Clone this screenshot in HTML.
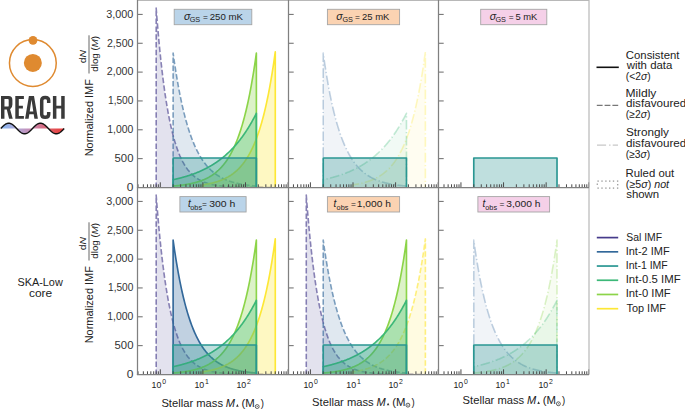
<!DOCTYPE html><html><head><meta charset="utf-8"><style>html,body{margin:0;padding:0;background:#fff;}svg{display:block}text{font-family:"Liberation Sans", sans-serif}</style></head><body>
<svg width="685" height="409" viewBox="0 0 685 409">
<defs>
<clipPath id="cp00"><rect x="137.5" y="0" width="151" height="187.5"/></clipPath>
<clipPath id="cp10"><rect x="288.5" y="0" width="150" height="187.5"/></clipPath>
<clipPath id="cp20"><rect x="438.5" y="0" width="150.5" height="187.5"/></clipPath>
<clipPath id="cp01"><rect x="137.5" y="187.5" width="151" height="187"/></clipPath>
<clipPath id="cp11"><rect x="288.5" y="187.5" width="150" height="187"/></clipPath>
<clipPath id="cp21"><rect x="438.5" y="187.5" width="150.5" height="187"/></clipPath>
<linearGradient id="wg" gradientUnits="userSpaceOnUse" x1="0.8" y1="0" x2="64.2" y2="0"><stop offset="0" stop-color="#84b8f4"/><stop offset="0.25" stop-color="#b0a8d8"/><stop offset="0.5" stop-color="#cc88b0"/><stop offset="0.62" stop-color="#d27592"/><stop offset="0.78" stop-color="#de5a60"/><stop offset="1" stop-color="#ea3a38"/></linearGradient>
</defs>
<g clip-path="url(#cp00)">
<path d="M156.17,187.5 L156.17,8.11 L156.92,17.59 L157.66,26.58 L158.4,35.09 L159.15,43.14 L159.89,50.78 L160.64,58 L161.38,64.85 L162.13,71.33 L162.87,77.48 L163.62,83.29 L164.36,88.8 L165.1,94.02 L165.85,98.96 L166.59,103.64 L167.34,108.08 L168.08,112.28 L168.83,116.25 L169.57,120.02 L170.32,123.59 L171.06,126.97 L171.8,130.17 L172.55,133.2 L173.29,136.07 L174.04,138.79 L174.78,141.36 L175.53,143.8 L176.27,146.11 L177.01,148.3 L177.76,150.37 L178.5,152.34 L179.25,154.2 L179.99,155.96 L180.74,157.62 L181.48,159.2 L182.23,160.7 L182.97,162.12 L183.71,163.46 L184.46,164.73 L185.2,165.93 L185.95,167.07 L186.69,168.15 L187.44,169.18 L188.18,170.15 L188.93,171.06 L189.67,171.93 L190.41,172.75 L191.16,173.53 L191.9,174.27 L192.65,174.97 L193.39,175.63 L194.14,176.26 L194.88,176.86 L195.62,177.42 L196.37,177.95 L197.11,178.46 L197.86,178.93 L198.6,179.39 L199.35,179.82 L200.09,180.22 L200.84,180.61 L201.58,180.97 L202.32,181.32 L203.07,181.64 L203.81,181.95 L204.56,182.25 L205.3,182.52 L206.05,182.79 L206.79,183.04 L207.54,183.27 L208.28,183.5 L209.02,183.71 L209.77,183.91 L210.51,184.1 L211.26,184.28 L212,184.45 L212.75,184.61 L213.49,184.76 L214.24,184.91 L214.98,185.04 L215.72,185.17 L216.47,185.3 L217.21,185.41 L217.96,185.52 L218.7,185.63 L219.45,185.73 L220.19,185.82 L220.93,185.91 L221.68,185.99 L222.42,186.07 L223.17,186.15 L223.91,186.22 L224.66,186.29 L225.4,186.35 L226.15,186.41 L226.89,186.47 L227.63,186.52 L228.38,186.58 L229.12,186.63 L229.87,186.67 L230.61,186.72 L231.36,186.76 L232.1,186.8 L232.85,186.83 L233.59,186.87 L234.33,186.9 L235.08,186.93 L235.82,186.96 L236.57,186.99 L237.31,187.02 L238.06,187.04 L238.8,187.07 L239.54,187.09 L240.29,187.11 L241.03,187.13 L241.78,187.15 L242.52,187.17 L243.27,187.19 L244.01,187.2 L244.76,187.22 L245.5,187.24 L246.24,187.25 L246.99,187.26 L247.73,187.27 L248.48,187.29 L249.22,187.3 L249.97,187.31 L250.71,187.32 L251.46,187.33 L252.2,187.34 L252.94,187.35 L253.69,187.35 L254.43,187.36 L255.18,187.37 L255.92,187.38 L256.67,187.38 L257.41,187.39 L258.15,187.39 L258.9,187.4 L259.64,187.41 L260.39,187.41 L261.13,187.42 L261.88,187.42 L262.62,187.42 L263.37,187.43 L264.11,187.43 L264.85,187.44 L265.6,187.44 L266.34,187.44 L267.09,187.45 L267.83,187.45 L268.58,187.45 L269.32,187.45 L270.07,187.46 L270.81,187.46 L271.55,187.46 L272.3,187.46 L273.04,187.46 L273.79,187.47 L274.53,187.47 L275.28,187.47 L275.28,187.5 Z" fill="rgba(70,59,139,0.150)"/>
<path d="M156.17,187.5 L156.17,8.11 L156.92,17.59 L157.66,26.58 L158.4,35.09 L159.15,43.14 L159.89,50.78 L160.64,58 L161.38,64.85 L162.13,71.33 L162.87,77.48 L163.62,83.29 L164.36,88.8 L165.1,94.02 L165.85,98.96 L166.59,103.64 L167.34,108.08 L168.08,112.28 L168.83,116.25 L169.57,120.02 L170.32,123.59 L171.06,126.97 L171.8,130.17 L172.55,133.2 L173.29,136.07 L174.04,138.79 L174.78,141.36 L175.53,143.8 L176.27,146.11 L177.01,148.3 L177.76,150.37 L178.5,152.34 L179.25,154.2 L179.99,155.96 L180.74,157.62 L181.48,159.2 L182.23,160.7 L182.97,162.12 L183.71,163.46 L184.46,164.73 L185.2,165.93 L185.95,167.07 L186.69,168.15 L187.44,169.18 L188.18,170.15 L188.93,171.06 L189.67,171.93 L190.41,172.75 L191.16,173.53 L191.9,174.27 L192.65,174.97 L193.39,175.63 L194.14,176.26 L194.88,176.86 L195.62,177.42 L196.37,177.95 L197.11,178.46 L197.86,178.93 L198.6,179.39 L199.35,179.82 L200.09,180.22 L200.84,180.61 L201.58,180.97 L202.32,181.32 L203.07,181.64 L203.81,181.95 L204.56,182.25 L205.3,182.52 L206.05,182.79 L206.79,183.04 L207.54,183.27 L208.28,183.5 L209.02,183.71 L209.77,183.91 L210.51,184.1 L211.26,184.28 L212,184.45 L212.75,184.61 L213.49,184.76 L214.24,184.91 L214.98,185.04 L215.72,185.17 L216.47,185.3 L217.21,185.41 L217.96,185.52 L218.7,185.63 L219.45,185.73 L220.19,185.82 L220.93,185.91 L221.68,185.99 L222.42,186.07 L223.17,186.15 L223.91,186.22 L224.66,186.29 L225.4,186.35 L226.15,186.41 L226.89,186.47 L227.63,186.52 L228.38,186.58 L229.12,186.63 L229.87,186.67 L230.61,186.72 L231.36,186.76 L232.1,186.8 L232.85,186.83 L233.59,186.87 L234.33,186.9 L235.08,186.93 L235.82,186.96 L236.57,186.99 L237.31,187.02 L238.06,187.04 L238.8,187.07 L239.54,187.09 L240.29,187.11 L241.03,187.13 L241.78,187.15 L242.52,187.17 L243.27,187.19 L244.01,187.2 L244.76,187.22 L245.5,187.24 L246.24,187.25 L246.99,187.26 L247.73,187.27 L248.48,187.29 L249.22,187.3 L249.97,187.31 L250.71,187.32 L251.46,187.33 L252.2,187.34 L252.94,187.35 L253.69,187.35 L254.43,187.36 L255.18,187.37 L255.92,187.38 L256.67,187.38 L257.41,187.39 L258.15,187.39 L258.9,187.4 L259.64,187.41 L260.39,187.41 L261.13,187.42 L261.88,187.42 L262.62,187.42 L263.37,187.43 L264.11,187.43 L264.85,187.44 L265.6,187.44 L266.34,187.44 L267.09,187.45 L267.83,187.45 L268.58,187.45 L269.32,187.45 L270.07,187.46 L270.81,187.46 L271.55,187.46 L272.3,187.46 L273.04,187.46 L273.79,187.47 L274.53,187.47 L275.28,187.47 L275.28,187.5" fill="none" stroke="rgba(70,59,139,0.620)" stroke-width="1.6" stroke-linejoin="round" stroke-dasharray="5.5 2.3" stroke-dashoffset="0.4"/>
<path d="M173.12,187.5 L173.12,53.15 L173.64,56.87 L174.16,60.5 L174.68,64.02 L175.21,67.44 L175.73,70.77 L176.25,74.01 L176.77,77.16 L177.29,80.22 L177.81,83.19 L178.33,86.08 L178.85,88.9 L179.37,91.63 L179.89,94.29 L180.41,96.88 L180.93,99.39 L181.45,101.83 L181.97,104.21 L182.49,106.52 L183.01,108.76 L183.53,110.95 L184.05,113.07 L184.57,115.13 L185.09,117.14 L185.61,119.09 L186.13,120.99 L186.65,122.83 L187.17,124.63 L187.69,126.37 L188.21,128.07 L188.73,129.71 L189.25,131.32 L189.77,132.87 L190.29,134.39 L190.81,135.86 L191.33,137.29 L191.86,138.69 L192.38,140.04 L192.9,141.36 L193.42,142.64 L193.94,143.88 L194.46,145.09 L194.98,146.27 L195.5,147.41 L196.02,148.52 L196.54,149.6 L197.06,150.65 L197.58,151.68 L198.1,152.67 L198.62,153.63 L199.14,154.57 L199.66,155.49 L200.18,156.37 L200.7,157.24 L201.22,158.08 L201.74,158.89 L202.26,159.69 L202.78,160.46 L203.3,161.21 L203.82,161.94 L204.34,162.65 L204.86,163.33 L205.38,164.01 L205.9,164.66 L206.42,165.29 L206.94,165.91 L207.46,166.5 L207.99,167.09 L208.51,167.65 L209.03,168.2 L209.55,168.74 L210.07,169.26 L210.59,169.76 L211.11,170.26 L211.63,170.73 L212.15,171.2 L212.67,171.65 L213.19,172.09 L213.71,172.52 L214.23,172.93 L214.75,173.34 L215.27,173.73 L215.79,174.11 L216.31,174.48 L216.83,174.84 L217.35,175.2 L217.87,175.54 L218.39,175.87 L218.91,176.19 L219.43,176.5 L219.95,176.81 L220.47,177.11 L220.99,177.39 L221.51,177.67 L222.03,177.95 L222.55,178.21 L223.07,178.47 L223.59,178.72 L224.11,178.96 L224.64,179.2 L225.16,179.43 L225.68,179.65 L226.2,179.87 L226.72,180.08 L227.24,180.29 L227.76,180.49 L228.28,180.68 L228.8,180.87 L229.32,181.06 L229.84,181.24 L230.36,181.41 L230.88,181.58 L231.4,181.74 L231.92,181.9 L232.44,182.06 L232.96,182.21 L233.48,182.35 L234,182.5 L234.52,182.64 L235.04,182.77 L235.56,182.9 L236.08,183.03 L236.6,183.15 L237.12,183.27 L237.64,183.39 L238.16,183.51 L238.68,183.62 L239.2,183.72 L239.72,183.83 L240.24,183.93 L240.77,184.03 L241.29,184.13 L241.81,184.22 L242.33,184.31 L242.85,184.4 L243.37,184.48 L243.89,184.57 L244.41,184.65 L244.93,184.73 L245.45,184.81 L245.97,184.88 L246.49,184.95 L247.01,185.02 L247.53,185.09 L248.05,185.16 L248.57,185.22 L249.09,185.29 L249.61,185.35 L250.13,185.41 L250.65,185.47 L251.17,185.52 L251.69,185.58 L252.21,185.63 L252.73,185.68 L253.25,185.73 L253.77,185.78 L254.29,185.83 L254.81,185.88 L255.33,185.92 L255.85,185.96 L256.37,186.01 L256.37,187.5 Z" fill="rgba(50,104,154,0.150)"/>
<path d="M173.12,187.5 L173.12,53.15 L173.64,56.87 L174.16,60.5 L174.68,64.02 L175.21,67.44 L175.73,70.77 L176.25,74.01 L176.77,77.16 L177.29,80.22 L177.81,83.19 L178.33,86.08 L178.85,88.9 L179.37,91.63 L179.89,94.29 L180.41,96.88 L180.93,99.39 L181.45,101.83 L181.97,104.21 L182.49,106.52 L183.01,108.76 L183.53,110.95 L184.05,113.07 L184.57,115.13 L185.09,117.14 L185.61,119.09 L186.13,120.99 L186.65,122.83 L187.17,124.63 L187.69,126.37 L188.21,128.07 L188.73,129.71 L189.25,131.32 L189.77,132.87 L190.29,134.39 L190.81,135.86 L191.33,137.29 L191.86,138.69 L192.38,140.04 L192.9,141.36 L193.42,142.64 L193.94,143.88 L194.46,145.09 L194.98,146.27 L195.5,147.41 L196.02,148.52 L196.54,149.6 L197.06,150.65 L197.58,151.68 L198.1,152.67 L198.62,153.63 L199.14,154.57 L199.66,155.49 L200.18,156.37 L200.7,157.24 L201.22,158.08 L201.74,158.89 L202.26,159.69 L202.78,160.46 L203.3,161.21 L203.82,161.94 L204.34,162.65 L204.86,163.33 L205.38,164.01 L205.9,164.66 L206.42,165.29 L206.94,165.91 L207.46,166.5 L207.99,167.09 L208.51,167.65 L209.03,168.2 L209.55,168.74 L210.07,169.26 L210.59,169.76 L211.11,170.26 L211.63,170.73 L212.15,171.2 L212.67,171.65 L213.19,172.09 L213.71,172.52 L214.23,172.93 L214.75,173.34 L215.27,173.73 L215.79,174.11 L216.31,174.48 L216.83,174.84 L217.35,175.2 L217.87,175.54 L218.39,175.87 L218.91,176.19 L219.43,176.5 L219.95,176.81 L220.47,177.11 L220.99,177.39 L221.51,177.67 L222.03,177.95 L222.55,178.21 L223.07,178.47 L223.59,178.72 L224.11,178.96 L224.64,179.2 L225.16,179.43 L225.68,179.65 L226.2,179.87 L226.72,180.08 L227.24,180.29 L227.76,180.49 L228.28,180.68 L228.8,180.87 L229.32,181.06 L229.84,181.24 L230.36,181.41 L230.88,181.58 L231.4,181.74 L231.92,181.9 L232.44,182.06 L232.96,182.21 L233.48,182.35 L234,182.5 L234.52,182.64 L235.04,182.77 L235.56,182.9 L236.08,183.03 L236.6,183.15 L237.12,183.27 L237.64,183.39 L238.16,183.51 L238.68,183.62 L239.2,183.72 L239.72,183.83 L240.24,183.93 L240.77,184.03 L241.29,184.13 L241.81,184.22 L242.33,184.31 L242.85,184.4 L243.37,184.48 L243.89,184.57 L244.41,184.65 L244.93,184.73 L245.45,184.81 L245.97,184.88 L246.49,184.95 L247.01,185.02 L247.53,185.09 L248.05,185.16 L248.57,185.22 L249.09,185.29 L249.61,185.35 L250.13,185.41 L250.65,185.47 L251.17,185.52 L251.69,185.58 L252.21,185.63 L252.73,185.68 L253.25,185.73 L253.77,185.78 L254.29,185.83 L254.81,185.88 L255.33,185.92 L255.85,185.96 L256.37,186.01 L256.37,187.5" fill="none" stroke="rgba(50,104,154,0.620)" stroke-width="1.6" stroke-linejoin="round" stroke-dasharray="5.5 2.3" stroke-dashoffset="0.4"/>
<path d="M202.9,187.5 L202.9,184.79 L203.35,184.72 L203.8,184.65 L204.26,184.58 L204.71,184.51 L205.16,184.44 L205.61,184.36 L206.07,184.28 L206.52,184.2 L206.97,184.12 L207.42,184.04 L207.88,183.95 L208.33,183.86 L208.78,183.77 L209.23,183.68 L209.69,183.59 L210.14,183.49 L210.59,183.39 L211.04,183.29 L211.49,183.19 L211.95,183.08 L212.4,182.97 L212.85,182.86 L213.3,182.74 L213.76,182.62 L214.21,182.5 L214.66,182.38 L215.11,182.25 L215.57,182.12 L216.02,181.99 L216.47,181.85 L216.92,181.71 L217.38,181.57 L217.83,181.42 L218.28,181.27 L218.73,181.12 L219.18,180.96 L219.64,180.8 L220.09,180.63 L220.54,180.46 L220.99,180.29 L221.45,180.11 L221.9,179.93 L222.35,179.74 L222.8,179.55 L223.26,179.35 L223.71,179.15 L224.16,178.94 L224.61,178.73 L225.07,178.52 L225.52,178.29 L225.97,178.06 L226.42,177.83 L226.87,177.59 L227.33,177.35 L227.78,177.1 L228.23,176.84 L228.68,176.57 L229.14,176.3 L229.59,176.03 L230.04,175.74 L230.49,175.45 L230.95,175.15 L231.4,174.85 L231.85,174.53 L232.3,174.21 L232.76,173.88 L233.21,173.55 L233.66,173.2 L234.11,172.85 L234.56,172.49 L235.02,172.11 L235.47,171.73 L235.92,171.34 L236.37,170.94 L236.83,170.53 L237.28,170.11 L237.73,169.68 L238.18,169.24 L238.64,168.79 L239.09,168.33 L239.54,167.85 L239.99,167.37 L240.45,166.87 L240.9,166.36 L241.35,165.83 L241.8,165.3 L242.25,164.75 L242.71,164.19 L243.16,163.61 L243.61,163.02 L244.06,162.41 L244.52,161.79 L244.97,161.15 L245.42,160.5 L245.87,159.83 L246.33,159.15 L246.78,158.45 L247.23,157.73 L247.68,156.99 L248.14,156.24 L248.59,155.46 L249.04,154.67 L249.49,153.86 L249.94,153.02 L250.4,152.17 L250.85,151.3 L251.3,150.4 L251.75,149.48 L252.21,148.54 L252.66,147.58 L253.11,146.59 L253.56,145.57 L254.02,144.54 L254.47,143.47 L254.92,142.38 L255.37,141.27 L255.83,140.12 L256.28,138.95 L256.73,137.75 L257.18,136.52 L257.63,135.26 L258.09,133.96 L258.54,132.64 L258.99,131.28 L259.44,129.89 L259.9,128.46 L260.35,127 L260.8,125.5 L261.25,123.97 L261.71,122.4 L262.16,120.78 L262.61,119.13 L263.06,117.44 L263.52,115.71 L263.97,113.93 L264.42,112.11 L264.87,110.24 L265.32,108.33 L265.78,106.37 L266.23,104.36 L266.68,102.31 L267.13,100.2 L267.59,98.04 L268.04,95.82 L268.49,93.55 L268.94,91.23 L269.4,88.84 L269.85,86.4 L270.3,83.9 L270.75,81.34 L271.2,78.71 L271.66,76.01 L272.11,73.26 L272.56,70.43 L273.01,67.53 L273.47,64.56 L273.92,61.52 L274.37,58.4 L274.82,55.2 L275.28,51.93 L275.28,187.5 Z" fill="rgba(253,231,53,0.300)"/>
<path d="M202.9,187.5 L202.9,184.79 L203.35,184.72 L203.8,184.65 L204.26,184.58 L204.71,184.51 L205.16,184.44 L205.61,184.36 L206.07,184.28 L206.52,184.2 L206.97,184.12 L207.42,184.04 L207.88,183.95 L208.33,183.86 L208.78,183.77 L209.23,183.68 L209.69,183.59 L210.14,183.49 L210.59,183.39 L211.04,183.29 L211.49,183.19 L211.95,183.08 L212.4,182.97 L212.85,182.86 L213.3,182.74 L213.76,182.62 L214.21,182.5 L214.66,182.38 L215.11,182.25 L215.57,182.12 L216.02,181.99 L216.47,181.85 L216.92,181.71 L217.38,181.57 L217.83,181.42 L218.28,181.27 L218.73,181.12 L219.18,180.96 L219.64,180.8 L220.09,180.63 L220.54,180.46 L220.99,180.29 L221.45,180.11 L221.9,179.93 L222.35,179.74 L222.8,179.55 L223.26,179.35 L223.71,179.15 L224.16,178.94 L224.61,178.73 L225.07,178.52 L225.52,178.29 L225.97,178.06 L226.42,177.83 L226.87,177.59 L227.33,177.35 L227.78,177.1 L228.23,176.84 L228.68,176.57 L229.14,176.3 L229.59,176.03 L230.04,175.74 L230.49,175.45 L230.95,175.15 L231.4,174.85 L231.85,174.53 L232.3,174.21 L232.76,173.88 L233.21,173.55 L233.66,173.2 L234.11,172.85 L234.56,172.49 L235.02,172.11 L235.47,171.73 L235.92,171.34 L236.37,170.94 L236.83,170.53 L237.28,170.11 L237.73,169.68 L238.18,169.24 L238.64,168.79 L239.09,168.33 L239.54,167.85 L239.99,167.37 L240.45,166.87 L240.9,166.36 L241.35,165.83 L241.8,165.3 L242.25,164.75 L242.71,164.19 L243.16,163.61 L243.61,163.02 L244.06,162.41 L244.52,161.79 L244.97,161.15 L245.42,160.5 L245.87,159.83 L246.33,159.15 L246.78,158.45 L247.23,157.73 L247.68,156.99 L248.14,156.24 L248.59,155.46 L249.04,154.67 L249.49,153.86 L249.94,153.02 L250.4,152.17 L250.85,151.3 L251.3,150.4 L251.75,149.48 L252.21,148.54 L252.66,147.58 L253.11,146.59 L253.56,145.57 L254.02,144.54 L254.47,143.47 L254.92,142.38 L255.37,141.27 L255.83,140.12 L256.28,138.95 L256.73,137.75 L257.18,136.52 L257.63,135.26 L258.09,133.96 L258.54,132.64 L258.99,131.28 L259.44,129.89 L259.9,128.46 L260.35,127 L260.8,125.5 L261.25,123.97 L261.71,122.4 L262.16,120.78 L262.61,119.13 L263.06,117.44 L263.52,115.71 L263.97,113.93 L264.42,112.11 L264.87,110.24 L265.32,108.33 L265.78,106.37 L266.23,104.36 L266.68,102.31 L267.13,100.2 L267.59,98.04 L268.04,95.82 L268.49,93.55 L268.94,91.23 L269.4,88.84 L269.85,86.4 L270.3,83.9 L270.75,81.34 L271.2,78.71 L271.66,76.01 L272.11,73.26 L272.56,70.43 L273.01,67.53 L273.47,64.56 L273.92,61.52 L274.37,58.4 L274.82,55.2 L275.28,51.93 L275.28,187.5" fill="none" stroke="rgba(253,231,53,1.000)" stroke-width="1.65" stroke-linejoin="round"/>
<path d="M173.12,187.5 L173.12,186.01 L173.64,185.96 L174.16,185.92 L174.68,185.88 L175.21,185.83 L175.73,185.78 L176.25,185.73 L176.77,185.68 L177.29,185.63 L177.81,185.58 L178.33,185.52 L178.85,185.47 L179.37,185.41 L179.89,185.35 L180.41,185.29 L180.93,185.22 L181.45,185.16 L181.97,185.09 L182.49,185.02 L183.01,184.95 L183.53,184.88 L184.05,184.81 L184.57,184.73 L185.09,184.65 L185.61,184.57 L186.13,184.48 L186.65,184.4 L187.17,184.31 L187.69,184.22 L188.21,184.13 L188.73,184.03 L189.25,183.93 L189.77,183.83 L190.29,183.72 L190.81,183.62 L191.33,183.51 L191.86,183.39 L192.38,183.27 L192.9,183.15 L193.42,183.03 L193.94,182.9 L194.46,182.77 L194.98,182.64 L195.5,182.5 L196.02,182.35 L196.54,182.21 L197.06,182.06 L197.58,181.9 L198.1,181.74 L198.62,181.58 L199.14,181.41 L199.66,181.24 L200.18,181.06 L200.7,180.87 L201.22,180.68 L201.74,180.49 L202.26,180.29 L202.78,180.08 L203.3,179.87 L203.82,179.65 L204.34,179.43 L204.86,179.2 L205.38,178.96 L205.9,178.72 L206.42,178.47 L206.94,178.21 L207.46,177.95 L207.99,177.67 L208.51,177.39 L209.03,177.11 L209.55,176.81 L210.07,176.5 L210.59,176.19 L211.11,175.87 L211.63,175.54 L212.15,175.2 L212.67,174.84 L213.19,174.48 L213.71,174.11 L214.23,173.73 L214.75,173.34 L215.27,172.93 L215.79,172.52 L216.31,172.09 L216.83,171.65 L217.35,171.2 L217.87,170.73 L218.39,170.26 L218.91,169.76 L219.43,169.26 L219.95,168.74 L220.47,168.2 L220.99,167.65 L221.51,167.09 L222.03,166.5 L222.55,165.91 L223.07,165.29 L223.59,164.66 L224.11,164.01 L224.64,163.33 L225.16,162.65 L225.68,161.94 L226.2,161.21 L226.72,160.46 L227.24,159.69 L227.76,158.89 L228.28,158.08 L228.8,157.24 L229.32,156.37 L229.84,155.49 L230.36,154.57 L230.88,153.63 L231.4,152.67 L231.92,151.68 L232.44,150.65 L232.96,149.6 L233.48,148.52 L234,147.41 L234.52,146.27 L235.04,145.09 L235.56,143.88 L236.08,142.64 L236.6,141.36 L237.12,140.04 L237.64,138.69 L238.16,137.29 L238.68,135.86 L239.2,134.39 L239.72,132.87 L240.24,131.32 L240.77,129.71 L241.29,128.07 L241.81,126.37 L242.33,124.63 L242.85,122.83 L243.37,120.99 L243.89,119.09 L244.41,117.14 L244.93,115.13 L245.45,113.07 L245.97,110.95 L246.49,108.76 L247.01,106.52 L247.53,104.21 L248.05,101.83 L248.57,99.39 L249.09,96.88 L249.61,94.29 L250.13,91.63 L250.65,88.9 L251.17,86.08 L251.69,83.19 L252.21,80.22 L252.73,77.16 L253.25,74.01 L253.77,70.77 L254.29,67.44 L254.81,64.02 L255.33,60.5 L255.85,56.87 L256.37,53.15 L256.37,187.5 Z" fill="rgba(140,212,73,0.300)"/>
<path d="M173.12,187.5 L173.12,186.01 L173.64,185.96 L174.16,185.92 L174.68,185.88 L175.21,185.83 L175.73,185.78 L176.25,185.73 L176.77,185.68 L177.29,185.63 L177.81,185.58 L178.33,185.52 L178.85,185.47 L179.37,185.41 L179.89,185.35 L180.41,185.29 L180.93,185.22 L181.45,185.16 L181.97,185.09 L182.49,185.02 L183.01,184.95 L183.53,184.88 L184.05,184.81 L184.57,184.73 L185.09,184.65 L185.61,184.57 L186.13,184.48 L186.65,184.4 L187.17,184.31 L187.69,184.22 L188.21,184.13 L188.73,184.03 L189.25,183.93 L189.77,183.83 L190.29,183.72 L190.81,183.62 L191.33,183.51 L191.86,183.39 L192.38,183.27 L192.9,183.15 L193.42,183.03 L193.94,182.9 L194.46,182.77 L194.98,182.64 L195.5,182.5 L196.02,182.35 L196.54,182.21 L197.06,182.06 L197.58,181.9 L198.1,181.74 L198.62,181.58 L199.14,181.41 L199.66,181.24 L200.18,181.06 L200.7,180.87 L201.22,180.68 L201.74,180.49 L202.26,180.29 L202.78,180.08 L203.3,179.87 L203.82,179.65 L204.34,179.43 L204.86,179.2 L205.38,178.96 L205.9,178.72 L206.42,178.47 L206.94,178.21 L207.46,177.95 L207.99,177.67 L208.51,177.39 L209.03,177.11 L209.55,176.81 L210.07,176.5 L210.59,176.19 L211.11,175.87 L211.63,175.54 L212.15,175.2 L212.67,174.84 L213.19,174.48 L213.71,174.11 L214.23,173.73 L214.75,173.34 L215.27,172.93 L215.79,172.52 L216.31,172.09 L216.83,171.65 L217.35,171.2 L217.87,170.73 L218.39,170.26 L218.91,169.76 L219.43,169.26 L219.95,168.74 L220.47,168.2 L220.99,167.65 L221.51,167.09 L222.03,166.5 L222.55,165.91 L223.07,165.29 L223.59,164.66 L224.11,164.01 L224.64,163.33 L225.16,162.65 L225.68,161.94 L226.2,161.21 L226.72,160.46 L227.24,159.69 L227.76,158.89 L228.28,158.08 L228.8,157.24 L229.32,156.37 L229.84,155.49 L230.36,154.57 L230.88,153.63 L231.4,152.67 L231.92,151.68 L232.44,150.65 L232.96,149.6 L233.48,148.52 L234,147.41 L234.52,146.27 L235.04,145.09 L235.56,143.88 L236.08,142.64 L236.6,141.36 L237.12,140.04 L237.64,138.69 L238.16,137.29 L238.68,135.86 L239.2,134.39 L239.72,132.87 L240.24,131.32 L240.77,129.71 L241.29,128.07 L241.81,126.37 L242.33,124.63 L242.85,122.83 L243.37,120.99 L243.89,119.09 L244.41,117.14 L244.93,115.13 L245.45,113.07 L245.97,110.95 L246.49,108.76 L247.01,106.52 L247.53,104.21 L248.05,101.83 L248.57,99.39 L249.09,96.88 L249.61,94.29 L250.13,91.63 L250.65,88.9 L251.17,86.08 L251.69,83.19 L252.21,80.22 L252.73,77.16 L253.25,74.01 L253.77,70.77 L254.29,67.44 L254.81,64.02 L255.33,60.5 L255.85,56.87 L256.37,53.15 L256.37,187.5" fill="none" stroke="rgba(140,212,73,1.000)" stroke-width="1.65" stroke-linejoin="round"/>
<path d="M173.12,187.5 L173.12,179.67 L173.64,179.56 L174.16,179.45 L174.68,179.34 L175.21,179.22 L175.73,179.1 L176.25,178.98 L176.77,178.86 L177.29,178.74 L177.81,178.62 L178.33,178.49 L178.85,178.36 L179.37,178.23 L179.89,178.1 L180.41,177.97 L180.93,177.83 L181.45,177.7 L181.97,177.56 L182.49,177.42 L183.01,177.28 L183.53,177.13 L184.05,176.98 L184.57,176.83 L185.09,176.68 L185.61,176.53 L186.13,176.38 L186.65,176.22 L187.17,176.06 L187.69,175.9 L188.21,175.73 L188.73,175.56 L189.25,175.4 L189.77,175.22 L190.29,175.05 L190.81,174.87 L191.33,174.7 L191.86,174.51 L192.38,174.33 L192.9,174.14 L193.42,173.95 L193.94,173.76 L194.46,173.57 L194.98,173.37 L195.5,173.17 L196.02,172.97 L196.54,172.76 L197.06,172.55 L197.58,172.34 L198.1,172.13 L198.62,171.91 L199.14,171.69 L199.66,171.46 L200.18,171.24 L200.7,171.01 L201.22,170.77 L201.74,170.54 L202.26,170.3 L202.78,170.05 L203.3,169.81 L203.82,169.56 L204.34,169.3 L204.86,169.04 L205.38,168.78 L205.9,168.52 L206.42,168.25 L206.94,167.98 L207.46,167.7 L207.99,167.42 L208.51,167.13 L209.03,166.85 L209.55,166.55 L210.07,166.26 L210.59,165.96 L211.11,165.65 L211.63,165.34 L212.15,165.03 L212.67,164.71 L213.19,164.39 L213.71,164.06 L214.23,163.73 L214.75,163.39 L215.27,163.05 L215.79,162.7 L216.31,162.35 L216.83,162 L217.35,161.64 L217.87,161.27 L218.39,160.9 L218.91,160.52 L219.43,160.14 L219.95,159.75 L220.47,159.36 L220.99,158.96 L221.51,158.56 L222.03,158.15 L222.55,157.73 L223.07,157.31 L223.59,156.88 L224.11,156.45 L224.64,156.01 L225.16,155.56 L225.68,155.11 L226.2,154.65 L226.72,154.19 L227.24,153.71 L227.76,153.23 L228.28,152.75 L228.8,152.26 L229.32,151.76 L229.84,151.25 L230.36,150.74 L230.88,150.22 L231.4,149.69 L231.92,149.16 L232.44,148.61 L232.96,148.06 L233.48,147.5 L234,146.94 L234.52,146.36 L235.04,145.78 L235.56,145.19 L236.08,144.59 L236.6,143.98 L237.12,143.37 L237.64,142.74 L238.16,142.11 L238.68,141.46 L239.2,140.81 L239.72,140.15 L240.24,139.48 L240.77,138.8 L241.29,138.11 L241.81,137.41 L242.33,136.7 L242.85,135.98 L243.37,135.25 L243.89,134.51 L244.41,133.76 L244.93,133 L245.45,132.23 L245.97,131.45 L246.49,130.65 L247.01,129.85 L247.53,129.03 L248.05,128.2 L248.57,127.36 L249.09,126.51 L249.61,125.65 L250.13,124.77 L250.65,123.88 L251.17,122.98 L251.69,122.07 L252.21,121.14 L252.73,120.2 L253.25,119.25 L253.77,118.28 L254.29,117.3 L254.81,116.31 L255.33,115.3 L255.85,114.28 L256.37,113.24 L256.37,187.5 Z" fill="rgba(60,184,120,0.300)"/>
<path d="M173.12,187.5 L173.12,179.67 L173.64,179.56 L174.16,179.45 L174.68,179.34 L175.21,179.22 L175.73,179.1 L176.25,178.98 L176.77,178.86 L177.29,178.74 L177.81,178.62 L178.33,178.49 L178.85,178.36 L179.37,178.23 L179.89,178.1 L180.41,177.97 L180.93,177.83 L181.45,177.7 L181.97,177.56 L182.49,177.42 L183.01,177.28 L183.53,177.13 L184.05,176.98 L184.57,176.83 L185.09,176.68 L185.61,176.53 L186.13,176.38 L186.65,176.22 L187.17,176.06 L187.69,175.9 L188.21,175.73 L188.73,175.56 L189.25,175.4 L189.77,175.22 L190.29,175.05 L190.81,174.87 L191.33,174.7 L191.86,174.51 L192.38,174.33 L192.9,174.14 L193.42,173.95 L193.94,173.76 L194.46,173.57 L194.98,173.37 L195.5,173.17 L196.02,172.97 L196.54,172.76 L197.06,172.55 L197.58,172.34 L198.1,172.13 L198.62,171.91 L199.14,171.69 L199.66,171.46 L200.18,171.24 L200.7,171.01 L201.22,170.77 L201.74,170.54 L202.26,170.3 L202.78,170.05 L203.3,169.81 L203.82,169.56 L204.34,169.3 L204.86,169.04 L205.38,168.78 L205.9,168.52 L206.42,168.25 L206.94,167.98 L207.46,167.7 L207.99,167.42 L208.51,167.13 L209.03,166.85 L209.55,166.55 L210.07,166.26 L210.59,165.96 L211.11,165.65 L211.63,165.34 L212.15,165.03 L212.67,164.71 L213.19,164.39 L213.71,164.06 L214.23,163.73 L214.75,163.39 L215.27,163.05 L215.79,162.7 L216.31,162.35 L216.83,162 L217.35,161.64 L217.87,161.27 L218.39,160.9 L218.91,160.52 L219.43,160.14 L219.95,159.75 L220.47,159.36 L220.99,158.96 L221.51,158.56 L222.03,158.15 L222.55,157.73 L223.07,157.31 L223.59,156.88 L224.11,156.45 L224.64,156.01 L225.16,155.56 L225.68,155.11 L226.2,154.65 L226.72,154.19 L227.24,153.71 L227.76,153.23 L228.28,152.75 L228.8,152.26 L229.32,151.76 L229.84,151.25 L230.36,150.74 L230.88,150.22 L231.4,149.69 L231.92,149.16 L232.44,148.61 L232.96,148.06 L233.48,147.5 L234,146.94 L234.52,146.36 L235.04,145.78 L235.56,145.19 L236.08,144.59 L236.6,143.98 L237.12,143.37 L237.64,142.74 L238.16,142.11 L238.68,141.46 L239.2,140.81 L239.72,140.15 L240.24,139.48 L240.77,138.8 L241.29,138.11 L241.81,137.41 L242.33,136.7 L242.85,135.98 L243.37,135.25 L243.89,134.51 L244.41,133.76 L244.93,133 L245.45,132.23 L245.97,131.45 L246.49,130.65 L247.01,129.85 L247.53,129.03 L248.05,128.2 L248.57,127.36 L249.09,126.51 L249.61,125.65 L250.13,124.77 L250.65,123.88 L251.17,122.98 L251.69,122.07 L252.21,121.14 L252.73,120.2 L253.25,119.25 L253.77,118.28 L254.29,117.3 L254.81,116.31 L255.33,115.3 L255.85,114.28 L256.37,113.24 L256.37,187.5" fill="none" stroke="rgba(60,184,120,1.000)" stroke-width="1.65" stroke-linejoin="round"/>
<path d="M173.12,187.5 L173.12,157.97 L173.64,157.97 L174.16,157.97 L174.68,157.97 L175.21,157.97 L175.73,157.97 L176.25,157.97 L176.77,157.97 L177.29,157.97 L177.81,157.97 L178.33,157.97 L178.85,157.97 L179.37,157.97 L179.89,157.97 L180.41,157.97 L180.93,157.97 L181.45,157.97 L181.97,157.97 L182.49,157.97 L183.01,157.97 L183.53,157.97 L184.05,157.97 L184.57,157.97 L185.09,157.97 L185.61,157.97 L186.13,157.97 L186.65,157.97 L187.17,157.97 L187.69,157.97 L188.21,157.97 L188.73,157.97 L189.25,157.97 L189.77,157.97 L190.29,157.97 L190.81,157.97 L191.33,157.97 L191.86,157.97 L192.38,157.97 L192.9,157.97 L193.42,157.97 L193.94,157.97 L194.46,157.97 L194.98,157.97 L195.5,157.97 L196.02,157.97 L196.54,157.97 L197.06,157.97 L197.58,157.97 L198.1,157.97 L198.62,157.97 L199.14,157.97 L199.66,157.97 L200.18,157.97 L200.7,157.97 L201.22,157.97 L201.74,157.97 L202.26,157.97 L202.78,157.97 L203.3,157.97 L203.82,157.97 L204.34,157.97 L204.86,157.97 L205.38,157.97 L205.9,157.97 L206.42,157.97 L206.94,157.97 L207.46,157.97 L207.99,157.97 L208.51,157.97 L209.03,157.97 L209.55,157.97 L210.07,157.97 L210.59,157.97 L211.11,157.97 L211.63,157.97 L212.15,157.97 L212.67,157.97 L213.19,157.97 L213.71,157.97 L214.23,157.97 L214.75,157.97 L215.27,157.97 L215.79,157.97 L216.31,157.97 L216.83,157.97 L217.35,157.97 L217.87,157.97 L218.39,157.97 L218.91,157.97 L219.43,157.97 L219.95,157.97 L220.47,157.97 L220.99,157.97 L221.51,157.97 L222.03,157.97 L222.55,157.97 L223.07,157.97 L223.59,157.97 L224.11,157.97 L224.64,157.97 L225.16,157.97 L225.68,157.97 L226.2,157.97 L226.72,157.97 L227.24,157.97 L227.76,157.97 L228.28,157.97 L228.8,157.97 L229.32,157.97 L229.84,157.97 L230.36,157.97 L230.88,157.97 L231.4,157.97 L231.92,157.97 L232.44,157.97 L232.96,157.97 L233.48,157.97 L234,157.97 L234.52,157.97 L235.04,157.97 L235.56,157.97 L236.08,157.97 L236.6,157.97 L237.12,157.97 L237.64,157.97 L238.16,157.97 L238.68,157.97 L239.2,157.97 L239.72,157.97 L240.24,157.97 L240.77,157.97 L241.29,157.97 L241.81,157.97 L242.33,157.97 L242.85,157.97 L243.37,157.97 L243.89,157.97 L244.41,157.97 L244.93,157.97 L245.45,157.97 L245.97,157.97 L246.49,157.97 L247.01,157.97 L247.53,157.97 L248.05,157.97 L248.57,157.97 L249.09,157.97 L249.61,157.97 L250.13,157.97 L250.65,157.97 L251.17,157.97 L251.69,157.97 L252.21,157.97 L252.73,157.97 L253.25,157.97 L253.77,157.97 L254.29,157.97 L254.81,157.97 L255.33,157.97 L255.85,157.97 L256.37,157.97 L256.37,187.5 Z" fill="rgba(42,150,146,0.300)"/>
<path d="M173.12,187.5 L173.12,157.97 L173.64,157.97 L174.16,157.97 L174.68,157.97 L175.21,157.97 L175.73,157.97 L176.25,157.97 L176.77,157.97 L177.29,157.97 L177.81,157.97 L178.33,157.97 L178.85,157.97 L179.37,157.97 L179.89,157.97 L180.41,157.97 L180.93,157.97 L181.45,157.97 L181.97,157.97 L182.49,157.97 L183.01,157.97 L183.53,157.97 L184.05,157.97 L184.57,157.97 L185.09,157.97 L185.61,157.97 L186.13,157.97 L186.65,157.97 L187.17,157.97 L187.69,157.97 L188.21,157.97 L188.73,157.97 L189.25,157.97 L189.77,157.97 L190.29,157.97 L190.81,157.97 L191.33,157.97 L191.86,157.97 L192.38,157.97 L192.9,157.97 L193.42,157.97 L193.94,157.97 L194.46,157.97 L194.98,157.97 L195.5,157.97 L196.02,157.97 L196.54,157.97 L197.06,157.97 L197.58,157.97 L198.1,157.97 L198.62,157.97 L199.14,157.97 L199.66,157.97 L200.18,157.97 L200.7,157.97 L201.22,157.97 L201.74,157.97 L202.26,157.97 L202.78,157.97 L203.3,157.97 L203.82,157.97 L204.34,157.97 L204.86,157.97 L205.38,157.97 L205.9,157.97 L206.42,157.97 L206.94,157.97 L207.46,157.97 L207.99,157.97 L208.51,157.97 L209.03,157.97 L209.55,157.97 L210.07,157.97 L210.59,157.97 L211.11,157.97 L211.63,157.97 L212.15,157.97 L212.67,157.97 L213.19,157.97 L213.71,157.97 L214.23,157.97 L214.75,157.97 L215.27,157.97 L215.79,157.97 L216.31,157.97 L216.83,157.97 L217.35,157.97 L217.87,157.97 L218.39,157.97 L218.91,157.97 L219.43,157.97 L219.95,157.97 L220.47,157.97 L220.99,157.97 L221.51,157.97 L222.03,157.97 L222.55,157.97 L223.07,157.97 L223.59,157.97 L224.11,157.97 L224.64,157.97 L225.16,157.97 L225.68,157.97 L226.2,157.97 L226.72,157.97 L227.24,157.97 L227.76,157.97 L228.28,157.97 L228.8,157.97 L229.32,157.97 L229.84,157.97 L230.36,157.97 L230.88,157.97 L231.4,157.97 L231.92,157.97 L232.44,157.97 L232.96,157.97 L233.48,157.97 L234,157.97 L234.52,157.97 L235.04,157.97 L235.56,157.97 L236.08,157.97 L236.6,157.97 L237.12,157.97 L237.64,157.97 L238.16,157.97 L238.68,157.97 L239.2,157.97 L239.72,157.97 L240.24,157.97 L240.77,157.97 L241.29,157.97 L241.81,157.97 L242.33,157.97 L242.85,157.97 L243.37,157.97 L243.89,157.97 L244.41,157.97 L244.93,157.97 L245.45,157.97 L245.97,157.97 L246.49,157.97 L247.01,157.97 L247.53,157.97 L248.05,157.97 L248.57,157.97 L249.09,157.97 L249.61,157.97 L250.13,157.97 L250.65,157.97 L251.17,157.97 L251.69,157.97 L252.21,157.97 L252.73,157.97 L253.25,157.97 L253.77,157.97 L254.29,157.97 L254.81,157.97 L255.33,157.97 L255.85,157.97 L256.37,157.97 L256.37,187.5" fill="none" stroke="rgba(42,150,146,1.000)" stroke-width="1.65" stroke-linejoin="round"/>
</g>
<g clip-path="url(#cp10)">
<path d="M323.22,187.5 L323.22,53.15 L323.74,56.87 L324.26,60.5 L324.78,64.02 L325.31,67.44 L325.83,70.77 L326.35,74.01 L326.87,77.16 L327.39,80.22 L327.91,83.19 L328.43,86.08 L328.95,88.9 L329.47,91.63 L329.99,94.29 L330.51,96.88 L331.03,99.39 L331.55,101.83 L332.07,104.21 L332.59,106.52 L333.11,108.76 L333.63,110.95 L334.15,113.07 L334.67,115.13 L335.19,117.14 L335.71,119.09 L336.23,120.99 L336.75,122.83 L337.27,124.63 L337.79,126.37 L338.31,128.07 L338.83,129.71 L339.35,131.32 L339.87,132.87 L340.39,134.39 L340.91,135.86 L341.43,137.29 L341.96,138.69 L342.48,140.04 L343,141.36 L343.52,142.64 L344.04,143.88 L344.56,145.09 L345.08,146.27 L345.6,147.41 L346.12,148.52 L346.64,149.6 L347.16,150.65 L347.68,151.68 L348.2,152.67 L348.72,153.63 L349.24,154.57 L349.76,155.49 L350.28,156.37 L350.8,157.24 L351.32,158.08 L351.84,158.89 L352.36,159.69 L352.88,160.46 L353.4,161.21 L353.92,161.94 L354.44,162.65 L354.96,163.33 L355.48,164.01 L356,164.66 L356.52,165.29 L357.04,165.91 L357.56,166.5 L358.09,167.09 L358.61,167.65 L359.13,168.2 L359.65,168.74 L360.17,169.26 L360.69,169.76 L361.21,170.26 L361.73,170.73 L362.25,171.2 L362.77,171.65 L363.29,172.09 L363.81,172.52 L364.33,172.93 L364.85,173.34 L365.37,173.73 L365.89,174.11 L366.41,174.48 L366.93,174.84 L367.45,175.2 L367.97,175.54 L368.49,175.87 L369.01,176.19 L369.53,176.5 L370.05,176.81 L370.57,177.11 L371.09,177.39 L371.61,177.67 L372.13,177.95 L372.65,178.21 L373.17,178.47 L373.69,178.72 L374.21,178.96 L374.74,179.2 L375.26,179.43 L375.78,179.65 L376.3,179.87 L376.82,180.08 L377.34,180.29 L377.86,180.49 L378.38,180.68 L378.9,180.87 L379.42,181.06 L379.94,181.24 L380.46,181.41 L380.98,181.58 L381.5,181.74 L382.02,181.9 L382.54,182.06 L383.06,182.21 L383.58,182.35 L384.1,182.5 L384.62,182.64 L385.14,182.77 L385.66,182.9 L386.18,183.03 L386.7,183.15 L387.22,183.27 L387.74,183.39 L388.26,183.51 L388.78,183.62 L389.3,183.72 L389.82,183.83 L390.34,183.93 L390.87,184.03 L391.39,184.13 L391.91,184.22 L392.43,184.31 L392.95,184.4 L393.47,184.48 L393.99,184.57 L394.51,184.65 L395.03,184.73 L395.55,184.81 L396.07,184.88 L396.59,184.95 L397.11,185.02 L397.63,185.09 L398.15,185.16 L398.67,185.22 L399.19,185.29 L399.71,185.35 L400.23,185.41 L400.75,185.47 L401.27,185.52 L401.79,185.58 L402.31,185.63 L402.83,185.68 L403.35,185.73 L403.87,185.78 L404.39,185.83 L404.91,185.88 L405.43,185.92 L405.95,185.96 L406.47,186.01 L406.47,187.5 Z" fill="rgba(50,104,154,0.070)"/>
<path d="M323.22,187.5 L323.22,53.15 L323.74,56.87 L324.26,60.5 L324.78,64.02 L325.31,67.44 L325.83,70.77 L326.35,74.01 L326.87,77.16 L327.39,80.22 L327.91,83.19 L328.43,86.08 L328.95,88.9 L329.47,91.63 L329.99,94.29 L330.51,96.88 L331.03,99.39 L331.55,101.83 L332.07,104.21 L332.59,106.52 L333.11,108.76 L333.63,110.95 L334.15,113.07 L334.67,115.13 L335.19,117.14 L335.71,119.09 L336.23,120.99 L336.75,122.83 L337.27,124.63 L337.79,126.37 L338.31,128.07 L338.83,129.71 L339.35,131.32 L339.87,132.87 L340.39,134.39 L340.91,135.86 L341.43,137.29 L341.96,138.69 L342.48,140.04 L343,141.36 L343.52,142.64 L344.04,143.88 L344.56,145.09 L345.08,146.27 L345.6,147.41 L346.12,148.52 L346.64,149.6 L347.16,150.65 L347.68,151.68 L348.2,152.67 L348.72,153.63 L349.24,154.57 L349.76,155.49 L350.28,156.37 L350.8,157.24 L351.32,158.08 L351.84,158.89 L352.36,159.69 L352.88,160.46 L353.4,161.21 L353.92,161.94 L354.44,162.65 L354.96,163.33 L355.48,164.01 L356,164.66 L356.52,165.29 L357.04,165.91 L357.56,166.5 L358.09,167.09 L358.61,167.65 L359.13,168.2 L359.65,168.74 L360.17,169.26 L360.69,169.76 L361.21,170.26 L361.73,170.73 L362.25,171.2 L362.77,171.65 L363.29,172.09 L363.81,172.52 L364.33,172.93 L364.85,173.34 L365.37,173.73 L365.89,174.11 L366.41,174.48 L366.93,174.84 L367.45,175.2 L367.97,175.54 L368.49,175.87 L369.01,176.19 L369.53,176.5 L370.05,176.81 L370.57,177.11 L371.09,177.39 L371.61,177.67 L372.13,177.95 L372.65,178.21 L373.17,178.47 L373.69,178.72 L374.21,178.96 L374.74,179.2 L375.26,179.43 L375.78,179.65 L376.3,179.87 L376.82,180.08 L377.34,180.29 L377.86,180.49 L378.38,180.68 L378.9,180.87 L379.42,181.06 L379.94,181.24 L380.46,181.41 L380.98,181.58 L381.5,181.74 L382.02,181.9 L382.54,182.06 L383.06,182.21 L383.58,182.35 L384.1,182.5 L384.62,182.64 L385.14,182.77 L385.66,182.9 L386.18,183.03 L386.7,183.15 L387.22,183.27 L387.74,183.39 L388.26,183.51 L388.78,183.62 L389.3,183.72 L389.82,183.83 L390.34,183.93 L390.87,184.03 L391.39,184.13 L391.91,184.22 L392.43,184.31 L392.95,184.4 L393.47,184.48 L393.99,184.57 L394.51,184.65 L395.03,184.73 L395.55,184.81 L396.07,184.88 L396.59,184.95 L397.11,185.02 L397.63,185.09 L398.15,185.16 L398.67,185.22 L399.19,185.29 L399.71,185.35 L400.23,185.41 L400.75,185.47 L401.27,185.52 L401.79,185.58 L402.31,185.63 L402.83,185.68 L403.35,185.73 L403.87,185.78 L404.39,185.83 L404.91,185.88 L405.43,185.92 L405.95,185.96 L406.47,186.01 L406.47,187.5" fill="none" stroke="rgba(50,104,154,0.300)" stroke-width="1.6" stroke-linejoin="round" stroke-dasharray="9.7 2.5 1.2 2.4" stroke-dashoffset="1.0"/>
<path d="M353,187.5 L353,184.79 L353.45,184.72 L353.9,184.65 L354.36,184.58 L354.81,184.51 L355.26,184.44 L355.71,184.36 L356.17,184.28 L356.62,184.2 L357.07,184.12 L357.52,184.04 L357.98,183.95 L358.43,183.86 L358.88,183.77 L359.33,183.68 L359.79,183.59 L360.24,183.49 L360.69,183.39 L361.14,183.29 L361.59,183.19 L362.05,183.08 L362.5,182.97 L362.95,182.86 L363.4,182.74 L363.86,182.62 L364.31,182.5 L364.76,182.38 L365.21,182.25 L365.67,182.12 L366.12,181.99 L366.57,181.85 L367.02,181.71 L367.48,181.57 L367.93,181.42 L368.38,181.27 L368.83,181.12 L369.28,180.96 L369.74,180.8 L370.19,180.63 L370.64,180.46 L371.09,180.29 L371.55,180.11 L372,179.93 L372.45,179.74 L372.9,179.55 L373.36,179.35 L373.81,179.15 L374.26,178.94 L374.71,178.73 L375.17,178.52 L375.62,178.29 L376.07,178.06 L376.52,177.83 L376.97,177.59 L377.43,177.35 L377.88,177.1 L378.33,176.84 L378.78,176.57 L379.24,176.3 L379.69,176.03 L380.14,175.74 L380.59,175.45 L381.05,175.15 L381.5,174.85 L381.95,174.53 L382.4,174.21 L382.86,173.88 L383.31,173.55 L383.76,173.2 L384.21,172.85 L384.66,172.49 L385.12,172.11 L385.57,171.73 L386.02,171.34 L386.47,170.94 L386.93,170.53 L387.38,170.11 L387.83,169.68 L388.28,169.24 L388.74,168.79 L389.19,168.33 L389.64,167.85 L390.09,167.37 L390.55,166.87 L391,166.36 L391.45,165.83 L391.9,165.3 L392.35,164.75 L392.81,164.19 L393.26,163.61 L393.71,163.02 L394.16,162.41 L394.62,161.79 L395.07,161.15 L395.52,160.5 L395.97,159.83 L396.43,159.15 L396.88,158.45 L397.33,157.73 L397.78,156.99 L398.24,156.24 L398.69,155.46 L399.14,154.67 L399.59,153.86 L400.04,153.02 L400.5,152.17 L400.95,151.3 L401.4,150.4 L401.85,149.48 L402.31,148.54 L402.76,147.58 L403.21,146.59 L403.66,145.57 L404.12,144.54 L404.57,143.47 L405.02,142.38 L405.47,141.27 L405.93,140.12 L406.38,138.95 L406.83,137.75 L407.28,136.52 L407.73,135.26 L408.19,133.96 L408.64,132.64 L409.09,131.28 L409.54,129.89 L410,128.46 L410.45,127 L410.9,125.5 L411.35,123.97 L411.81,122.4 L412.26,120.78 L412.71,119.13 L413.16,117.44 L413.62,115.71 L414.07,113.93 L414.52,112.11 L414.97,110.24 L415.42,108.33 L415.88,106.37 L416.33,104.36 L416.78,102.31 L417.23,100.2 L417.69,98.04 L418.14,95.82 L418.59,93.55 L419.04,91.23 L419.5,88.84 L419.95,86.4 L420.4,83.9 L420.85,81.34 L421.3,78.71 L421.76,76.01 L422.21,73.26 L422.66,70.43 L423.11,67.53 L423.57,64.56 L424.02,61.52 L424.47,58.4 L424.92,55.2 L425.38,51.93 L425.38,187.5 Z" fill="rgba(253,231,53,0.070)"/>
<path d="M353,187.5 L353,184.79 L353.45,184.72 L353.9,184.65 L354.36,184.58 L354.81,184.51 L355.26,184.44 L355.71,184.36 L356.17,184.28 L356.62,184.2 L357.07,184.12 L357.52,184.04 L357.98,183.95 L358.43,183.86 L358.88,183.77 L359.33,183.68 L359.79,183.59 L360.24,183.49 L360.69,183.39 L361.14,183.29 L361.59,183.19 L362.05,183.08 L362.5,182.97 L362.95,182.86 L363.4,182.74 L363.86,182.62 L364.31,182.5 L364.76,182.38 L365.21,182.25 L365.67,182.12 L366.12,181.99 L366.57,181.85 L367.02,181.71 L367.48,181.57 L367.93,181.42 L368.38,181.27 L368.83,181.12 L369.28,180.96 L369.74,180.8 L370.19,180.63 L370.64,180.46 L371.09,180.29 L371.55,180.11 L372,179.93 L372.45,179.74 L372.9,179.55 L373.36,179.35 L373.81,179.15 L374.26,178.94 L374.71,178.73 L375.17,178.52 L375.62,178.29 L376.07,178.06 L376.52,177.83 L376.97,177.59 L377.43,177.35 L377.88,177.1 L378.33,176.84 L378.78,176.57 L379.24,176.3 L379.69,176.03 L380.14,175.74 L380.59,175.45 L381.05,175.15 L381.5,174.85 L381.95,174.53 L382.4,174.21 L382.86,173.88 L383.31,173.55 L383.76,173.2 L384.21,172.85 L384.66,172.49 L385.12,172.11 L385.57,171.73 L386.02,171.34 L386.47,170.94 L386.93,170.53 L387.38,170.11 L387.83,169.68 L388.28,169.24 L388.74,168.79 L389.19,168.33 L389.64,167.85 L390.09,167.37 L390.55,166.87 L391,166.36 L391.45,165.83 L391.9,165.3 L392.35,164.75 L392.81,164.19 L393.26,163.61 L393.71,163.02 L394.16,162.41 L394.62,161.79 L395.07,161.15 L395.52,160.5 L395.97,159.83 L396.43,159.15 L396.88,158.45 L397.33,157.73 L397.78,156.99 L398.24,156.24 L398.69,155.46 L399.14,154.67 L399.59,153.86 L400.04,153.02 L400.5,152.17 L400.95,151.3 L401.4,150.4 L401.85,149.48 L402.31,148.54 L402.76,147.58 L403.21,146.59 L403.66,145.57 L404.12,144.54 L404.57,143.47 L405.02,142.38 L405.47,141.27 L405.93,140.12 L406.38,138.95 L406.83,137.75 L407.28,136.52 L407.73,135.26 L408.19,133.96 L408.64,132.64 L409.09,131.28 L409.54,129.89 L410,128.46 L410.45,127 L410.9,125.5 L411.35,123.97 L411.81,122.4 L412.26,120.78 L412.71,119.13 L413.16,117.44 L413.62,115.71 L414.07,113.93 L414.52,112.11 L414.97,110.24 L415.42,108.33 L415.88,106.37 L416.33,104.36 L416.78,102.31 L417.23,100.2 L417.69,98.04 L418.14,95.82 L418.59,93.55 L419.04,91.23 L419.5,88.84 L419.95,86.4 L420.4,83.9 L420.85,81.34 L421.3,78.71 L421.76,76.01 L422.21,73.26 L422.66,70.43 L423.11,67.53 L423.57,64.56 L424.02,61.52 L424.47,58.4 L424.92,55.2 L425.38,51.93 L425.38,187.5" fill="none" stroke="rgba(253,231,53,0.300)" stroke-width="1.6" stroke-linejoin="round" stroke-dasharray="9.7 2.5 1.2 2.4" stroke-dashoffset="1.0"/>
<path d="M323.22,187.5 L323.22,179.67 L323.74,179.56 L324.26,179.45 L324.78,179.34 L325.31,179.22 L325.83,179.1 L326.35,178.98 L326.87,178.86 L327.39,178.74 L327.91,178.62 L328.43,178.49 L328.95,178.36 L329.47,178.23 L329.99,178.1 L330.51,177.97 L331.03,177.83 L331.55,177.7 L332.07,177.56 L332.59,177.42 L333.11,177.28 L333.63,177.13 L334.15,176.98 L334.67,176.83 L335.19,176.68 L335.71,176.53 L336.23,176.38 L336.75,176.22 L337.27,176.06 L337.79,175.9 L338.31,175.73 L338.83,175.56 L339.35,175.4 L339.87,175.22 L340.39,175.05 L340.91,174.87 L341.43,174.7 L341.96,174.51 L342.48,174.33 L343,174.14 L343.52,173.95 L344.04,173.76 L344.56,173.57 L345.08,173.37 L345.6,173.17 L346.12,172.97 L346.64,172.76 L347.16,172.55 L347.68,172.34 L348.2,172.13 L348.72,171.91 L349.24,171.69 L349.76,171.46 L350.28,171.24 L350.8,171.01 L351.32,170.77 L351.84,170.54 L352.36,170.3 L352.88,170.05 L353.4,169.81 L353.92,169.56 L354.44,169.3 L354.96,169.04 L355.48,168.78 L356,168.52 L356.52,168.25 L357.04,167.98 L357.56,167.7 L358.09,167.42 L358.61,167.13 L359.13,166.85 L359.65,166.55 L360.17,166.26 L360.69,165.96 L361.21,165.65 L361.73,165.34 L362.25,165.03 L362.77,164.71 L363.29,164.39 L363.81,164.06 L364.33,163.73 L364.85,163.39 L365.37,163.05 L365.89,162.7 L366.41,162.35 L366.93,162 L367.45,161.64 L367.97,161.27 L368.49,160.9 L369.01,160.52 L369.53,160.14 L370.05,159.75 L370.57,159.36 L371.09,158.96 L371.61,158.56 L372.13,158.15 L372.65,157.73 L373.17,157.31 L373.69,156.88 L374.21,156.45 L374.74,156.01 L375.26,155.56 L375.78,155.11 L376.3,154.65 L376.82,154.19 L377.34,153.71 L377.86,153.23 L378.38,152.75 L378.9,152.26 L379.42,151.76 L379.94,151.25 L380.46,150.74 L380.98,150.22 L381.5,149.69 L382.02,149.16 L382.54,148.61 L383.06,148.06 L383.58,147.5 L384.1,146.94 L384.62,146.36 L385.14,145.78 L385.66,145.19 L386.18,144.59 L386.7,143.98 L387.22,143.37 L387.74,142.74 L388.26,142.11 L388.78,141.46 L389.3,140.81 L389.82,140.15 L390.34,139.48 L390.87,138.8 L391.39,138.11 L391.91,137.41 L392.43,136.7 L392.95,135.98 L393.47,135.25 L393.99,134.51 L394.51,133.76 L395.03,133 L395.55,132.23 L396.07,131.45 L396.59,130.65 L397.11,129.85 L397.63,129.03 L398.15,128.2 L398.67,127.36 L399.19,126.51 L399.71,125.65 L400.23,124.77 L400.75,123.88 L401.27,122.98 L401.79,122.07 L402.31,121.14 L402.83,120.2 L403.35,119.25 L403.87,118.28 L404.39,117.3 L404.91,116.31 L405.43,115.3 L405.95,114.28 L406.47,113.24 L406.47,187.5 Z" fill="rgba(60,184,120,0.070)"/>
<path d="M323.22,187.5 L323.22,179.67 L323.74,179.56 L324.26,179.45 L324.78,179.34 L325.31,179.22 L325.83,179.1 L326.35,178.98 L326.87,178.86 L327.39,178.74 L327.91,178.62 L328.43,178.49 L328.95,178.36 L329.47,178.23 L329.99,178.1 L330.51,177.97 L331.03,177.83 L331.55,177.7 L332.07,177.56 L332.59,177.42 L333.11,177.28 L333.63,177.13 L334.15,176.98 L334.67,176.83 L335.19,176.68 L335.71,176.53 L336.23,176.38 L336.75,176.22 L337.27,176.06 L337.79,175.9 L338.31,175.73 L338.83,175.56 L339.35,175.4 L339.87,175.22 L340.39,175.05 L340.91,174.87 L341.43,174.7 L341.96,174.51 L342.48,174.33 L343,174.14 L343.52,173.95 L344.04,173.76 L344.56,173.57 L345.08,173.37 L345.6,173.17 L346.12,172.97 L346.64,172.76 L347.16,172.55 L347.68,172.34 L348.2,172.13 L348.72,171.91 L349.24,171.69 L349.76,171.46 L350.28,171.24 L350.8,171.01 L351.32,170.77 L351.84,170.54 L352.36,170.3 L352.88,170.05 L353.4,169.81 L353.92,169.56 L354.44,169.3 L354.96,169.04 L355.48,168.78 L356,168.52 L356.52,168.25 L357.04,167.98 L357.56,167.7 L358.09,167.42 L358.61,167.13 L359.13,166.85 L359.65,166.55 L360.17,166.26 L360.69,165.96 L361.21,165.65 L361.73,165.34 L362.25,165.03 L362.77,164.71 L363.29,164.39 L363.81,164.06 L364.33,163.73 L364.85,163.39 L365.37,163.05 L365.89,162.7 L366.41,162.35 L366.93,162 L367.45,161.64 L367.97,161.27 L368.49,160.9 L369.01,160.52 L369.53,160.14 L370.05,159.75 L370.57,159.36 L371.09,158.96 L371.61,158.56 L372.13,158.15 L372.65,157.73 L373.17,157.31 L373.69,156.88 L374.21,156.45 L374.74,156.01 L375.26,155.56 L375.78,155.11 L376.3,154.65 L376.82,154.19 L377.34,153.71 L377.86,153.23 L378.38,152.75 L378.9,152.26 L379.42,151.76 L379.94,151.25 L380.46,150.74 L380.98,150.22 L381.5,149.69 L382.02,149.16 L382.54,148.61 L383.06,148.06 L383.58,147.5 L384.1,146.94 L384.62,146.36 L385.14,145.78 L385.66,145.19 L386.18,144.59 L386.7,143.98 L387.22,143.37 L387.74,142.74 L388.26,142.11 L388.78,141.46 L389.3,140.81 L389.82,140.15 L390.34,139.48 L390.87,138.8 L391.39,138.11 L391.91,137.41 L392.43,136.7 L392.95,135.98 L393.47,135.25 L393.99,134.51 L394.51,133.76 L395.03,133 L395.55,132.23 L396.07,131.45 L396.59,130.65 L397.11,129.85 L397.63,129.03 L398.15,128.2 L398.67,127.36 L399.19,126.51 L399.71,125.65 L400.23,124.77 L400.75,123.88 L401.27,122.98 L401.79,122.07 L402.31,121.14 L402.83,120.2 L403.35,119.25 L403.87,118.28 L404.39,117.3 L404.91,116.31 L405.43,115.3 L405.95,114.28 L406.47,113.24 L406.47,187.5" fill="none" stroke="rgba(60,184,120,0.300)" stroke-width="1.6" stroke-linejoin="round" stroke-dasharray="9.7 2.5 1.2 2.4" stroke-dashoffset="1.0"/>
<path d="M323.22,187.5 L323.22,157.97 L323.74,157.97 L324.26,157.97 L324.78,157.97 L325.31,157.97 L325.83,157.97 L326.35,157.97 L326.87,157.97 L327.39,157.97 L327.91,157.97 L328.43,157.97 L328.95,157.97 L329.47,157.97 L329.99,157.97 L330.51,157.97 L331.03,157.97 L331.55,157.97 L332.07,157.97 L332.59,157.97 L333.11,157.97 L333.63,157.97 L334.15,157.97 L334.67,157.97 L335.19,157.97 L335.71,157.97 L336.23,157.97 L336.75,157.97 L337.27,157.97 L337.79,157.97 L338.31,157.97 L338.83,157.97 L339.35,157.97 L339.87,157.97 L340.39,157.97 L340.91,157.97 L341.43,157.97 L341.96,157.97 L342.48,157.97 L343,157.97 L343.52,157.97 L344.04,157.97 L344.56,157.97 L345.08,157.97 L345.6,157.97 L346.12,157.97 L346.64,157.97 L347.16,157.97 L347.68,157.97 L348.2,157.97 L348.72,157.97 L349.24,157.97 L349.76,157.97 L350.28,157.97 L350.8,157.97 L351.32,157.97 L351.84,157.97 L352.36,157.97 L352.88,157.97 L353.4,157.97 L353.92,157.97 L354.44,157.97 L354.96,157.97 L355.48,157.97 L356,157.97 L356.52,157.97 L357.04,157.97 L357.56,157.97 L358.09,157.97 L358.61,157.97 L359.13,157.97 L359.65,157.97 L360.17,157.97 L360.69,157.97 L361.21,157.97 L361.73,157.97 L362.25,157.97 L362.77,157.97 L363.29,157.97 L363.81,157.97 L364.33,157.97 L364.85,157.97 L365.37,157.97 L365.89,157.97 L366.41,157.97 L366.93,157.97 L367.45,157.97 L367.97,157.97 L368.49,157.97 L369.01,157.97 L369.53,157.97 L370.05,157.97 L370.57,157.97 L371.09,157.97 L371.61,157.97 L372.13,157.97 L372.65,157.97 L373.17,157.97 L373.69,157.97 L374.21,157.97 L374.74,157.97 L375.26,157.97 L375.78,157.97 L376.3,157.97 L376.82,157.97 L377.34,157.97 L377.86,157.97 L378.38,157.97 L378.9,157.97 L379.42,157.97 L379.94,157.97 L380.46,157.97 L380.98,157.97 L381.5,157.97 L382.02,157.97 L382.54,157.97 L383.06,157.97 L383.58,157.97 L384.1,157.97 L384.62,157.97 L385.14,157.97 L385.66,157.97 L386.18,157.97 L386.7,157.97 L387.22,157.97 L387.74,157.97 L388.26,157.97 L388.78,157.97 L389.3,157.97 L389.82,157.97 L390.34,157.97 L390.87,157.97 L391.39,157.97 L391.91,157.97 L392.43,157.97 L392.95,157.97 L393.47,157.97 L393.99,157.97 L394.51,157.97 L395.03,157.97 L395.55,157.97 L396.07,157.97 L396.59,157.97 L397.11,157.97 L397.63,157.97 L398.15,157.97 L398.67,157.97 L399.19,157.97 L399.71,157.97 L400.23,157.97 L400.75,157.97 L401.27,157.97 L401.79,157.97 L402.31,157.97 L402.83,157.97 L403.35,157.97 L403.87,157.97 L404.39,157.97 L404.91,157.97 L405.43,157.97 L405.95,157.97 L406.47,157.97 L406.47,187.5 Z" fill="rgba(42,150,146,0.300)"/>
<path d="M323.22,187.5 L323.22,157.97 L323.74,157.97 L324.26,157.97 L324.78,157.97 L325.31,157.97 L325.83,157.97 L326.35,157.97 L326.87,157.97 L327.39,157.97 L327.91,157.97 L328.43,157.97 L328.95,157.97 L329.47,157.97 L329.99,157.97 L330.51,157.97 L331.03,157.97 L331.55,157.97 L332.07,157.97 L332.59,157.97 L333.11,157.97 L333.63,157.97 L334.15,157.97 L334.67,157.97 L335.19,157.97 L335.71,157.97 L336.23,157.97 L336.75,157.97 L337.27,157.97 L337.79,157.97 L338.31,157.97 L338.83,157.97 L339.35,157.97 L339.87,157.97 L340.39,157.97 L340.91,157.97 L341.43,157.97 L341.96,157.97 L342.48,157.97 L343,157.97 L343.52,157.97 L344.04,157.97 L344.56,157.97 L345.08,157.97 L345.6,157.97 L346.12,157.97 L346.64,157.97 L347.16,157.97 L347.68,157.97 L348.2,157.97 L348.72,157.97 L349.24,157.97 L349.76,157.97 L350.28,157.97 L350.8,157.97 L351.32,157.97 L351.84,157.97 L352.36,157.97 L352.88,157.97 L353.4,157.97 L353.92,157.97 L354.44,157.97 L354.96,157.97 L355.48,157.97 L356,157.97 L356.52,157.97 L357.04,157.97 L357.56,157.97 L358.09,157.97 L358.61,157.97 L359.13,157.97 L359.65,157.97 L360.17,157.97 L360.69,157.97 L361.21,157.97 L361.73,157.97 L362.25,157.97 L362.77,157.97 L363.29,157.97 L363.81,157.97 L364.33,157.97 L364.85,157.97 L365.37,157.97 L365.89,157.97 L366.41,157.97 L366.93,157.97 L367.45,157.97 L367.97,157.97 L368.49,157.97 L369.01,157.97 L369.53,157.97 L370.05,157.97 L370.57,157.97 L371.09,157.97 L371.61,157.97 L372.13,157.97 L372.65,157.97 L373.17,157.97 L373.69,157.97 L374.21,157.97 L374.74,157.97 L375.26,157.97 L375.78,157.97 L376.3,157.97 L376.82,157.97 L377.34,157.97 L377.86,157.97 L378.38,157.97 L378.9,157.97 L379.42,157.97 L379.94,157.97 L380.46,157.97 L380.98,157.97 L381.5,157.97 L382.02,157.97 L382.54,157.97 L383.06,157.97 L383.58,157.97 L384.1,157.97 L384.62,157.97 L385.14,157.97 L385.66,157.97 L386.18,157.97 L386.7,157.97 L387.22,157.97 L387.74,157.97 L388.26,157.97 L388.78,157.97 L389.3,157.97 L389.82,157.97 L390.34,157.97 L390.87,157.97 L391.39,157.97 L391.91,157.97 L392.43,157.97 L392.95,157.97 L393.47,157.97 L393.99,157.97 L394.51,157.97 L395.03,157.97 L395.55,157.97 L396.07,157.97 L396.59,157.97 L397.11,157.97 L397.63,157.97 L398.15,157.97 L398.67,157.97 L399.19,157.97 L399.71,157.97 L400.23,157.97 L400.75,157.97 L401.27,157.97 L401.79,157.97 L402.31,157.97 L402.83,157.97 L403.35,157.97 L403.87,157.97 L404.39,157.97 L404.91,157.97 L405.43,157.97 L405.95,157.97 L406.47,157.97 L406.47,187.5" fill="none" stroke="rgba(42,150,146,1.000)" stroke-width="1.65" stroke-linejoin="round"/>
</g>
<g clip-path="url(#cp20)">
<path d="M473.77,187.5 L473.77,157.97 L474.29,157.97 L474.81,157.97 L475.33,157.97 L475.86,157.97 L476.38,157.97 L476.9,157.97 L477.42,157.97 L477.94,157.97 L478.46,157.97 L478.98,157.97 L479.5,157.97 L480.02,157.97 L480.54,157.97 L481.06,157.97 L481.58,157.97 L482.1,157.97 L482.62,157.97 L483.14,157.97 L483.66,157.97 L484.18,157.97 L484.7,157.97 L485.22,157.97 L485.74,157.97 L486.26,157.97 L486.78,157.97 L487.3,157.97 L487.82,157.97 L488.34,157.97 L488.86,157.97 L489.38,157.97 L489.9,157.97 L490.42,157.97 L490.94,157.97 L491.46,157.97 L491.98,157.97 L492.51,157.97 L493.03,157.97 L493.55,157.97 L494.07,157.97 L494.59,157.97 L495.11,157.97 L495.63,157.97 L496.15,157.97 L496.67,157.97 L497.19,157.97 L497.71,157.97 L498.23,157.97 L498.75,157.97 L499.27,157.97 L499.79,157.97 L500.31,157.97 L500.83,157.97 L501.35,157.97 L501.87,157.97 L502.39,157.97 L502.91,157.97 L503.43,157.97 L503.95,157.97 L504.47,157.97 L504.99,157.97 L505.51,157.97 L506.03,157.97 L506.55,157.97 L507.07,157.97 L507.59,157.97 L508.11,157.97 L508.64,157.97 L509.16,157.97 L509.68,157.97 L510.2,157.97 L510.72,157.97 L511.24,157.97 L511.76,157.97 L512.28,157.97 L512.8,157.97 L513.32,157.97 L513.84,157.97 L514.36,157.97 L514.88,157.97 L515.4,157.97 L515.92,157.97 L516.44,157.97 L516.96,157.97 L517.48,157.97 L518,157.97 L518.52,157.97 L519.04,157.97 L519.56,157.97 L520.08,157.97 L520.6,157.97 L521.12,157.97 L521.64,157.97 L522.16,157.97 L522.68,157.97 L523.2,157.97 L523.72,157.97 L524.24,157.97 L524.76,157.97 L525.29,157.97 L525.81,157.97 L526.33,157.97 L526.85,157.97 L527.37,157.97 L527.89,157.97 L528.41,157.97 L528.93,157.97 L529.45,157.97 L529.97,157.97 L530.49,157.97 L531.01,157.97 L531.53,157.97 L532.05,157.97 L532.57,157.97 L533.09,157.97 L533.61,157.97 L534.13,157.97 L534.65,157.97 L535.17,157.97 L535.69,157.97 L536.21,157.97 L536.73,157.97 L537.25,157.97 L537.77,157.97 L538.29,157.97 L538.81,157.97 L539.33,157.97 L539.85,157.97 L540.37,157.97 L540.89,157.97 L541.42,157.97 L541.94,157.97 L542.46,157.97 L542.98,157.97 L543.5,157.97 L544.02,157.97 L544.54,157.97 L545.06,157.97 L545.58,157.97 L546.1,157.97 L546.62,157.97 L547.14,157.97 L547.66,157.97 L548.18,157.97 L548.7,157.97 L549.22,157.97 L549.74,157.97 L550.26,157.97 L550.78,157.97 L551.3,157.97 L551.82,157.97 L552.34,157.97 L552.86,157.97 L553.38,157.97 L553.9,157.97 L554.42,157.97 L554.94,157.97 L555.46,157.97 L555.98,157.97 L556.5,157.97 L557.02,157.97 L557.02,187.5 Z" fill="rgba(42,150,146,0.300)"/>
<path d="M473.77,187.5 L473.77,157.97 L474.29,157.97 L474.81,157.97 L475.33,157.97 L475.86,157.97 L476.38,157.97 L476.9,157.97 L477.42,157.97 L477.94,157.97 L478.46,157.97 L478.98,157.97 L479.5,157.97 L480.02,157.97 L480.54,157.97 L481.06,157.97 L481.58,157.97 L482.1,157.97 L482.62,157.97 L483.14,157.97 L483.66,157.97 L484.18,157.97 L484.7,157.97 L485.22,157.97 L485.74,157.97 L486.26,157.97 L486.78,157.97 L487.3,157.97 L487.82,157.97 L488.34,157.97 L488.86,157.97 L489.38,157.97 L489.9,157.97 L490.42,157.97 L490.94,157.97 L491.46,157.97 L491.98,157.97 L492.51,157.97 L493.03,157.97 L493.55,157.97 L494.07,157.97 L494.59,157.97 L495.11,157.97 L495.63,157.97 L496.15,157.97 L496.67,157.97 L497.19,157.97 L497.71,157.97 L498.23,157.97 L498.75,157.97 L499.27,157.97 L499.79,157.97 L500.31,157.97 L500.83,157.97 L501.35,157.97 L501.87,157.97 L502.39,157.97 L502.91,157.97 L503.43,157.97 L503.95,157.97 L504.47,157.97 L504.99,157.97 L505.51,157.97 L506.03,157.97 L506.55,157.97 L507.07,157.97 L507.59,157.97 L508.11,157.97 L508.64,157.97 L509.16,157.97 L509.68,157.97 L510.2,157.97 L510.72,157.97 L511.24,157.97 L511.76,157.97 L512.28,157.97 L512.8,157.97 L513.32,157.97 L513.84,157.97 L514.36,157.97 L514.88,157.97 L515.4,157.97 L515.92,157.97 L516.44,157.97 L516.96,157.97 L517.48,157.97 L518,157.97 L518.52,157.97 L519.04,157.97 L519.56,157.97 L520.08,157.97 L520.6,157.97 L521.12,157.97 L521.64,157.97 L522.16,157.97 L522.68,157.97 L523.2,157.97 L523.72,157.97 L524.24,157.97 L524.76,157.97 L525.29,157.97 L525.81,157.97 L526.33,157.97 L526.85,157.97 L527.37,157.97 L527.89,157.97 L528.41,157.97 L528.93,157.97 L529.45,157.97 L529.97,157.97 L530.49,157.97 L531.01,157.97 L531.53,157.97 L532.05,157.97 L532.57,157.97 L533.09,157.97 L533.61,157.97 L534.13,157.97 L534.65,157.97 L535.17,157.97 L535.69,157.97 L536.21,157.97 L536.73,157.97 L537.25,157.97 L537.77,157.97 L538.29,157.97 L538.81,157.97 L539.33,157.97 L539.85,157.97 L540.37,157.97 L540.89,157.97 L541.42,157.97 L541.94,157.97 L542.46,157.97 L542.98,157.97 L543.5,157.97 L544.02,157.97 L544.54,157.97 L545.06,157.97 L545.58,157.97 L546.1,157.97 L546.62,157.97 L547.14,157.97 L547.66,157.97 L548.18,157.97 L548.7,157.97 L549.22,157.97 L549.74,157.97 L550.26,157.97 L550.78,157.97 L551.3,157.97 L551.82,157.97 L552.34,157.97 L552.86,157.97 L553.38,157.97 L553.9,157.97 L554.42,157.97 L554.94,157.97 L555.46,157.97 L555.98,157.97 L556.5,157.97 L557.02,157.97 L557.02,187.5" fill="none" stroke="rgba(42,150,146,1.000)" stroke-width="1.65" stroke-linejoin="round"/>
</g>
<g clip-path="url(#cp01)">
<path d="M156.17,374.5 L156.17,195.11 L156.92,204.59 L157.66,213.58 L158.4,222.09 L159.15,230.14 L159.89,237.78 L160.64,245 L161.38,251.85 L162.13,258.33 L162.87,264.48 L163.62,270.29 L164.36,275.8 L165.1,281.02 L165.85,285.96 L166.59,290.64 L167.34,295.08 L168.08,299.28 L168.83,303.25 L169.57,307.02 L170.32,310.59 L171.06,313.97 L171.8,317.17 L172.55,320.2 L173.29,323.07 L174.04,325.79 L174.78,328.36 L175.53,330.8 L176.27,333.11 L177.01,335.3 L177.76,337.37 L178.5,339.34 L179.25,341.2 L179.99,342.96 L180.74,344.62 L181.48,346.2 L182.23,347.7 L182.97,349.12 L183.71,350.46 L184.46,351.73 L185.2,352.93 L185.95,354.07 L186.69,355.15 L187.44,356.18 L188.18,357.15 L188.93,358.06 L189.67,358.93 L190.41,359.75 L191.16,360.53 L191.9,361.27 L192.65,361.97 L193.39,362.63 L194.14,363.26 L194.88,363.86 L195.62,364.42 L196.37,364.95 L197.11,365.46 L197.86,365.93 L198.6,366.39 L199.35,366.82 L200.09,367.22 L200.84,367.61 L201.58,367.97 L202.32,368.32 L203.07,368.64 L203.81,368.95 L204.56,369.25 L205.3,369.52 L206.05,369.79 L206.79,370.04 L207.54,370.27 L208.28,370.5 L209.02,370.71 L209.77,370.91 L210.51,371.1 L211.26,371.28 L212,371.45 L212.75,371.61 L213.49,371.76 L214.24,371.91 L214.98,372.04 L215.72,372.17 L216.47,372.3 L217.21,372.41 L217.96,372.52 L218.7,372.63 L219.45,372.73 L220.19,372.82 L220.93,372.91 L221.68,372.99 L222.42,373.07 L223.17,373.15 L223.91,373.22 L224.66,373.29 L225.4,373.35 L226.15,373.41 L226.89,373.47 L227.63,373.52 L228.38,373.58 L229.12,373.63 L229.87,373.67 L230.61,373.72 L231.36,373.76 L232.1,373.8 L232.85,373.83 L233.59,373.87 L234.33,373.9 L235.08,373.93 L235.82,373.96 L236.57,373.99 L237.31,374.02 L238.06,374.04 L238.8,374.07 L239.54,374.09 L240.29,374.11 L241.03,374.13 L241.78,374.15 L242.52,374.17 L243.27,374.19 L244.01,374.2 L244.76,374.22 L245.5,374.24 L246.24,374.25 L246.99,374.26 L247.73,374.27 L248.48,374.29 L249.22,374.3 L249.97,374.31 L250.71,374.32 L251.46,374.33 L252.2,374.34 L252.94,374.35 L253.69,374.35 L254.43,374.36 L255.18,374.37 L255.92,374.38 L256.67,374.38 L257.41,374.39 L258.15,374.39 L258.9,374.4 L259.64,374.41 L260.39,374.41 L261.13,374.42 L261.88,374.42 L262.62,374.42 L263.37,374.43 L264.11,374.43 L264.85,374.44 L265.6,374.44 L266.34,374.44 L267.09,374.45 L267.83,374.45 L268.58,374.45 L269.32,374.45 L270.07,374.46 L270.81,374.46 L271.55,374.46 L272.3,374.46 L273.04,374.46 L273.79,374.47 L274.53,374.47 L275.28,374.47 L275.28,374.5 Z" fill="rgba(70,59,139,0.150)"/>
<path d="M156.17,374.5 L156.17,195.11 L156.92,204.59 L157.66,213.58 L158.4,222.09 L159.15,230.14 L159.89,237.78 L160.64,245 L161.38,251.85 L162.13,258.33 L162.87,264.48 L163.62,270.29 L164.36,275.8 L165.1,281.02 L165.85,285.96 L166.59,290.64 L167.34,295.08 L168.08,299.28 L168.83,303.25 L169.57,307.02 L170.32,310.59 L171.06,313.97 L171.8,317.17 L172.55,320.2 L173.29,323.07 L174.04,325.79 L174.78,328.36 L175.53,330.8 L176.27,333.11 L177.01,335.3 L177.76,337.37 L178.5,339.34 L179.25,341.2 L179.99,342.96 L180.74,344.62 L181.48,346.2 L182.23,347.7 L182.97,349.12 L183.71,350.46 L184.46,351.73 L185.2,352.93 L185.95,354.07 L186.69,355.15 L187.44,356.18 L188.18,357.15 L188.93,358.06 L189.67,358.93 L190.41,359.75 L191.16,360.53 L191.9,361.27 L192.65,361.97 L193.39,362.63 L194.14,363.26 L194.88,363.86 L195.62,364.42 L196.37,364.95 L197.11,365.46 L197.86,365.93 L198.6,366.39 L199.35,366.82 L200.09,367.22 L200.84,367.61 L201.58,367.97 L202.32,368.32 L203.07,368.64 L203.81,368.95 L204.56,369.25 L205.3,369.52 L206.05,369.79 L206.79,370.04 L207.54,370.27 L208.28,370.5 L209.02,370.71 L209.77,370.91 L210.51,371.1 L211.26,371.28 L212,371.45 L212.75,371.61 L213.49,371.76 L214.24,371.91 L214.98,372.04 L215.72,372.17 L216.47,372.3 L217.21,372.41 L217.96,372.52 L218.7,372.63 L219.45,372.73 L220.19,372.82 L220.93,372.91 L221.68,372.99 L222.42,373.07 L223.17,373.15 L223.91,373.22 L224.66,373.29 L225.4,373.35 L226.15,373.41 L226.89,373.47 L227.63,373.52 L228.38,373.58 L229.12,373.63 L229.87,373.67 L230.61,373.72 L231.36,373.76 L232.1,373.8 L232.85,373.83 L233.59,373.87 L234.33,373.9 L235.08,373.93 L235.82,373.96 L236.57,373.99 L237.31,374.02 L238.06,374.04 L238.8,374.07 L239.54,374.09 L240.29,374.11 L241.03,374.13 L241.78,374.15 L242.52,374.17 L243.27,374.19 L244.01,374.2 L244.76,374.22 L245.5,374.24 L246.24,374.25 L246.99,374.26 L247.73,374.27 L248.48,374.29 L249.22,374.3 L249.97,374.31 L250.71,374.32 L251.46,374.33 L252.2,374.34 L252.94,374.35 L253.69,374.35 L254.43,374.36 L255.18,374.37 L255.92,374.38 L256.67,374.38 L257.41,374.39 L258.15,374.39 L258.9,374.4 L259.64,374.41 L260.39,374.41 L261.13,374.42 L261.88,374.42 L262.62,374.42 L263.37,374.43 L264.11,374.43 L264.85,374.44 L265.6,374.44 L266.34,374.44 L267.09,374.45 L267.83,374.45 L268.58,374.45 L269.32,374.45 L270.07,374.46 L270.81,374.46 L271.55,374.46 L272.3,374.46 L273.04,374.46 L273.79,374.47 L274.53,374.47 L275.28,374.47 L275.28,374.5" fill="none" stroke="rgba(70,59,139,0.620)" stroke-width="1.6" stroke-linejoin="round" stroke-dasharray="5.5 2.3" stroke-dashoffset="0.4"/>
<path d="M173.12,374.5 L173.12,240.15 L173.64,243.87 L174.16,247.5 L174.68,251.02 L175.21,254.44 L175.73,257.77 L176.25,261.01 L176.77,264.16 L177.29,267.22 L177.81,270.19 L178.33,273.08 L178.85,275.9 L179.37,278.63 L179.89,281.29 L180.41,283.88 L180.93,286.39 L181.45,288.83 L181.97,291.21 L182.49,293.52 L183.01,295.76 L183.53,297.95 L184.05,300.07 L184.57,302.13 L185.09,304.14 L185.61,306.09 L186.13,307.99 L186.65,309.83 L187.17,311.63 L187.69,313.37 L188.21,315.07 L188.73,316.71 L189.25,318.32 L189.77,319.87 L190.29,321.39 L190.81,322.86 L191.33,324.29 L191.86,325.69 L192.38,327.04 L192.9,328.36 L193.42,329.64 L193.94,330.88 L194.46,332.09 L194.98,333.27 L195.5,334.41 L196.02,335.52 L196.54,336.6 L197.06,337.65 L197.58,338.68 L198.1,339.67 L198.62,340.63 L199.14,341.57 L199.66,342.49 L200.18,343.37 L200.7,344.24 L201.22,345.08 L201.74,345.89 L202.26,346.69 L202.78,347.46 L203.3,348.21 L203.82,348.94 L204.34,349.65 L204.86,350.33 L205.38,351.01 L205.9,351.66 L206.42,352.29 L206.94,352.91 L207.46,353.5 L207.99,354.09 L208.51,354.65 L209.03,355.2 L209.55,355.74 L210.07,356.26 L210.59,356.76 L211.11,357.26 L211.63,357.73 L212.15,358.2 L212.67,358.65 L213.19,359.09 L213.71,359.52 L214.23,359.93 L214.75,360.34 L215.27,360.73 L215.79,361.11 L216.31,361.48 L216.83,361.84 L217.35,362.2 L217.87,362.54 L218.39,362.87 L218.91,363.19 L219.43,363.5 L219.95,363.81 L220.47,364.11 L220.99,364.39 L221.51,364.67 L222.03,364.95 L222.55,365.21 L223.07,365.47 L223.59,365.72 L224.11,365.96 L224.64,366.2 L225.16,366.43 L225.68,366.65 L226.2,366.87 L226.72,367.08 L227.24,367.29 L227.76,367.49 L228.28,367.68 L228.8,367.87 L229.32,368.06 L229.84,368.24 L230.36,368.41 L230.88,368.58 L231.4,368.74 L231.92,368.9 L232.44,369.06 L232.96,369.21 L233.48,369.35 L234,369.5 L234.52,369.64 L235.04,369.77 L235.56,369.9 L236.08,370.03 L236.6,370.15 L237.12,370.27 L237.64,370.39 L238.16,370.51 L238.68,370.62 L239.2,370.72 L239.72,370.83 L240.24,370.93 L240.77,371.03 L241.29,371.13 L241.81,371.22 L242.33,371.31 L242.85,371.4 L243.37,371.48 L243.89,371.57 L244.41,371.65 L244.93,371.73 L245.45,371.81 L245.97,371.88 L246.49,371.95 L247.01,372.02 L247.53,372.09 L248.05,372.16 L248.57,372.22 L249.09,372.29 L249.61,372.35 L250.13,372.41 L250.65,372.47 L251.17,372.52 L251.69,372.58 L252.21,372.63 L252.73,372.68 L253.25,372.73 L253.77,372.78 L254.29,372.83 L254.81,372.88 L255.33,372.92 L255.85,372.96 L256.37,373.01 L256.37,374.5 Z" fill="rgba(50,104,154,0.300)"/>
<path d="M173.12,374.5 L173.12,240.15 L173.64,243.87 L174.16,247.5 L174.68,251.02 L175.21,254.44 L175.73,257.77 L176.25,261.01 L176.77,264.16 L177.29,267.22 L177.81,270.19 L178.33,273.08 L178.85,275.9 L179.37,278.63 L179.89,281.29 L180.41,283.88 L180.93,286.39 L181.45,288.83 L181.97,291.21 L182.49,293.52 L183.01,295.76 L183.53,297.95 L184.05,300.07 L184.57,302.13 L185.09,304.14 L185.61,306.09 L186.13,307.99 L186.65,309.83 L187.17,311.63 L187.69,313.37 L188.21,315.07 L188.73,316.71 L189.25,318.32 L189.77,319.87 L190.29,321.39 L190.81,322.86 L191.33,324.29 L191.86,325.69 L192.38,327.04 L192.9,328.36 L193.42,329.64 L193.94,330.88 L194.46,332.09 L194.98,333.27 L195.5,334.41 L196.02,335.52 L196.54,336.6 L197.06,337.65 L197.58,338.68 L198.1,339.67 L198.62,340.63 L199.14,341.57 L199.66,342.49 L200.18,343.37 L200.7,344.24 L201.22,345.08 L201.74,345.89 L202.26,346.69 L202.78,347.46 L203.3,348.21 L203.82,348.94 L204.34,349.65 L204.86,350.33 L205.38,351.01 L205.9,351.66 L206.42,352.29 L206.94,352.91 L207.46,353.5 L207.99,354.09 L208.51,354.65 L209.03,355.2 L209.55,355.74 L210.07,356.26 L210.59,356.76 L211.11,357.26 L211.63,357.73 L212.15,358.2 L212.67,358.65 L213.19,359.09 L213.71,359.52 L214.23,359.93 L214.75,360.34 L215.27,360.73 L215.79,361.11 L216.31,361.48 L216.83,361.84 L217.35,362.2 L217.87,362.54 L218.39,362.87 L218.91,363.19 L219.43,363.5 L219.95,363.81 L220.47,364.11 L220.99,364.39 L221.51,364.67 L222.03,364.95 L222.55,365.21 L223.07,365.47 L223.59,365.72 L224.11,365.96 L224.64,366.2 L225.16,366.43 L225.68,366.65 L226.2,366.87 L226.72,367.08 L227.24,367.29 L227.76,367.49 L228.28,367.68 L228.8,367.87 L229.32,368.06 L229.84,368.24 L230.36,368.41 L230.88,368.58 L231.4,368.74 L231.92,368.9 L232.44,369.06 L232.96,369.21 L233.48,369.35 L234,369.5 L234.52,369.64 L235.04,369.77 L235.56,369.9 L236.08,370.03 L236.6,370.15 L237.12,370.27 L237.64,370.39 L238.16,370.51 L238.68,370.62 L239.2,370.72 L239.72,370.83 L240.24,370.93 L240.77,371.03 L241.29,371.13 L241.81,371.22 L242.33,371.31 L242.85,371.4 L243.37,371.48 L243.89,371.57 L244.41,371.65 L244.93,371.73 L245.45,371.81 L245.97,371.88 L246.49,371.95 L247.01,372.02 L247.53,372.09 L248.05,372.16 L248.57,372.22 L249.09,372.29 L249.61,372.35 L250.13,372.41 L250.65,372.47 L251.17,372.52 L251.69,372.58 L252.21,372.63 L252.73,372.68 L253.25,372.73 L253.77,372.78 L254.29,372.83 L254.81,372.88 L255.33,372.92 L255.85,372.96 L256.37,373.01 L256.37,374.5" fill="none" stroke="rgba(50,104,154,1.000)" stroke-width="1.65" stroke-linejoin="round"/>
<path d="M202.9,374.5 L202.9,371.79 L203.35,371.72 L203.8,371.65 L204.26,371.58 L204.71,371.51 L205.16,371.44 L205.61,371.36 L206.07,371.28 L206.52,371.2 L206.97,371.12 L207.42,371.04 L207.88,370.95 L208.33,370.86 L208.78,370.77 L209.23,370.68 L209.69,370.59 L210.14,370.49 L210.59,370.39 L211.04,370.29 L211.49,370.19 L211.95,370.08 L212.4,369.97 L212.85,369.86 L213.3,369.74 L213.76,369.62 L214.21,369.5 L214.66,369.38 L215.11,369.25 L215.57,369.12 L216.02,368.99 L216.47,368.85 L216.92,368.71 L217.38,368.57 L217.83,368.42 L218.28,368.27 L218.73,368.12 L219.18,367.96 L219.64,367.8 L220.09,367.63 L220.54,367.46 L220.99,367.29 L221.45,367.11 L221.9,366.93 L222.35,366.74 L222.8,366.55 L223.26,366.35 L223.71,366.15 L224.16,365.94 L224.61,365.73 L225.07,365.52 L225.52,365.29 L225.97,365.06 L226.42,364.83 L226.87,364.59 L227.33,364.35 L227.78,364.1 L228.23,363.84 L228.68,363.57 L229.14,363.3 L229.59,363.03 L230.04,362.74 L230.49,362.45 L230.95,362.15 L231.4,361.85 L231.85,361.53 L232.3,361.21 L232.76,360.88 L233.21,360.55 L233.66,360.2 L234.11,359.85 L234.56,359.49 L235.02,359.11 L235.47,358.73 L235.92,358.34 L236.37,357.94 L236.83,357.53 L237.28,357.11 L237.73,356.68 L238.18,356.24 L238.64,355.79 L239.09,355.33 L239.54,354.85 L239.99,354.37 L240.45,353.87 L240.9,353.36 L241.35,352.83 L241.8,352.3 L242.25,351.75 L242.71,351.19 L243.16,350.61 L243.61,350.02 L244.06,349.41 L244.52,348.79 L244.97,348.15 L245.42,347.5 L245.87,346.83 L246.33,346.15 L246.78,345.45 L247.23,344.73 L247.68,343.99 L248.14,343.24 L248.59,342.46 L249.04,341.67 L249.49,340.86 L249.94,340.02 L250.4,339.17 L250.85,338.3 L251.3,337.4 L251.75,336.48 L252.21,335.54 L252.66,334.58 L253.11,333.59 L253.56,332.57 L254.02,331.54 L254.47,330.47 L254.92,329.38 L255.37,328.27 L255.83,327.12 L256.28,325.95 L256.73,324.75 L257.18,323.52 L257.63,322.26 L258.09,320.96 L258.54,319.64 L258.99,318.28 L259.44,316.89 L259.9,315.46 L260.35,314 L260.8,312.5 L261.25,310.97 L261.71,309.4 L262.16,307.78 L262.61,306.13 L263.06,304.44 L263.52,302.71 L263.97,300.93 L264.42,299.11 L264.87,297.24 L265.32,295.33 L265.78,293.37 L266.23,291.36 L266.68,289.31 L267.13,287.2 L267.59,285.04 L268.04,282.82 L268.49,280.55 L268.94,278.23 L269.4,275.84 L269.85,273.4 L270.3,270.9 L270.75,268.34 L271.2,265.71 L271.66,263.01 L272.11,260.26 L272.56,257.43 L273.01,254.53 L273.47,251.56 L273.92,248.52 L274.37,245.4 L274.82,242.2 L275.28,238.93 L275.28,374.5 Z" fill="rgba(253,231,53,0.300)"/>
<path d="M202.9,374.5 L202.9,371.79 L203.35,371.72 L203.8,371.65 L204.26,371.58 L204.71,371.51 L205.16,371.44 L205.61,371.36 L206.07,371.28 L206.52,371.2 L206.97,371.12 L207.42,371.04 L207.88,370.95 L208.33,370.86 L208.78,370.77 L209.23,370.68 L209.69,370.59 L210.14,370.49 L210.59,370.39 L211.04,370.29 L211.49,370.19 L211.95,370.08 L212.4,369.97 L212.85,369.86 L213.3,369.74 L213.76,369.62 L214.21,369.5 L214.66,369.38 L215.11,369.25 L215.57,369.12 L216.02,368.99 L216.47,368.85 L216.92,368.71 L217.38,368.57 L217.83,368.42 L218.28,368.27 L218.73,368.12 L219.18,367.96 L219.64,367.8 L220.09,367.63 L220.54,367.46 L220.99,367.29 L221.45,367.11 L221.9,366.93 L222.35,366.74 L222.8,366.55 L223.26,366.35 L223.71,366.15 L224.16,365.94 L224.61,365.73 L225.07,365.52 L225.52,365.29 L225.97,365.06 L226.42,364.83 L226.87,364.59 L227.33,364.35 L227.78,364.1 L228.23,363.84 L228.68,363.57 L229.14,363.3 L229.59,363.03 L230.04,362.74 L230.49,362.45 L230.95,362.15 L231.4,361.85 L231.85,361.53 L232.3,361.21 L232.76,360.88 L233.21,360.55 L233.66,360.2 L234.11,359.85 L234.56,359.49 L235.02,359.11 L235.47,358.73 L235.92,358.34 L236.37,357.94 L236.83,357.53 L237.28,357.11 L237.73,356.68 L238.18,356.24 L238.64,355.79 L239.09,355.33 L239.54,354.85 L239.99,354.37 L240.45,353.87 L240.9,353.36 L241.35,352.83 L241.8,352.3 L242.25,351.75 L242.71,351.19 L243.16,350.61 L243.61,350.02 L244.06,349.41 L244.52,348.79 L244.97,348.15 L245.42,347.5 L245.87,346.83 L246.33,346.15 L246.78,345.45 L247.23,344.73 L247.68,343.99 L248.14,343.24 L248.59,342.46 L249.04,341.67 L249.49,340.86 L249.94,340.02 L250.4,339.17 L250.85,338.3 L251.3,337.4 L251.75,336.48 L252.21,335.54 L252.66,334.58 L253.11,333.59 L253.56,332.57 L254.02,331.54 L254.47,330.47 L254.92,329.38 L255.37,328.27 L255.83,327.12 L256.28,325.95 L256.73,324.75 L257.18,323.52 L257.63,322.26 L258.09,320.96 L258.54,319.64 L258.99,318.28 L259.44,316.89 L259.9,315.46 L260.35,314 L260.8,312.5 L261.25,310.97 L261.71,309.4 L262.16,307.78 L262.61,306.13 L263.06,304.44 L263.52,302.71 L263.97,300.93 L264.42,299.11 L264.87,297.24 L265.32,295.33 L265.78,293.37 L266.23,291.36 L266.68,289.31 L267.13,287.2 L267.59,285.04 L268.04,282.82 L268.49,280.55 L268.94,278.23 L269.4,275.84 L269.85,273.4 L270.3,270.9 L270.75,268.34 L271.2,265.71 L271.66,263.01 L272.11,260.26 L272.56,257.43 L273.01,254.53 L273.47,251.56 L273.92,248.52 L274.37,245.4 L274.82,242.2 L275.28,238.93 L275.28,374.5" fill="none" stroke="rgba(253,231,53,1.000)" stroke-width="1.65" stroke-linejoin="round"/>
<path d="M173.12,374.5 L173.12,373.01 L173.64,372.96 L174.16,372.92 L174.68,372.88 L175.21,372.83 L175.73,372.78 L176.25,372.73 L176.77,372.68 L177.29,372.63 L177.81,372.58 L178.33,372.52 L178.85,372.47 L179.37,372.41 L179.89,372.35 L180.41,372.29 L180.93,372.22 L181.45,372.16 L181.97,372.09 L182.49,372.02 L183.01,371.95 L183.53,371.88 L184.05,371.81 L184.57,371.73 L185.09,371.65 L185.61,371.57 L186.13,371.48 L186.65,371.4 L187.17,371.31 L187.69,371.22 L188.21,371.13 L188.73,371.03 L189.25,370.93 L189.77,370.83 L190.29,370.72 L190.81,370.62 L191.33,370.51 L191.86,370.39 L192.38,370.27 L192.9,370.15 L193.42,370.03 L193.94,369.9 L194.46,369.77 L194.98,369.64 L195.5,369.5 L196.02,369.35 L196.54,369.21 L197.06,369.06 L197.58,368.9 L198.1,368.74 L198.62,368.58 L199.14,368.41 L199.66,368.24 L200.18,368.06 L200.7,367.87 L201.22,367.68 L201.74,367.49 L202.26,367.29 L202.78,367.08 L203.3,366.87 L203.82,366.65 L204.34,366.43 L204.86,366.2 L205.38,365.96 L205.9,365.72 L206.42,365.47 L206.94,365.21 L207.46,364.95 L207.99,364.67 L208.51,364.39 L209.03,364.11 L209.55,363.81 L210.07,363.5 L210.59,363.19 L211.11,362.87 L211.63,362.54 L212.15,362.2 L212.67,361.84 L213.19,361.48 L213.71,361.11 L214.23,360.73 L214.75,360.34 L215.27,359.93 L215.79,359.52 L216.31,359.09 L216.83,358.65 L217.35,358.2 L217.87,357.73 L218.39,357.26 L218.91,356.76 L219.43,356.26 L219.95,355.74 L220.47,355.2 L220.99,354.65 L221.51,354.09 L222.03,353.5 L222.55,352.91 L223.07,352.29 L223.59,351.66 L224.11,351.01 L224.64,350.33 L225.16,349.65 L225.68,348.94 L226.2,348.21 L226.72,347.46 L227.24,346.69 L227.76,345.89 L228.28,345.08 L228.8,344.24 L229.32,343.37 L229.84,342.49 L230.36,341.57 L230.88,340.63 L231.4,339.67 L231.92,338.68 L232.44,337.65 L232.96,336.6 L233.48,335.52 L234,334.41 L234.52,333.27 L235.04,332.09 L235.56,330.88 L236.08,329.64 L236.6,328.36 L237.12,327.04 L237.64,325.69 L238.16,324.29 L238.68,322.86 L239.2,321.39 L239.72,319.87 L240.24,318.32 L240.77,316.71 L241.29,315.07 L241.81,313.37 L242.33,311.63 L242.85,309.83 L243.37,307.99 L243.89,306.09 L244.41,304.14 L244.93,302.13 L245.45,300.07 L245.97,297.95 L246.49,295.76 L247.01,293.52 L247.53,291.21 L248.05,288.83 L248.57,286.39 L249.09,283.88 L249.61,281.29 L250.13,278.63 L250.65,275.9 L251.17,273.08 L251.69,270.19 L252.21,267.22 L252.73,264.16 L253.25,261.01 L253.77,257.77 L254.29,254.44 L254.81,251.02 L255.33,247.5 L255.85,243.87 L256.37,240.15 L256.37,374.5 Z" fill="rgba(140,212,73,0.300)"/>
<path d="M173.12,374.5 L173.12,373.01 L173.64,372.96 L174.16,372.92 L174.68,372.88 L175.21,372.83 L175.73,372.78 L176.25,372.73 L176.77,372.68 L177.29,372.63 L177.81,372.58 L178.33,372.52 L178.85,372.47 L179.37,372.41 L179.89,372.35 L180.41,372.29 L180.93,372.22 L181.45,372.16 L181.97,372.09 L182.49,372.02 L183.01,371.95 L183.53,371.88 L184.05,371.81 L184.57,371.73 L185.09,371.65 L185.61,371.57 L186.13,371.48 L186.65,371.4 L187.17,371.31 L187.69,371.22 L188.21,371.13 L188.73,371.03 L189.25,370.93 L189.77,370.83 L190.29,370.72 L190.81,370.62 L191.33,370.51 L191.86,370.39 L192.38,370.27 L192.9,370.15 L193.42,370.03 L193.94,369.9 L194.46,369.77 L194.98,369.64 L195.5,369.5 L196.02,369.35 L196.54,369.21 L197.06,369.06 L197.58,368.9 L198.1,368.74 L198.62,368.58 L199.14,368.41 L199.66,368.24 L200.18,368.06 L200.7,367.87 L201.22,367.68 L201.74,367.49 L202.26,367.29 L202.78,367.08 L203.3,366.87 L203.82,366.65 L204.34,366.43 L204.86,366.2 L205.38,365.96 L205.9,365.72 L206.42,365.47 L206.94,365.21 L207.46,364.95 L207.99,364.67 L208.51,364.39 L209.03,364.11 L209.55,363.81 L210.07,363.5 L210.59,363.19 L211.11,362.87 L211.63,362.54 L212.15,362.2 L212.67,361.84 L213.19,361.48 L213.71,361.11 L214.23,360.73 L214.75,360.34 L215.27,359.93 L215.79,359.52 L216.31,359.09 L216.83,358.65 L217.35,358.2 L217.87,357.73 L218.39,357.26 L218.91,356.76 L219.43,356.26 L219.95,355.74 L220.47,355.2 L220.99,354.65 L221.51,354.09 L222.03,353.5 L222.55,352.91 L223.07,352.29 L223.59,351.66 L224.11,351.01 L224.64,350.33 L225.16,349.65 L225.68,348.94 L226.2,348.21 L226.72,347.46 L227.24,346.69 L227.76,345.89 L228.28,345.08 L228.8,344.24 L229.32,343.37 L229.84,342.49 L230.36,341.57 L230.88,340.63 L231.4,339.67 L231.92,338.68 L232.44,337.65 L232.96,336.6 L233.48,335.52 L234,334.41 L234.52,333.27 L235.04,332.09 L235.56,330.88 L236.08,329.64 L236.6,328.36 L237.12,327.04 L237.64,325.69 L238.16,324.29 L238.68,322.86 L239.2,321.39 L239.72,319.87 L240.24,318.32 L240.77,316.71 L241.29,315.07 L241.81,313.37 L242.33,311.63 L242.85,309.83 L243.37,307.99 L243.89,306.09 L244.41,304.14 L244.93,302.13 L245.45,300.07 L245.97,297.95 L246.49,295.76 L247.01,293.52 L247.53,291.21 L248.05,288.83 L248.57,286.39 L249.09,283.88 L249.61,281.29 L250.13,278.63 L250.65,275.9 L251.17,273.08 L251.69,270.19 L252.21,267.22 L252.73,264.16 L253.25,261.01 L253.77,257.77 L254.29,254.44 L254.81,251.02 L255.33,247.5 L255.85,243.87 L256.37,240.15 L256.37,374.5" fill="none" stroke="rgba(140,212,73,1.000)" stroke-width="1.65" stroke-linejoin="round"/>
<path d="M173.12,374.5 L173.12,366.67 L173.64,366.56 L174.16,366.45 L174.68,366.34 L175.21,366.22 L175.73,366.1 L176.25,365.98 L176.77,365.86 L177.29,365.74 L177.81,365.62 L178.33,365.49 L178.85,365.36 L179.37,365.23 L179.89,365.1 L180.41,364.97 L180.93,364.83 L181.45,364.7 L181.97,364.56 L182.49,364.42 L183.01,364.28 L183.53,364.13 L184.05,363.98 L184.57,363.83 L185.09,363.68 L185.61,363.53 L186.13,363.38 L186.65,363.22 L187.17,363.06 L187.69,362.9 L188.21,362.73 L188.73,362.56 L189.25,362.4 L189.77,362.22 L190.29,362.05 L190.81,361.87 L191.33,361.7 L191.86,361.51 L192.38,361.33 L192.9,361.14 L193.42,360.95 L193.94,360.76 L194.46,360.57 L194.98,360.37 L195.5,360.17 L196.02,359.97 L196.54,359.76 L197.06,359.55 L197.58,359.34 L198.1,359.13 L198.62,358.91 L199.14,358.69 L199.66,358.46 L200.18,358.24 L200.7,358.01 L201.22,357.77 L201.74,357.54 L202.26,357.3 L202.78,357.05 L203.3,356.81 L203.82,356.56 L204.34,356.3 L204.86,356.04 L205.38,355.78 L205.9,355.52 L206.42,355.25 L206.94,354.98 L207.46,354.7 L207.99,354.42 L208.51,354.13 L209.03,353.85 L209.55,353.55 L210.07,353.26 L210.59,352.96 L211.11,352.65 L211.63,352.34 L212.15,352.03 L212.67,351.71 L213.19,351.39 L213.71,351.06 L214.23,350.73 L214.75,350.39 L215.27,350.05 L215.79,349.7 L216.31,349.35 L216.83,349 L217.35,348.64 L217.87,348.27 L218.39,347.9 L218.91,347.52 L219.43,347.14 L219.95,346.75 L220.47,346.36 L220.99,345.96 L221.51,345.56 L222.03,345.15 L222.55,344.73 L223.07,344.31 L223.59,343.88 L224.11,343.45 L224.64,343.01 L225.16,342.56 L225.68,342.11 L226.2,341.65 L226.72,341.19 L227.24,340.71 L227.76,340.23 L228.28,339.75 L228.8,339.26 L229.32,338.76 L229.84,338.25 L230.36,337.74 L230.88,337.22 L231.4,336.69 L231.92,336.16 L232.44,335.61 L232.96,335.06 L233.48,334.5 L234,333.94 L234.52,333.36 L235.04,332.78 L235.56,332.19 L236.08,331.59 L236.6,330.98 L237.12,330.37 L237.64,329.74 L238.16,329.11 L238.68,328.46 L239.2,327.81 L239.72,327.15 L240.24,326.48 L240.77,325.8 L241.29,325.11 L241.81,324.41 L242.33,323.7 L242.85,322.98 L243.37,322.25 L243.89,321.51 L244.41,320.76 L244.93,320 L245.45,319.23 L245.97,318.45 L246.49,317.65 L247.01,316.85 L247.53,316.03 L248.05,315.2 L248.57,314.36 L249.09,313.51 L249.61,312.65 L250.13,311.77 L250.65,310.88 L251.17,309.98 L251.69,309.07 L252.21,308.14 L252.73,307.2 L253.25,306.25 L253.77,305.28 L254.29,304.3 L254.81,303.31 L255.33,302.3 L255.85,301.28 L256.37,300.24 L256.37,374.5 Z" fill="rgba(60,184,120,0.300)"/>
<path d="M173.12,374.5 L173.12,366.67 L173.64,366.56 L174.16,366.45 L174.68,366.34 L175.21,366.22 L175.73,366.1 L176.25,365.98 L176.77,365.86 L177.29,365.74 L177.81,365.62 L178.33,365.49 L178.85,365.36 L179.37,365.23 L179.89,365.1 L180.41,364.97 L180.93,364.83 L181.45,364.7 L181.97,364.56 L182.49,364.42 L183.01,364.28 L183.53,364.13 L184.05,363.98 L184.57,363.83 L185.09,363.68 L185.61,363.53 L186.13,363.38 L186.65,363.22 L187.17,363.06 L187.69,362.9 L188.21,362.73 L188.73,362.56 L189.25,362.4 L189.77,362.22 L190.29,362.05 L190.81,361.87 L191.33,361.7 L191.86,361.51 L192.38,361.33 L192.9,361.14 L193.42,360.95 L193.94,360.76 L194.46,360.57 L194.98,360.37 L195.5,360.17 L196.02,359.97 L196.54,359.76 L197.06,359.55 L197.58,359.34 L198.1,359.13 L198.62,358.91 L199.14,358.69 L199.66,358.46 L200.18,358.24 L200.7,358.01 L201.22,357.77 L201.74,357.54 L202.26,357.3 L202.78,357.05 L203.3,356.81 L203.82,356.56 L204.34,356.3 L204.86,356.04 L205.38,355.78 L205.9,355.52 L206.42,355.25 L206.94,354.98 L207.46,354.7 L207.99,354.42 L208.51,354.13 L209.03,353.85 L209.55,353.55 L210.07,353.26 L210.59,352.96 L211.11,352.65 L211.63,352.34 L212.15,352.03 L212.67,351.71 L213.19,351.39 L213.71,351.06 L214.23,350.73 L214.75,350.39 L215.27,350.05 L215.79,349.7 L216.31,349.35 L216.83,349 L217.35,348.64 L217.87,348.27 L218.39,347.9 L218.91,347.52 L219.43,347.14 L219.95,346.75 L220.47,346.36 L220.99,345.96 L221.51,345.56 L222.03,345.15 L222.55,344.73 L223.07,344.31 L223.59,343.88 L224.11,343.45 L224.64,343.01 L225.16,342.56 L225.68,342.11 L226.2,341.65 L226.72,341.19 L227.24,340.71 L227.76,340.23 L228.28,339.75 L228.8,339.26 L229.32,338.76 L229.84,338.25 L230.36,337.74 L230.88,337.22 L231.4,336.69 L231.92,336.16 L232.44,335.61 L232.96,335.06 L233.48,334.5 L234,333.94 L234.52,333.36 L235.04,332.78 L235.56,332.19 L236.08,331.59 L236.6,330.98 L237.12,330.37 L237.64,329.74 L238.16,329.11 L238.68,328.46 L239.2,327.81 L239.72,327.15 L240.24,326.48 L240.77,325.8 L241.29,325.11 L241.81,324.41 L242.33,323.7 L242.85,322.98 L243.37,322.25 L243.89,321.51 L244.41,320.76 L244.93,320 L245.45,319.23 L245.97,318.45 L246.49,317.65 L247.01,316.85 L247.53,316.03 L248.05,315.2 L248.57,314.36 L249.09,313.51 L249.61,312.65 L250.13,311.77 L250.65,310.88 L251.17,309.98 L251.69,309.07 L252.21,308.14 L252.73,307.2 L253.25,306.25 L253.77,305.28 L254.29,304.3 L254.81,303.31 L255.33,302.3 L255.85,301.28 L256.37,300.24 L256.37,374.5" fill="none" stroke="rgba(60,184,120,1.000)" stroke-width="1.65" stroke-linejoin="round"/>
<path d="M173.12,374.5 L173.12,344.97 L173.64,344.97 L174.16,344.97 L174.68,344.97 L175.21,344.97 L175.73,344.97 L176.25,344.97 L176.77,344.97 L177.29,344.97 L177.81,344.97 L178.33,344.97 L178.85,344.97 L179.37,344.97 L179.89,344.97 L180.41,344.97 L180.93,344.97 L181.45,344.97 L181.97,344.97 L182.49,344.97 L183.01,344.97 L183.53,344.97 L184.05,344.97 L184.57,344.97 L185.09,344.97 L185.61,344.97 L186.13,344.97 L186.65,344.97 L187.17,344.97 L187.69,344.97 L188.21,344.97 L188.73,344.97 L189.25,344.97 L189.77,344.97 L190.29,344.97 L190.81,344.97 L191.33,344.97 L191.86,344.97 L192.38,344.97 L192.9,344.97 L193.42,344.97 L193.94,344.97 L194.46,344.97 L194.98,344.97 L195.5,344.97 L196.02,344.97 L196.54,344.97 L197.06,344.97 L197.58,344.97 L198.1,344.97 L198.62,344.97 L199.14,344.97 L199.66,344.97 L200.18,344.97 L200.7,344.97 L201.22,344.97 L201.74,344.97 L202.26,344.97 L202.78,344.97 L203.3,344.97 L203.82,344.97 L204.34,344.97 L204.86,344.97 L205.38,344.97 L205.9,344.97 L206.42,344.97 L206.94,344.97 L207.46,344.97 L207.99,344.97 L208.51,344.97 L209.03,344.97 L209.55,344.97 L210.07,344.97 L210.59,344.97 L211.11,344.97 L211.63,344.97 L212.15,344.97 L212.67,344.97 L213.19,344.97 L213.71,344.97 L214.23,344.97 L214.75,344.97 L215.27,344.97 L215.79,344.97 L216.31,344.97 L216.83,344.97 L217.35,344.97 L217.87,344.97 L218.39,344.97 L218.91,344.97 L219.43,344.97 L219.95,344.97 L220.47,344.97 L220.99,344.97 L221.51,344.97 L222.03,344.97 L222.55,344.97 L223.07,344.97 L223.59,344.97 L224.11,344.97 L224.64,344.97 L225.16,344.97 L225.68,344.97 L226.2,344.97 L226.72,344.97 L227.24,344.97 L227.76,344.97 L228.28,344.97 L228.8,344.97 L229.32,344.97 L229.84,344.97 L230.36,344.97 L230.88,344.97 L231.4,344.97 L231.92,344.97 L232.44,344.97 L232.96,344.97 L233.48,344.97 L234,344.97 L234.52,344.97 L235.04,344.97 L235.56,344.97 L236.08,344.97 L236.6,344.97 L237.12,344.97 L237.64,344.97 L238.16,344.97 L238.68,344.97 L239.2,344.97 L239.72,344.97 L240.24,344.97 L240.77,344.97 L241.29,344.97 L241.81,344.97 L242.33,344.97 L242.85,344.97 L243.37,344.97 L243.89,344.97 L244.41,344.97 L244.93,344.97 L245.45,344.97 L245.97,344.97 L246.49,344.97 L247.01,344.97 L247.53,344.97 L248.05,344.97 L248.57,344.97 L249.09,344.97 L249.61,344.97 L250.13,344.97 L250.65,344.97 L251.17,344.97 L251.69,344.97 L252.21,344.97 L252.73,344.97 L253.25,344.97 L253.77,344.97 L254.29,344.97 L254.81,344.97 L255.33,344.97 L255.85,344.97 L256.37,344.97 L256.37,374.5 Z" fill="rgba(42,150,146,0.300)"/>
<path d="M173.12,374.5 L173.12,344.97 L173.64,344.97 L174.16,344.97 L174.68,344.97 L175.21,344.97 L175.73,344.97 L176.25,344.97 L176.77,344.97 L177.29,344.97 L177.81,344.97 L178.33,344.97 L178.85,344.97 L179.37,344.97 L179.89,344.97 L180.41,344.97 L180.93,344.97 L181.45,344.97 L181.97,344.97 L182.49,344.97 L183.01,344.97 L183.53,344.97 L184.05,344.97 L184.57,344.97 L185.09,344.97 L185.61,344.97 L186.13,344.97 L186.65,344.97 L187.17,344.97 L187.69,344.97 L188.21,344.97 L188.73,344.97 L189.25,344.97 L189.77,344.97 L190.29,344.97 L190.81,344.97 L191.33,344.97 L191.86,344.97 L192.38,344.97 L192.9,344.97 L193.42,344.97 L193.94,344.97 L194.46,344.97 L194.98,344.97 L195.5,344.97 L196.02,344.97 L196.54,344.97 L197.06,344.97 L197.58,344.97 L198.1,344.97 L198.62,344.97 L199.14,344.97 L199.66,344.97 L200.18,344.97 L200.7,344.97 L201.22,344.97 L201.74,344.97 L202.26,344.97 L202.78,344.97 L203.3,344.97 L203.82,344.97 L204.34,344.97 L204.86,344.97 L205.38,344.97 L205.9,344.97 L206.42,344.97 L206.94,344.97 L207.46,344.97 L207.99,344.97 L208.51,344.97 L209.03,344.97 L209.55,344.97 L210.07,344.97 L210.59,344.97 L211.11,344.97 L211.63,344.97 L212.15,344.97 L212.67,344.97 L213.19,344.97 L213.71,344.97 L214.23,344.97 L214.75,344.97 L215.27,344.97 L215.79,344.97 L216.31,344.97 L216.83,344.97 L217.35,344.97 L217.87,344.97 L218.39,344.97 L218.91,344.97 L219.43,344.97 L219.95,344.97 L220.47,344.97 L220.99,344.97 L221.51,344.97 L222.03,344.97 L222.55,344.97 L223.07,344.97 L223.59,344.97 L224.11,344.97 L224.64,344.97 L225.16,344.97 L225.68,344.97 L226.2,344.97 L226.72,344.97 L227.24,344.97 L227.76,344.97 L228.28,344.97 L228.8,344.97 L229.32,344.97 L229.84,344.97 L230.36,344.97 L230.88,344.97 L231.4,344.97 L231.92,344.97 L232.44,344.97 L232.96,344.97 L233.48,344.97 L234,344.97 L234.52,344.97 L235.04,344.97 L235.56,344.97 L236.08,344.97 L236.6,344.97 L237.12,344.97 L237.64,344.97 L238.16,344.97 L238.68,344.97 L239.2,344.97 L239.72,344.97 L240.24,344.97 L240.77,344.97 L241.29,344.97 L241.81,344.97 L242.33,344.97 L242.85,344.97 L243.37,344.97 L243.89,344.97 L244.41,344.97 L244.93,344.97 L245.45,344.97 L245.97,344.97 L246.49,344.97 L247.01,344.97 L247.53,344.97 L248.05,344.97 L248.57,344.97 L249.09,344.97 L249.61,344.97 L250.13,344.97 L250.65,344.97 L251.17,344.97 L251.69,344.97 L252.21,344.97 L252.73,344.97 L253.25,344.97 L253.77,344.97 L254.29,344.97 L254.81,344.97 L255.33,344.97 L255.85,344.97 L256.37,344.97 L256.37,374.5" fill="none" stroke="rgba(42,150,146,1.000)" stroke-width="1.65" stroke-linejoin="round"/>
</g>
<g clip-path="url(#cp11)">
<path d="M306.27,374.5 L306.27,195.11 L307.02,204.59 L307.76,213.58 L308.5,222.09 L309.25,230.14 L309.99,237.78 L310.74,245 L311.48,251.85 L312.23,258.33 L312.97,264.48 L313.72,270.29 L314.46,275.8 L315.2,281.02 L315.95,285.96 L316.69,290.64 L317.44,295.08 L318.18,299.28 L318.93,303.25 L319.67,307.02 L320.42,310.59 L321.16,313.97 L321.9,317.17 L322.65,320.2 L323.39,323.07 L324.14,325.79 L324.88,328.36 L325.63,330.8 L326.37,333.11 L327.11,335.3 L327.86,337.37 L328.6,339.34 L329.35,341.2 L330.09,342.96 L330.84,344.62 L331.58,346.2 L332.33,347.7 L333.07,349.12 L333.81,350.46 L334.56,351.73 L335.3,352.93 L336.05,354.07 L336.79,355.15 L337.54,356.18 L338.28,357.15 L339.03,358.06 L339.77,358.93 L340.51,359.75 L341.26,360.53 L342,361.27 L342.75,361.97 L343.49,362.63 L344.24,363.26 L344.98,363.86 L345.72,364.42 L346.47,364.95 L347.21,365.46 L347.96,365.93 L348.7,366.39 L349.45,366.82 L350.19,367.22 L350.94,367.61 L351.68,367.97 L352.42,368.32 L353.17,368.64 L353.91,368.95 L354.66,369.25 L355.4,369.52 L356.15,369.79 L356.89,370.04 L357.64,370.27 L358.38,370.5 L359.12,370.71 L359.87,370.91 L360.61,371.1 L361.36,371.28 L362.1,371.45 L362.85,371.61 L363.59,371.76 L364.34,371.91 L365.08,372.04 L365.82,372.17 L366.57,372.3 L367.31,372.41 L368.06,372.52 L368.8,372.63 L369.55,372.73 L370.29,372.82 L371.03,372.91 L371.78,372.99 L372.52,373.07 L373.27,373.15 L374.01,373.22 L374.76,373.29 L375.5,373.35 L376.25,373.41 L376.99,373.47 L377.73,373.52 L378.48,373.58 L379.22,373.63 L379.97,373.67 L380.71,373.72 L381.46,373.76 L382.2,373.8 L382.95,373.83 L383.69,373.87 L384.43,373.9 L385.18,373.93 L385.92,373.96 L386.67,373.99 L387.41,374.02 L388.16,374.04 L388.9,374.07 L389.64,374.09 L390.39,374.11 L391.13,374.13 L391.88,374.15 L392.62,374.17 L393.37,374.19 L394.11,374.2 L394.86,374.22 L395.6,374.24 L396.34,374.25 L397.09,374.26 L397.83,374.27 L398.58,374.29 L399.32,374.3 L400.07,374.31 L400.81,374.32 L401.56,374.33 L402.3,374.34 L403.04,374.35 L403.79,374.35 L404.53,374.36 L405.28,374.37 L406.02,374.38 L406.77,374.38 L407.51,374.39 L408.25,374.39 L409,374.4 L409.74,374.41 L410.49,374.41 L411.23,374.42 L411.98,374.42 L412.72,374.42 L413.47,374.43 L414.21,374.43 L414.95,374.44 L415.7,374.44 L416.44,374.44 L417.19,374.45 L417.93,374.45 L418.68,374.45 L419.42,374.45 L420.17,374.46 L420.91,374.46 L421.65,374.46 L422.4,374.46 L423.14,374.46 L423.89,374.47 L424.63,374.47 L425.38,374.47 L425.38,374.5 Z" fill="rgba(70,59,139,0.150)"/>
<path d="M306.27,374.5 L306.27,195.11 L307.02,204.59 L307.76,213.58 L308.5,222.09 L309.25,230.14 L309.99,237.78 L310.74,245 L311.48,251.85 L312.23,258.33 L312.97,264.48 L313.72,270.29 L314.46,275.8 L315.2,281.02 L315.95,285.96 L316.69,290.64 L317.44,295.08 L318.18,299.28 L318.93,303.25 L319.67,307.02 L320.42,310.59 L321.16,313.97 L321.9,317.17 L322.65,320.2 L323.39,323.07 L324.14,325.79 L324.88,328.36 L325.63,330.8 L326.37,333.11 L327.11,335.3 L327.86,337.37 L328.6,339.34 L329.35,341.2 L330.09,342.96 L330.84,344.62 L331.58,346.2 L332.33,347.7 L333.07,349.12 L333.81,350.46 L334.56,351.73 L335.3,352.93 L336.05,354.07 L336.79,355.15 L337.54,356.18 L338.28,357.15 L339.03,358.06 L339.77,358.93 L340.51,359.75 L341.26,360.53 L342,361.27 L342.75,361.97 L343.49,362.63 L344.24,363.26 L344.98,363.86 L345.72,364.42 L346.47,364.95 L347.21,365.46 L347.96,365.93 L348.7,366.39 L349.45,366.82 L350.19,367.22 L350.94,367.61 L351.68,367.97 L352.42,368.32 L353.17,368.64 L353.91,368.95 L354.66,369.25 L355.4,369.52 L356.15,369.79 L356.89,370.04 L357.64,370.27 L358.38,370.5 L359.12,370.71 L359.87,370.91 L360.61,371.1 L361.36,371.28 L362.1,371.45 L362.85,371.61 L363.59,371.76 L364.34,371.91 L365.08,372.04 L365.82,372.17 L366.57,372.3 L367.31,372.41 L368.06,372.52 L368.8,372.63 L369.55,372.73 L370.29,372.82 L371.03,372.91 L371.78,372.99 L372.52,373.07 L373.27,373.15 L374.01,373.22 L374.76,373.29 L375.5,373.35 L376.25,373.41 L376.99,373.47 L377.73,373.52 L378.48,373.58 L379.22,373.63 L379.97,373.67 L380.71,373.72 L381.46,373.76 L382.2,373.8 L382.95,373.83 L383.69,373.87 L384.43,373.9 L385.18,373.93 L385.92,373.96 L386.67,373.99 L387.41,374.02 L388.16,374.04 L388.9,374.07 L389.64,374.09 L390.39,374.11 L391.13,374.13 L391.88,374.15 L392.62,374.17 L393.37,374.19 L394.11,374.2 L394.86,374.22 L395.6,374.24 L396.34,374.25 L397.09,374.26 L397.83,374.27 L398.58,374.29 L399.32,374.3 L400.07,374.31 L400.81,374.32 L401.56,374.33 L402.3,374.34 L403.04,374.35 L403.79,374.35 L404.53,374.36 L405.28,374.37 L406.02,374.38 L406.77,374.38 L407.51,374.39 L408.25,374.39 L409,374.4 L409.74,374.41 L410.49,374.41 L411.23,374.42 L411.98,374.42 L412.72,374.42 L413.47,374.43 L414.21,374.43 L414.95,374.44 L415.7,374.44 L416.44,374.44 L417.19,374.45 L417.93,374.45 L418.68,374.45 L419.42,374.45 L420.17,374.46 L420.91,374.46 L421.65,374.46 L422.4,374.46 L423.14,374.46 L423.89,374.47 L424.63,374.47 L425.38,374.47 L425.38,374.5" fill="none" stroke="rgba(70,59,139,0.620)" stroke-width="1.6" stroke-linejoin="round" stroke-dasharray="5.5 2.3" stroke-dashoffset="0.4"/>
<path d="M323.22,374.5 L323.22,240.15 L323.74,243.87 L324.26,247.5 L324.78,251.02 L325.31,254.44 L325.83,257.77 L326.35,261.01 L326.87,264.16 L327.39,267.22 L327.91,270.19 L328.43,273.08 L328.95,275.9 L329.47,278.63 L329.99,281.29 L330.51,283.88 L331.03,286.39 L331.55,288.83 L332.07,291.21 L332.59,293.52 L333.11,295.76 L333.63,297.95 L334.15,300.07 L334.67,302.13 L335.19,304.14 L335.71,306.09 L336.23,307.99 L336.75,309.83 L337.27,311.63 L337.79,313.37 L338.31,315.07 L338.83,316.71 L339.35,318.32 L339.87,319.87 L340.39,321.39 L340.91,322.86 L341.43,324.29 L341.96,325.69 L342.48,327.04 L343,328.36 L343.52,329.64 L344.04,330.88 L344.56,332.09 L345.08,333.27 L345.6,334.41 L346.12,335.52 L346.64,336.6 L347.16,337.65 L347.68,338.68 L348.2,339.67 L348.72,340.63 L349.24,341.57 L349.76,342.49 L350.28,343.37 L350.8,344.24 L351.32,345.08 L351.84,345.89 L352.36,346.69 L352.88,347.46 L353.4,348.21 L353.92,348.94 L354.44,349.65 L354.96,350.33 L355.48,351.01 L356,351.66 L356.52,352.29 L357.04,352.91 L357.56,353.5 L358.09,354.09 L358.61,354.65 L359.13,355.2 L359.65,355.74 L360.17,356.26 L360.69,356.76 L361.21,357.26 L361.73,357.73 L362.25,358.2 L362.77,358.65 L363.29,359.09 L363.81,359.52 L364.33,359.93 L364.85,360.34 L365.37,360.73 L365.89,361.11 L366.41,361.48 L366.93,361.84 L367.45,362.2 L367.97,362.54 L368.49,362.87 L369.01,363.19 L369.53,363.5 L370.05,363.81 L370.57,364.11 L371.09,364.39 L371.61,364.67 L372.13,364.95 L372.65,365.21 L373.17,365.47 L373.69,365.72 L374.21,365.96 L374.74,366.2 L375.26,366.43 L375.78,366.65 L376.3,366.87 L376.82,367.08 L377.34,367.29 L377.86,367.49 L378.38,367.68 L378.9,367.87 L379.42,368.06 L379.94,368.24 L380.46,368.41 L380.98,368.58 L381.5,368.74 L382.02,368.9 L382.54,369.06 L383.06,369.21 L383.58,369.35 L384.1,369.5 L384.62,369.64 L385.14,369.77 L385.66,369.9 L386.18,370.03 L386.7,370.15 L387.22,370.27 L387.74,370.39 L388.26,370.51 L388.78,370.62 L389.3,370.72 L389.82,370.83 L390.34,370.93 L390.87,371.03 L391.39,371.13 L391.91,371.22 L392.43,371.31 L392.95,371.4 L393.47,371.48 L393.99,371.57 L394.51,371.65 L395.03,371.73 L395.55,371.81 L396.07,371.88 L396.59,371.95 L397.11,372.02 L397.63,372.09 L398.15,372.16 L398.67,372.22 L399.19,372.29 L399.71,372.35 L400.23,372.41 L400.75,372.47 L401.27,372.52 L401.79,372.58 L402.31,372.63 L402.83,372.68 L403.35,372.73 L403.87,372.78 L404.39,372.83 L404.91,372.88 L405.43,372.92 L405.95,372.96 L406.47,373.01 L406.47,374.5 Z" fill="rgba(50,104,154,0.150)"/>
<path d="M323.22,374.5 L323.22,240.15 L323.74,243.87 L324.26,247.5 L324.78,251.02 L325.31,254.44 L325.83,257.77 L326.35,261.01 L326.87,264.16 L327.39,267.22 L327.91,270.19 L328.43,273.08 L328.95,275.9 L329.47,278.63 L329.99,281.29 L330.51,283.88 L331.03,286.39 L331.55,288.83 L332.07,291.21 L332.59,293.52 L333.11,295.76 L333.63,297.95 L334.15,300.07 L334.67,302.13 L335.19,304.14 L335.71,306.09 L336.23,307.99 L336.75,309.83 L337.27,311.63 L337.79,313.37 L338.31,315.07 L338.83,316.71 L339.35,318.32 L339.87,319.87 L340.39,321.39 L340.91,322.86 L341.43,324.29 L341.96,325.69 L342.48,327.04 L343,328.36 L343.52,329.64 L344.04,330.88 L344.56,332.09 L345.08,333.27 L345.6,334.41 L346.12,335.52 L346.64,336.6 L347.16,337.65 L347.68,338.68 L348.2,339.67 L348.72,340.63 L349.24,341.57 L349.76,342.49 L350.28,343.37 L350.8,344.24 L351.32,345.08 L351.84,345.89 L352.36,346.69 L352.88,347.46 L353.4,348.21 L353.92,348.94 L354.44,349.65 L354.96,350.33 L355.48,351.01 L356,351.66 L356.52,352.29 L357.04,352.91 L357.56,353.5 L358.09,354.09 L358.61,354.65 L359.13,355.2 L359.65,355.74 L360.17,356.26 L360.69,356.76 L361.21,357.26 L361.73,357.73 L362.25,358.2 L362.77,358.65 L363.29,359.09 L363.81,359.52 L364.33,359.93 L364.85,360.34 L365.37,360.73 L365.89,361.11 L366.41,361.48 L366.93,361.84 L367.45,362.2 L367.97,362.54 L368.49,362.87 L369.01,363.19 L369.53,363.5 L370.05,363.81 L370.57,364.11 L371.09,364.39 L371.61,364.67 L372.13,364.95 L372.65,365.21 L373.17,365.47 L373.69,365.72 L374.21,365.96 L374.74,366.2 L375.26,366.43 L375.78,366.65 L376.3,366.87 L376.82,367.08 L377.34,367.29 L377.86,367.49 L378.38,367.68 L378.9,367.87 L379.42,368.06 L379.94,368.24 L380.46,368.41 L380.98,368.58 L381.5,368.74 L382.02,368.9 L382.54,369.06 L383.06,369.21 L383.58,369.35 L384.1,369.5 L384.62,369.64 L385.14,369.77 L385.66,369.9 L386.18,370.03 L386.7,370.15 L387.22,370.27 L387.74,370.39 L388.26,370.51 L388.78,370.62 L389.3,370.72 L389.82,370.83 L390.34,370.93 L390.87,371.03 L391.39,371.13 L391.91,371.22 L392.43,371.31 L392.95,371.4 L393.47,371.48 L393.99,371.57 L394.51,371.65 L395.03,371.73 L395.55,371.81 L396.07,371.88 L396.59,371.95 L397.11,372.02 L397.63,372.09 L398.15,372.16 L398.67,372.22 L399.19,372.29 L399.71,372.35 L400.23,372.41 L400.75,372.47 L401.27,372.52 L401.79,372.58 L402.31,372.63 L402.83,372.68 L403.35,372.73 L403.87,372.78 L404.39,372.83 L404.91,372.88 L405.43,372.92 L405.95,372.96 L406.47,373.01 L406.47,374.5" fill="none" stroke="rgba(50,104,154,0.620)" stroke-width="1.6" stroke-linejoin="round" stroke-dasharray="5.5 2.3" stroke-dashoffset="0.4"/>
<path d="M353,374.5 L353,371.79 L353.45,371.72 L353.9,371.65 L354.36,371.58 L354.81,371.51 L355.26,371.44 L355.71,371.36 L356.17,371.28 L356.62,371.2 L357.07,371.12 L357.52,371.04 L357.98,370.95 L358.43,370.86 L358.88,370.77 L359.33,370.68 L359.79,370.59 L360.24,370.49 L360.69,370.39 L361.14,370.29 L361.59,370.19 L362.05,370.08 L362.5,369.97 L362.95,369.86 L363.4,369.74 L363.86,369.62 L364.31,369.5 L364.76,369.38 L365.21,369.25 L365.67,369.12 L366.12,368.99 L366.57,368.85 L367.02,368.71 L367.48,368.57 L367.93,368.42 L368.38,368.27 L368.83,368.12 L369.28,367.96 L369.74,367.8 L370.19,367.63 L370.64,367.46 L371.09,367.29 L371.55,367.11 L372,366.93 L372.45,366.74 L372.9,366.55 L373.36,366.35 L373.81,366.15 L374.26,365.94 L374.71,365.73 L375.17,365.52 L375.62,365.29 L376.07,365.06 L376.52,364.83 L376.97,364.59 L377.43,364.35 L377.88,364.1 L378.33,363.84 L378.78,363.57 L379.24,363.3 L379.69,363.03 L380.14,362.74 L380.59,362.45 L381.05,362.15 L381.5,361.85 L381.95,361.53 L382.4,361.21 L382.86,360.88 L383.31,360.55 L383.76,360.2 L384.21,359.85 L384.66,359.49 L385.12,359.11 L385.57,358.73 L386.02,358.34 L386.47,357.94 L386.93,357.53 L387.38,357.11 L387.83,356.68 L388.28,356.24 L388.74,355.79 L389.19,355.33 L389.64,354.85 L390.09,354.37 L390.55,353.87 L391,353.36 L391.45,352.83 L391.9,352.3 L392.35,351.75 L392.81,351.19 L393.26,350.61 L393.71,350.02 L394.16,349.41 L394.62,348.79 L395.07,348.15 L395.52,347.5 L395.97,346.83 L396.43,346.15 L396.88,345.45 L397.33,344.73 L397.78,343.99 L398.24,343.24 L398.69,342.46 L399.14,341.67 L399.59,340.86 L400.04,340.02 L400.5,339.17 L400.95,338.3 L401.4,337.4 L401.85,336.48 L402.31,335.54 L402.76,334.58 L403.21,333.59 L403.66,332.57 L404.12,331.54 L404.57,330.47 L405.02,329.38 L405.47,328.27 L405.93,327.12 L406.38,325.95 L406.83,324.75 L407.28,323.52 L407.73,322.26 L408.19,320.96 L408.64,319.64 L409.09,318.28 L409.54,316.89 L410,315.46 L410.45,314 L410.9,312.5 L411.35,310.97 L411.81,309.4 L412.26,307.78 L412.71,306.13 L413.16,304.44 L413.62,302.71 L414.07,300.93 L414.52,299.11 L414.97,297.24 L415.42,295.33 L415.88,293.37 L416.33,291.36 L416.78,289.31 L417.23,287.2 L417.69,285.04 L418.14,282.82 L418.59,280.55 L419.04,278.23 L419.5,275.84 L419.95,273.4 L420.4,270.9 L420.85,268.34 L421.3,265.71 L421.76,263.01 L422.21,260.26 L422.66,257.43 L423.11,254.53 L423.57,251.56 L424.02,248.52 L424.47,245.4 L424.92,242.2 L425.38,238.93 L425.38,374.5 Z" fill="rgba(253,231,53,0.150)"/>
<path d="M353,374.5 L353,371.79 L353.45,371.72 L353.9,371.65 L354.36,371.58 L354.81,371.51 L355.26,371.44 L355.71,371.36 L356.17,371.28 L356.62,371.2 L357.07,371.12 L357.52,371.04 L357.98,370.95 L358.43,370.86 L358.88,370.77 L359.33,370.68 L359.79,370.59 L360.24,370.49 L360.69,370.39 L361.14,370.29 L361.59,370.19 L362.05,370.08 L362.5,369.97 L362.95,369.86 L363.4,369.74 L363.86,369.62 L364.31,369.5 L364.76,369.38 L365.21,369.25 L365.67,369.12 L366.12,368.99 L366.57,368.85 L367.02,368.71 L367.48,368.57 L367.93,368.42 L368.38,368.27 L368.83,368.12 L369.28,367.96 L369.74,367.8 L370.19,367.63 L370.64,367.46 L371.09,367.29 L371.55,367.11 L372,366.93 L372.45,366.74 L372.9,366.55 L373.36,366.35 L373.81,366.15 L374.26,365.94 L374.71,365.73 L375.17,365.52 L375.62,365.29 L376.07,365.06 L376.52,364.83 L376.97,364.59 L377.43,364.35 L377.88,364.1 L378.33,363.84 L378.78,363.57 L379.24,363.3 L379.69,363.03 L380.14,362.74 L380.59,362.45 L381.05,362.15 L381.5,361.85 L381.95,361.53 L382.4,361.21 L382.86,360.88 L383.31,360.55 L383.76,360.2 L384.21,359.85 L384.66,359.49 L385.12,359.11 L385.57,358.73 L386.02,358.34 L386.47,357.94 L386.93,357.53 L387.38,357.11 L387.83,356.68 L388.28,356.24 L388.74,355.79 L389.19,355.33 L389.64,354.85 L390.09,354.37 L390.55,353.87 L391,353.36 L391.45,352.83 L391.9,352.3 L392.35,351.75 L392.81,351.19 L393.26,350.61 L393.71,350.02 L394.16,349.41 L394.62,348.79 L395.07,348.15 L395.52,347.5 L395.97,346.83 L396.43,346.15 L396.88,345.45 L397.33,344.73 L397.78,343.99 L398.24,343.24 L398.69,342.46 L399.14,341.67 L399.59,340.86 L400.04,340.02 L400.5,339.17 L400.95,338.3 L401.4,337.4 L401.85,336.48 L402.31,335.54 L402.76,334.58 L403.21,333.59 L403.66,332.57 L404.12,331.54 L404.57,330.47 L405.02,329.38 L405.47,328.27 L405.93,327.12 L406.38,325.95 L406.83,324.75 L407.28,323.52 L407.73,322.26 L408.19,320.96 L408.64,319.64 L409.09,318.28 L409.54,316.89 L410,315.46 L410.45,314 L410.9,312.5 L411.35,310.97 L411.81,309.4 L412.26,307.78 L412.71,306.13 L413.16,304.44 L413.62,302.71 L414.07,300.93 L414.52,299.11 L414.97,297.24 L415.42,295.33 L415.88,293.37 L416.33,291.36 L416.78,289.31 L417.23,287.2 L417.69,285.04 L418.14,282.82 L418.59,280.55 L419.04,278.23 L419.5,275.84 L419.95,273.4 L420.4,270.9 L420.85,268.34 L421.3,265.71 L421.76,263.01 L422.21,260.26 L422.66,257.43 L423.11,254.53 L423.57,251.56 L424.02,248.52 L424.47,245.4 L424.92,242.2 L425.38,238.93 L425.38,374.5" fill="none" stroke="rgba(253,231,53,0.620)" stroke-width="1.6" stroke-linejoin="round" stroke-dasharray="5.5 2.3" stroke-dashoffset="0.4"/>
<path d="M323.22,374.5 L323.22,373.01 L323.74,372.96 L324.26,372.92 L324.78,372.88 L325.31,372.83 L325.83,372.78 L326.35,372.73 L326.87,372.68 L327.39,372.63 L327.91,372.58 L328.43,372.52 L328.95,372.47 L329.47,372.41 L329.99,372.35 L330.51,372.29 L331.03,372.22 L331.55,372.16 L332.07,372.09 L332.59,372.02 L333.11,371.95 L333.63,371.88 L334.15,371.81 L334.67,371.73 L335.19,371.65 L335.71,371.57 L336.23,371.48 L336.75,371.4 L337.27,371.31 L337.79,371.22 L338.31,371.13 L338.83,371.03 L339.35,370.93 L339.87,370.83 L340.39,370.72 L340.91,370.62 L341.43,370.51 L341.96,370.39 L342.48,370.27 L343,370.15 L343.52,370.03 L344.04,369.9 L344.56,369.77 L345.08,369.64 L345.6,369.5 L346.12,369.35 L346.64,369.21 L347.16,369.06 L347.68,368.9 L348.2,368.74 L348.72,368.58 L349.24,368.41 L349.76,368.24 L350.28,368.06 L350.8,367.87 L351.32,367.68 L351.84,367.49 L352.36,367.29 L352.88,367.08 L353.4,366.87 L353.92,366.65 L354.44,366.43 L354.96,366.2 L355.48,365.96 L356,365.72 L356.52,365.47 L357.04,365.21 L357.56,364.95 L358.09,364.67 L358.61,364.39 L359.13,364.11 L359.65,363.81 L360.17,363.5 L360.69,363.19 L361.21,362.87 L361.73,362.54 L362.25,362.2 L362.77,361.84 L363.29,361.48 L363.81,361.11 L364.33,360.73 L364.85,360.34 L365.37,359.93 L365.89,359.52 L366.41,359.09 L366.93,358.65 L367.45,358.2 L367.97,357.73 L368.49,357.26 L369.01,356.76 L369.53,356.26 L370.05,355.74 L370.57,355.2 L371.09,354.65 L371.61,354.09 L372.13,353.5 L372.65,352.91 L373.17,352.29 L373.69,351.66 L374.21,351.01 L374.74,350.33 L375.26,349.65 L375.78,348.94 L376.3,348.21 L376.82,347.46 L377.34,346.69 L377.86,345.89 L378.38,345.08 L378.9,344.24 L379.42,343.37 L379.94,342.49 L380.46,341.57 L380.98,340.63 L381.5,339.67 L382.02,338.68 L382.54,337.65 L383.06,336.6 L383.58,335.52 L384.1,334.41 L384.62,333.27 L385.14,332.09 L385.66,330.88 L386.18,329.64 L386.7,328.36 L387.22,327.04 L387.74,325.69 L388.26,324.29 L388.78,322.86 L389.3,321.39 L389.82,319.87 L390.34,318.32 L390.87,316.71 L391.39,315.07 L391.91,313.37 L392.43,311.63 L392.95,309.83 L393.47,307.99 L393.99,306.09 L394.51,304.14 L395.03,302.13 L395.55,300.07 L396.07,297.95 L396.59,295.76 L397.11,293.52 L397.63,291.21 L398.15,288.83 L398.67,286.39 L399.19,283.88 L399.71,281.29 L400.23,278.63 L400.75,275.9 L401.27,273.08 L401.79,270.19 L402.31,267.22 L402.83,264.16 L403.35,261.01 L403.87,257.77 L404.39,254.44 L404.91,251.02 L405.43,247.5 L405.95,243.87 L406.47,240.15 L406.47,374.5 Z" fill="rgba(140,212,73,0.300)"/>
<path d="M323.22,374.5 L323.22,373.01 L323.74,372.96 L324.26,372.92 L324.78,372.88 L325.31,372.83 L325.83,372.78 L326.35,372.73 L326.87,372.68 L327.39,372.63 L327.91,372.58 L328.43,372.52 L328.95,372.47 L329.47,372.41 L329.99,372.35 L330.51,372.29 L331.03,372.22 L331.55,372.16 L332.07,372.09 L332.59,372.02 L333.11,371.95 L333.63,371.88 L334.15,371.81 L334.67,371.73 L335.19,371.65 L335.71,371.57 L336.23,371.48 L336.75,371.4 L337.27,371.31 L337.79,371.22 L338.31,371.13 L338.83,371.03 L339.35,370.93 L339.87,370.83 L340.39,370.72 L340.91,370.62 L341.43,370.51 L341.96,370.39 L342.48,370.27 L343,370.15 L343.52,370.03 L344.04,369.9 L344.56,369.77 L345.08,369.64 L345.6,369.5 L346.12,369.35 L346.64,369.21 L347.16,369.06 L347.68,368.9 L348.2,368.74 L348.72,368.58 L349.24,368.41 L349.76,368.24 L350.28,368.06 L350.8,367.87 L351.32,367.68 L351.84,367.49 L352.36,367.29 L352.88,367.08 L353.4,366.87 L353.92,366.65 L354.44,366.43 L354.96,366.2 L355.48,365.96 L356,365.72 L356.52,365.47 L357.04,365.21 L357.56,364.95 L358.09,364.67 L358.61,364.39 L359.13,364.11 L359.65,363.81 L360.17,363.5 L360.69,363.19 L361.21,362.87 L361.73,362.54 L362.25,362.2 L362.77,361.84 L363.29,361.48 L363.81,361.11 L364.33,360.73 L364.85,360.34 L365.37,359.93 L365.89,359.52 L366.41,359.09 L366.93,358.65 L367.45,358.2 L367.97,357.73 L368.49,357.26 L369.01,356.76 L369.53,356.26 L370.05,355.74 L370.57,355.2 L371.09,354.65 L371.61,354.09 L372.13,353.5 L372.65,352.91 L373.17,352.29 L373.69,351.66 L374.21,351.01 L374.74,350.33 L375.26,349.65 L375.78,348.94 L376.3,348.21 L376.82,347.46 L377.34,346.69 L377.86,345.89 L378.38,345.08 L378.9,344.24 L379.42,343.37 L379.94,342.49 L380.46,341.57 L380.98,340.63 L381.5,339.67 L382.02,338.68 L382.54,337.65 L383.06,336.6 L383.58,335.52 L384.1,334.41 L384.62,333.27 L385.14,332.09 L385.66,330.88 L386.18,329.64 L386.7,328.36 L387.22,327.04 L387.74,325.69 L388.26,324.29 L388.78,322.86 L389.3,321.39 L389.82,319.87 L390.34,318.32 L390.87,316.71 L391.39,315.07 L391.91,313.37 L392.43,311.63 L392.95,309.83 L393.47,307.99 L393.99,306.09 L394.51,304.14 L395.03,302.13 L395.55,300.07 L396.07,297.95 L396.59,295.76 L397.11,293.52 L397.63,291.21 L398.15,288.83 L398.67,286.39 L399.19,283.88 L399.71,281.29 L400.23,278.63 L400.75,275.9 L401.27,273.08 L401.79,270.19 L402.31,267.22 L402.83,264.16 L403.35,261.01 L403.87,257.77 L404.39,254.44 L404.91,251.02 L405.43,247.5 L405.95,243.87 L406.47,240.15 L406.47,374.5" fill="none" stroke="rgba(140,212,73,1.000)" stroke-width="1.65" stroke-linejoin="round"/>
<path d="M323.22,374.5 L323.22,366.67 L323.74,366.56 L324.26,366.45 L324.78,366.34 L325.31,366.22 L325.83,366.1 L326.35,365.98 L326.87,365.86 L327.39,365.74 L327.91,365.62 L328.43,365.49 L328.95,365.36 L329.47,365.23 L329.99,365.1 L330.51,364.97 L331.03,364.83 L331.55,364.7 L332.07,364.56 L332.59,364.42 L333.11,364.28 L333.63,364.13 L334.15,363.98 L334.67,363.83 L335.19,363.68 L335.71,363.53 L336.23,363.38 L336.75,363.22 L337.27,363.06 L337.79,362.9 L338.31,362.73 L338.83,362.56 L339.35,362.4 L339.87,362.22 L340.39,362.05 L340.91,361.87 L341.43,361.7 L341.96,361.51 L342.48,361.33 L343,361.14 L343.52,360.95 L344.04,360.76 L344.56,360.57 L345.08,360.37 L345.6,360.17 L346.12,359.97 L346.64,359.76 L347.16,359.55 L347.68,359.34 L348.2,359.13 L348.72,358.91 L349.24,358.69 L349.76,358.46 L350.28,358.24 L350.8,358.01 L351.32,357.77 L351.84,357.54 L352.36,357.3 L352.88,357.05 L353.4,356.81 L353.92,356.56 L354.44,356.3 L354.96,356.04 L355.48,355.78 L356,355.52 L356.52,355.25 L357.04,354.98 L357.56,354.7 L358.09,354.42 L358.61,354.13 L359.13,353.85 L359.65,353.55 L360.17,353.26 L360.69,352.96 L361.21,352.65 L361.73,352.34 L362.25,352.03 L362.77,351.71 L363.29,351.39 L363.81,351.06 L364.33,350.73 L364.85,350.39 L365.37,350.05 L365.89,349.7 L366.41,349.35 L366.93,349 L367.45,348.64 L367.97,348.27 L368.49,347.9 L369.01,347.52 L369.53,347.14 L370.05,346.75 L370.57,346.36 L371.09,345.96 L371.61,345.56 L372.13,345.15 L372.65,344.73 L373.17,344.31 L373.69,343.88 L374.21,343.45 L374.74,343.01 L375.26,342.56 L375.78,342.11 L376.3,341.65 L376.82,341.19 L377.34,340.71 L377.86,340.23 L378.38,339.75 L378.9,339.26 L379.42,338.76 L379.94,338.25 L380.46,337.74 L380.98,337.22 L381.5,336.69 L382.02,336.16 L382.54,335.61 L383.06,335.06 L383.58,334.5 L384.1,333.94 L384.62,333.36 L385.14,332.78 L385.66,332.19 L386.18,331.59 L386.7,330.98 L387.22,330.37 L387.74,329.74 L388.26,329.11 L388.78,328.46 L389.3,327.81 L389.82,327.15 L390.34,326.48 L390.87,325.8 L391.39,325.11 L391.91,324.41 L392.43,323.7 L392.95,322.98 L393.47,322.25 L393.99,321.51 L394.51,320.76 L395.03,320 L395.55,319.23 L396.07,318.45 L396.59,317.65 L397.11,316.85 L397.63,316.03 L398.15,315.2 L398.67,314.36 L399.19,313.51 L399.71,312.65 L400.23,311.77 L400.75,310.88 L401.27,309.98 L401.79,309.07 L402.31,308.14 L402.83,307.2 L403.35,306.25 L403.87,305.28 L404.39,304.3 L404.91,303.31 L405.43,302.3 L405.95,301.28 L406.47,300.24 L406.47,374.5 Z" fill="rgba(60,184,120,0.300)"/>
<path d="M323.22,374.5 L323.22,366.67 L323.74,366.56 L324.26,366.45 L324.78,366.34 L325.31,366.22 L325.83,366.1 L326.35,365.98 L326.87,365.86 L327.39,365.74 L327.91,365.62 L328.43,365.49 L328.95,365.36 L329.47,365.23 L329.99,365.1 L330.51,364.97 L331.03,364.83 L331.55,364.7 L332.07,364.56 L332.59,364.42 L333.11,364.28 L333.63,364.13 L334.15,363.98 L334.67,363.83 L335.19,363.68 L335.71,363.53 L336.23,363.38 L336.75,363.22 L337.27,363.06 L337.79,362.9 L338.31,362.73 L338.83,362.56 L339.35,362.4 L339.87,362.22 L340.39,362.05 L340.91,361.87 L341.43,361.7 L341.96,361.51 L342.48,361.33 L343,361.14 L343.52,360.95 L344.04,360.76 L344.56,360.57 L345.08,360.37 L345.6,360.17 L346.12,359.97 L346.64,359.76 L347.16,359.55 L347.68,359.34 L348.2,359.13 L348.72,358.91 L349.24,358.69 L349.76,358.46 L350.28,358.24 L350.8,358.01 L351.32,357.77 L351.84,357.54 L352.36,357.3 L352.88,357.05 L353.4,356.81 L353.92,356.56 L354.44,356.3 L354.96,356.04 L355.48,355.78 L356,355.52 L356.52,355.25 L357.04,354.98 L357.56,354.7 L358.09,354.42 L358.61,354.13 L359.13,353.85 L359.65,353.55 L360.17,353.26 L360.69,352.96 L361.21,352.65 L361.73,352.34 L362.25,352.03 L362.77,351.71 L363.29,351.39 L363.81,351.06 L364.33,350.73 L364.85,350.39 L365.37,350.05 L365.89,349.7 L366.41,349.35 L366.93,349 L367.45,348.64 L367.97,348.27 L368.49,347.9 L369.01,347.52 L369.53,347.14 L370.05,346.75 L370.57,346.36 L371.09,345.96 L371.61,345.56 L372.13,345.15 L372.65,344.73 L373.17,344.31 L373.69,343.88 L374.21,343.45 L374.74,343.01 L375.26,342.56 L375.78,342.11 L376.3,341.65 L376.82,341.19 L377.34,340.71 L377.86,340.23 L378.38,339.75 L378.9,339.26 L379.42,338.76 L379.94,338.25 L380.46,337.74 L380.98,337.22 L381.5,336.69 L382.02,336.16 L382.54,335.61 L383.06,335.06 L383.58,334.5 L384.1,333.94 L384.62,333.36 L385.14,332.78 L385.66,332.19 L386.18,331.59 L386.7,330.98 L387.22,330.37 L387.74,329.74 L388.26,329.11 L388.78,328.46 L389.3,327.81 L389.82,327.15 L390.34,326.48 L390.87,325.8 L391.39,325.11 L391.91,324.41 L392.43,323.7 L392.95,322.98 L393.47,322.25 L393.99,321.51 L394.51,320.76 L395.03,320 L395.55,319.23 L396.07,318.45 L396.59,317.65 L397.11,316.85 L397.63,316.03 L398.15,315.2 L398.67,314.36 L399.19,313.51 L399.71,312.65 L400.23,311.77 L400.75,310.88 L401.27,309.98 L401.79,309.07 L402.31,308.14 L402.83,307.2 L403.35,306.25 L403.87,305.28 L404.39,304.3 L404.91,303.31 L405.43,302.3 L405.95,301.28 L406.47,300.24 L406.47,374.5" fill="none" stroke="rgba(60,184,120,1.000)" stroke-width="1.65" stroke-linejoin="round"/>
<path d="M323.22,374.5 L323.22,344.97 L323.74,344.97 L324.26,344.97 L324.78,344.97 L325.31,344.97 L325.83,344.97 L326.35,344.97 L326.87,344.97 L327.39,344.97 L327.91,344.97 L328.43,344.97 L328.95,344.97 L329.47,344.97 L329.99,344.97 L330.51,344.97 L331.03,344.97 L331.55,344.97 L332.07,344.97 L332.59,344.97 L333.11,344.97 L333.63,344.97 L334.15,344.97 L334.67,344.97 L335.19,344.97 L335.71,344.97 L336.23,344.97 L336.75,344.97 L337.27,344.97 L337.79,344.97 L338.31,344.97 L338.83,344.97 L339.35,344.97 L339.87,344.97 L340.39,344.97 L340.91,344.97 L341.43,344.97 L341.96,344.97 L342.48,344.97 L343,344.97 L343.52,344.97 L344.04,344.97 L344.56,344.97 L345.08,344.97 L345.6,344.97 L346.12,344.97 L346.64,344.97 L347.16,344.97 L347.68,344.97 L348.2,344.97 L348.72,344.97 L349.24,344.97 L349.76,344.97 L350.28,344.97 L350.8,344.97 L351.32,344.97 L351.84,344.97 L352.36,344.97 L352.88,344.97 L353.4,344.97 L353.92,344.97 L354.44,344.97 L354.96,344.97 L355.48,344.97 L356,344.97 L356.52,344.97 L357.04,344.97 L357.56,344.97 L358.09,344.97 L358.61,344.97 L359.13,344.97 L359.65,344.97 L360.17,344.97 L360.69,344.97 L361.21,344.97 L361.73,344.97 L362.25,344.97 L362.77,344.97 L363.29,344.97 L363.81,344.97 L364.33,344.97 L364.85,344.97 L365.37,344.97 L365.89,344.97 L366.41,344.97 L366.93,344.97 L367.45,344.97 L367.97,344.97 L368.49,344.97 L369.01,344.97 L369.53,344.97 L370.05,344.97 L370.57,344.97 L371.09,344.97 L371.61,344.97 L372.13,344.97 L372.65,344.97 L373.17,344.97 L373.69,344.97 L374.21,344.97 L374.74,344.97 L375.26,344.97 L375.78,344.97 L376.3,344.97 L376.82,344.97 L377.34,344.97 L377.86,344.97 L378.38,344.97 L378.9,344.97 L379.42,344.97 L379.94,344.97 L380.46,344.97 L380.98,344.97 L381.5,344.97 L382.02,344.97 L382.54,344.97 L383.06,344.97 L383.58,344.97 L384.1,344.97 L384.62,344.97 L385.14,344.97 L385.66,344.97 L386.18,344.97 L386.7,344.97 L387.22,344.97 L387.74,344.97 L388.26,344.97 L388.78,344.97 L389.3,344.97 L389.82,344.97 L390.34,344.97 L390.87,344.97 L391.39,344.97 L391.91,344.97 L392.43,344.97 L392.95,344.97 L393.47,344.97 L393.99,344.97 L394.51,344.97 L395.03,344.97 L395.55,344.97 L396.07,344.97 L396.59,344.97 L397.11,344.97 L397.63,344.97 L398.15,344.97 L398.67,344.97 L399.19,344.97 L399.71,344.97 L400.23,344.97 L400.75,344.97 L401.27,344.97 L401.79,344.97 L402.31,344.97 L402.83,344.97 L403.35,344.97 L403.87,344.97 L404.39,344.97 L404.91,344.97 L405.43,344.97 L405.95,344.97 L406.47,344.97 L406.47,374.5 Z" fill="rgba(42,150,146,0.300)"/>
<path d="M323.22,374.5 L323.22,344.97 L323.74,344.97 L324.26,344.97 L324.78,344.97 L325.31,344.97 L325.83,344.97 L326.35,344.97 L326.87,344.97 L327.39,344.97 L327.91,344.97 L328.43,344.97 L328.95,344.97 L329.47,344.97 L329.99,344.97 L330.51,344.97 L331.03,344.97 L331.55,344.97 L332.07,344.97 L332.59,344.97 L333.11,344.97 L333.63,344.97 L334.15,344.97 L334.67,344.97 L335.19,344.97 L335.71,344.97 L336.23,344.97 L336.75,344.97 L337.27,344.97 L337.79,344.97 L338.31,344.97 L338.83,344.97 L339.35,344.97 L339.87,344.97 L340.39,344.97 L340.91,344.97 L341.43,344.97 L341.96,344.97 L342.48,344.97 L343,344.97 L343.52,344.97 L344.04,344.97 L344.56,344.97 L345.08,344.97 L345.6,344.97 L346.12,344.97 L346.64,344.97 L347.16,344.97 L347.68,344.97 L348.2,344.97 L348.72,344.97 L349.24,344.97 L349.76,344.97 L350.28,344.97 L350.8,344.97 L351.32,344.97 L351.84,344.97 L352.36,344.97 L352.88,344.97 L353.4,344.97 L353.92,344.97 L354.44,344.97 L354.96,344.97 L355.48,344.97 L356,344.97 L356.52,344.97 L357.04,344.97 L357.56,344.97 L358.09,344.97 L358.61,344.97 L359.13,344.97 L359.65,344.97 L360.17,344.97 L360.69,344.97 L361.21,344.97 L361.73,344.97 L362.25,344.97 L362.77,344.97 L363.29,344.97 L363.81,344.97 L364.33,344.97 L364.85,344.97 L365.37,344.97 L365.89,344.97 L366.41,344.97 L366.93,344.97 L367.45,344.97 L367.97,344.97 L368.49,344.97 L369.01,344.97 L369.53,344.97 L370.05,344.97 L370.57,344.97 L371.09,344.97 L371.61,344.97 L372.13,344.97 L372.65,344.97 L373.17,344.97 L373.69,344.97 L374.21,344.97 L374.74,344.97 L375.26,344.97 L375.78,344.97 L376.3,344.97 L376.82,344.97 L377.34,344.97 L377.86,344.97 L378.38,344.97 L378.9,344.97 L379.42,344.97 L379.94,344.97 L380.46,344.97 L380.98,344.97 L381.5,344.97 L382.02,344.97 L382.54,344.97 L383.06,344.97 L383.58,344.97 L384.1,344.97 L384.62,344.97 L385.14,344.97 L385.66,344.97 L386.18,344.97 L386.7,344.97 L387.22,344.97 L387.74,344.97 L388.26,344.97 L388.78,344.97 L389.3,344.97 L389.82,344.97 L390.34,344.97 L390.87,344.97 L391.39,344.97 L391.91,344.97 L392.43,344.97 L392.95,344.97 L393.47,344.97 L393.99,344.97 L394.51,344.97 L395.03,344.97 L395.55,344.97 L396.07,344.97 L396.59,344.97 L397.11,344.97 L397.63,344.97 L398.15,344.97 L398.67,344.97 L399.19,344.97 L399.71,344.97 L400.23,344.97 L400.75,344.97 L401.27,344.97 L401.79,344.97 L402.31,344.97 L402.83,344.97 L403.35,344.97 L403.87,344.97 L404.39,344.97 L404.91,344.97 L405.43,344.97 L405.95,344.97 L406.47,344.97 L406.47,374.5" fill="none" stroke="rgba(42,150,146,1.000)" stroke-width="1.65" stroke-linejoin="round"/>
</g>
<g clip-path="url(#cp21)">
<path d="M473.77,374.5 L473.77,240.15 L474.29,243.87 L474.81,247.5 L475.33,251.02 L475.86,254.44 L476.38,257.77 L476.9,261.01 L477.42,264.16 L477.94,267.22 L478.46,270.19 L478.98,273.08 L479.5,275.9 L480.02,278.63 L480.54,281.29 L481.06,283.88 L481.58,286.39 L482.1,288.83 L482.62,291.21 L483.14,293.52 L483.66,295.76 L484.18,297.95 L484.7,300.07 L485.22,302.13 L485.74,304.14 L486.26,306.09 L486.78,307.99 L487.3,309.83 L487.82,311.63 L488.34,313.37 L488.86,315.07 L489.38,316.71 L489.9,318.32 L490.42,319.87 L490.94,321.39 L491.46,322.86 L491.98,324.29 L492.51,325.69 L493.03,327.04 L493.55,328.36 L494.07,329.64 L494.59,330.88 L495.11,332.09 L495.63,333.27 L496.15,334.41 L496.67,335.52 L497.19,336.6 L497.71,337.65 L498.23,338.68 L498.75,339.67 L499.27,340.63 L499.79,341.57 L500.31,342.49 L500.83,343.37 L501.35,344.24 L501.87,345.08 L502.39,345.89 L502.91,346.69 L503.43,347.46 L503.95,348.21 L504.47,348.94 L504.99,349.65 L505.51,350.33 L506.03,351.01 L506.55,351.66 L507.07,352.29 L507.59,352.91 L508.11,353.5 L508.64,354.09 L509.16,354.65 L509.68,355.2 L510.2,355.74 L510.72,356.26 L511.24,356.76 L511.76,357.26 L512.28,357.73 L512.8,358.2 L513.32,358.65 L513.84,359.09 L514.36,359.52 L514.88,359.93 L515.4,360.34 L515.92,360.73 L516.44,361.11 L516.96,361.48 L517.48,361.84 L518,362.2 L518.52,362.54 L519.04,362.87 L519.56,363.19 L520.08,363.5 L520.6,363.81 L521.12,364.11 L521.64,364.39 L522.16,364.67 L522.68,364.95 L523.2,365.21 L523.72,365.47 L524.24,365.72 L524.76,365.96 L525.29,366.2 L525.81,366.43 L526.33,366.65 L526.85,366.87 L527.37,367.08 L527.89,367.29 L528.41,367.49 L528.93,367.68 L529.45,367.87 L529.97,368.06 L530.49,368.24 L531.01,368.41 L531.53,368.58 L532.05,368.74 L532.57,368.9 L533.09,369.06 L533.61,369.21 L534.13,369.35 L534.65,369.5 L535.17,369.64 L535.69,369.77 L536.21,369.9 L536.73,370.03 L537.25,370.15 L537.77,370.27 L538.29,370.39 L538.81,370.51 L539.33,370.62 L539.85,370.72 L540.37,370.83 L540.89,370.93 L541.42,371.03 L541.94,371.13 L542.46,371.22 L542.98,371.31 L543.5,371.4 L544.02,371.48 L544.54,371.57 L545.06,371.65 L545.58,371.73 L546.1,371.81 L546.62,371.88 L547.14,371.95 L547.66,372.02 L548.18,372.09 L548.7,372.16 L549.22,372.22 L549.74,372.29 L550.26,372.35 L550.78,372.41 L551.3,372.47 L551.82,372.52 L552.34,372.58 L552.86,372.63 L553.38,372.68 L553.9,372.73 L554.42,372.78 L554.94,372.83 L555.46,372.88 L555.98,372.92 L556.5,372.96 L557.02,373.01 L557.02,374.5 Z" fill="rgba(50,104,154,0.070)"/>
<path d="M473.77,374.5 L473.77,240.15 L474.29,243.87 L474.81,247.5 L475.33,251.02 L475.86,254.44 L476.38,257.77 L476.9,261.01 L477.42,264.16 L477.94,267.22 L478.46,270.19 L478.98,273.08 L479.5,275.9 L480.02,278.63 L480.54,281.29 L481.06,283.88 L481.58,286.39 L482.1,288.83 L482.62,291.21 L483.14,293.52 L483.66,295.76 L484.18,297.95 L484.7,300.07 L485.22,302.13 L485.74,304.14 L486.26,306.09 L486.78,307.99 L487.3,309.83 L487.82,311.63 L488.34,313.37 L488.86,315.07 L489.38,316.71 L489.9,318.32 L490.42,319.87 L490.94,321.39 L491.46,322.86 L491.98,324.29 L492.51,325.69 L493.03,327.04 L493.55,328.36 L494.07,329.64 L494.59,330.88 L495.11,332.09 L495.63,333.27 L496.15,334.41 L496.67,335.52 L497.19,336.6 L497.71,337.65 L498.23,338.68 L498.75,339.67 L499.27,340.63 L499.79,341.57 L500.31,342.49 L500.83,343.37 L501.35,344.24 L501.87,345.08 L502.39,345.89 L502.91,346.69 L503.43,347.46 L503.95,348.21 L504.47,348.94 L504.99,349.65 L505.51,350.33 L506.03,351.01 L506.55,351.66 L507.07,352.29 L507.59,352.91 L508.11,353.5 L508.64,354.09 L509.16,354.65 L509.68,355.2 L510.2,355.74 L510.72,356.26 L511.24,356.76 L511.76,357.26 L512.28,357.73 L512.8,358.2 L513.32,358.65 L513.84,359.09 L514.36,359.52 L514.88,359.93 L515.4,360.34 L515.92,360.73 L516.44,361.11 L516.96,361.48 L517.48,361.84 L518,362.2 L518.52,362.54 L519.04,362.87 L519.56,363.19 L520.08,363.5 L520.6,363.81 L521.12,364.11 L521.64,364.39 L522.16,364.67 L522.68,364.95 L523.2,365.21 L523.72,365.47 L524.24,365.72 L524.76,365.96 L525.29,366.2 L525.81,366.43 L526.33,366.65 L526.85,366.87 L527.37,367.08 L527.89,367.29 L528.41,367.49 L528.93,367.68 L529.45,367.87 L529.97,368.06 L530.49,368.24 L531.01,368.41 L531.53,368.58 L532.05,368.74 L532.57,368.9 L533.09,369.06 L533.61,369.21 L534.13,369.35 L534.65,369.5 L535.17,369.64 L535.69,369.77 L536.21,369.9 L536.73,370.03 L537.25,370.15 L537.77,370.27 L538.29,370.39 L538.81,370.51 L539.33,370.62 L539.85,370.72 L540.37,370.83 L540.89,370.93 L541.42,371.03 L541.94,371.13 L542.46,371.22 L542.98,371.31 L543.5,371.4 L544.02,371.48 L544.54,371.57 L545.06,371.65 L545.58,371.73 L546.1,371.81 L546.62,371.88 L547.14,371.95 L547.66,372.02 L548.18,372.09 L548.7,372.16 L549.22,372.22 L549.74,372.29 L550.26,372.35 L550.78,372.41 L551.3,372.47 L551.82,372.52 L552.34,372.58 L552.86,372.63 L553.38,372.68 L553.9,372.73 L554.42,372.78 L554.94,372.83 L555.46,372.88 L555.98,372.92 L556.5,372.96 L557.02,373.01 L557.02,374.5" fill="none" stroke="rgba(50,104,154,0.300)" stroke-width="1.6" stroke-linejoin="round" stroke-dasharray="9.7 2.5 1.2 2.4" stroke-dashoffset="1.0"/>
<path d="M473.77,374.5 L473.77,373.01 L474.29,372.96 L474.81,372.92 L475.33,372.88 L475.86,372.83 L476.38,372.78 L476.9,372.73 L477.42,372.68 L477.94,372.63 L478.46,372.58 L478.98,372.52 L479.5,372.47 L480.02,372.41 L480.54,372.35 L481.06,372.29 L481.58,372.22 L482.1,372.16 L482.62,372.09 L483.14,372.02 L483.66,371.95 L484.18,371.88 L484.7,371.81 L485.22,371.73 L485.74,371.65 L486.26,371.57 L486.78,371.48 L487.3,371.4 L487.82,371.31 L488.34,371.22 L488.86,371.13 L489.38,371.03 L489.9,370.93 L490.42,370.83 L490.94,370.72 L491.46,370.62 L491.98,370.51 L492.51,370.39 L493.03,370.27 L493.55,370.15 L494.07,370.03 L494.59,369.9 L495.11,369.77 L495.63,369.64 L496.15,369.5 L496.67,369.35 L497.19,369.21 L497.71,369.06 L498.23,368.9 L498.75,368.74 L499.27,368.58 L499.79,368.41 L500.31,368.24 L500.83,368.06 L501.35,367.87 L501.87,367.68 L502.39,367.49 L502.91,367.29 L503.43,367.08 L503.95,366.87 L504.47,366.65 L504.99,366.43 L505.51,366.2 L506.03,365.96 L506.55,365.72 L507.07,365.47 L507.59,365.21 L508.11,364.95 L508.64,364.67 L509.16,364.39 L509.68,364.11 L510.2,363.81 L510.72,363.5 L511.24,363.19 L511.76,362.87 L512.28,362.54 L512.8,362.2 L513.32,361.84 L513.84,361.48 L514.36,361.11 L514.88,360.73 L515.4,360.34 L515.92,359.93 L516.44,359.52 L516.96,359.09 L517.48,358.65 L518,358.2 L518.52,357.73 L519.04,357.26 L519.56,356.76 L520.08,356.26 L520.6,355.74 L521.12,355.2 L521.64,354.65 L522.16,354.09 L522.68,353.5 L523.2,352.91 L523.72,352.29 L524.24,351.66 L524.76,351.01 L525.29,350.33 L525.81,349.65 L526.33,348.94 L526.85,348.21 L527.37,347.46 L527.89,346.69 L528.41,345.89 L528.93,345.08 L529.45,344.24 L529.97,343.37 L530.49,342.49 L531.01,341.57 L531.53,340.63 L532.05,339.67 L532.57,338.68 L533.09,337.65 L533.61,336.6 L534.13,335.52 L534.65,334.41 L535.17,333.27 L535.69,332.09 L536.21,330.88 L536.73,329.64 L537.25,328.36 L537.77,327.04 L538.29,325.69 L538.81,324.29 L539.33,322.86 L539.85,321.39 L540.37,319.87 L540.89,318.32 L541.42,316.71 L541.94,315.07 L542.46,313.37 L542.98,311.63 L543.5,309.83 L544.02,307.99 L544.54,306.09 L545.06,304.14 L545.58,302.13 L546.1,300.07 L546.62,297.95 L547.14,295.76 L547.66,293.52 L548.18,291.21 L548.7,288.83 L549.22,286.39 L549.74,283.88 L550.26,281.29 L550.78,278.63 L551.3,275.9 L551.82,273.08 L552.34,270.19 L552.86,267.22 L553.38,264.16 L553.9,261.01 L554.42,257.77 L554.94,254.44 L555.46,251.02 L555.98,247.5 L556.5,243.87 L557.02,240.15 L557.02,374.5 Z" fill="rgba(140,212,73,0.070)"/>
<path d="M473.77,374.5 L473.77,373.01 L474.29,372.96 L474.81,372.92 L475.33,372.88 L475.86,372.83 L476.38,372.78 L476.9,372.73 L477.42,372.68 L477.94,372.63 L478.46,372.58 L478.98,372.52 L479.5,372.47 L480.02,372.41 L480.54,372.35 L481.06,372.29 L481.58,372.22 L482.1,372.16 L482.62,372.09 L483.14,372.02 L483.66,371.95 L484.18,371.88 L484.7,371.81 L485.22,371.73 L485.74,371.65 L486.26,371.57 L486.78,371.48 L487.3,371.4 L487.82,371.31 L488.34,371.22 L488.86,371.13 L489.38,371.03 L489.9,370.93 L490.42,370.83 L490.94,370.72 L491.46,370.62 L491.98,370.51 L492.51,370.39 L493.03,370.27 L493.55,370.15 L494.07,370.03 L494.59,369.9 L495.11,369.77 L495.63,369.64 L496.15,369.5 L496.67,369.35 L497.19,369.21 L497.71,369.06 L498.23,368.9 L498.75,368.74 L499.27,368.58 L499.79,368.41 L500.31,368.24 L500.83,368.06 L501.35,367.87 L501.87,367.68 L502.39,367.49 L502.91,367.29 L503.43,367.08 L503.95,366.87 L504.47,366.65 L504.99,366.43 L505.51,366.2 L506.03,365.96 L506.55,365.72 L507.07,365.47 L507.59,365.21 L508.11,364.95 L508.64,364.67 L509.16,364.39 L509.68,364.11 L510.2,363.81 L510.72,363.5 L511.24,363.19 L511.76,362.87 L512.28,362.54 L512.8,362.2 L513.32,361.84 L513.84,361.48 L514.36,361.11 L514.88,360.73 L515.4,360.34 L515.92,359.93 L516.44,359.52 L516.96,359.09 L517.48,358.65 L518,358.2 L518.52,357.73 L519.04,357.26 L519.56,356.76 L520.08,356.26 L520.6,355.74 L521.12,355.2 L521.64,354.65 L522.16,354.09 L522.68,353.5 L523.2,352.91 L523.72,352.29 L524.24,351.66 L524.76,351.01 L525.29,350.33 L525.81,349.65 L526.33,348.94 L526.85,348.21 L527.37,347.46 L527.89,346.69 L528.41,345.89 L528.93,345.08 L529.45,344.24 L529.97,343.37 L530.49,342.49 L531.01,341.57 L531.53,340.63 L532.05,339.67 L532.57,338.68 L533.09,337.65 L533.61,336.6 L534.13,335.52 L534.65,334.41 L535.17,333.27 L535.69,332.09 L536.21,330.88 L536.73,329.64 L537.25,328.36 L537.77,327.04 L538.29,325.69 L538.81,324.29 L539.33,322.86 L539.85,321.39 L540.37,319.87 L540.89,318.32 L541.42,316.71 L541.94,315.07 L542.46,313.37 L542.98,311.63 L543.5,309.83 L544.02,307.99 L544.54,306.09 L545.06,304.14 L545.58,302.13 L546.1,300.07 L546.62,297.95 L547.14,295.76 L547.66,293.52 L548.18,291.21 L548.7,288.83 L549.22,286.39 L549.74,283.88 L550.26,281.29 L550.78,278.63 L551.3,275.9 L551.82,273.08 L552.34,270.19 L552.86,267.22 L553.38,264.16 L553.9,261.01 L554.42,257.77 L554.94,254.44 L555.46,251.02 L555.98,247.5 L556.5,243.87 L557.02,240.15 L557.02,374.5" fill="none" stroke="rgba(140,212,73,0.300)" stroke-width="1.6" stroke-linejoin="round" stroke-dasharray="9.7 2.5 1.2 2.4" stroke-dashoffset="1.0"/>
<path d="M473.77,374.5 L473.77,366.67 L474.29,366.56 L474.81,366.45 L475.33,366.34 L475.86,366.22 L476.38,366.1 L476.9,365.98 L477.42,365.86 L477.94,365.74 L478.46,365.62 L478.98,365.49 L479.5,365.36 L480.02,365.23 L480.54,365.1 L481.06,364.97 L481.58,364.83 L482.1,364.7 L482.62,364.56 L483.14,364.42 L483.66,364.28 L484.18,364.13 L484.7,363.98 L485.22,363.83 L485.74,363.68 L486.26,363.53 L486.78,363.38 L487.3,363.22 L487.82,363.06 L488.34,362.9 L488.86,362.73 L489.38,362.56 L489.9,362.4 L490.42,362.22 L490.94,362.05 L491.46,361.87 L491.98,361.7 L492.51,361.51 L493.03,361.33 L493.55,361.14 L494.07,360.95 L494.59,360.76 L495.11,360.57 L495.63,360.37 L496.15,360.17 L496.67,359.97 L497.19,359.76 L497.71,359.55 L498.23,359.34 L498.75,359.13 L499.27,358.91 L499.79,358.69 L500.31,358.46 L500.83,358.24 L501.35,358.01 L501.87,357.77 L502.39,357.54 L502.91,357.3 L503.43,357.05 L503.95,356.81 L504.47,356.56 L504.99,356.3 L505.51,356.04 L506.03,355.78 L506.55,355.52 L507.07,355.25 L507.59,354.98 L508.11,354.7 L508.64,354.42 L509.16,354.13 L509.68,353.85 L510.2,353.55 L510.72,353.26 L511.24,352.96 L511.76,352.65 L512.28,352.34 L512.8,352.03 L513.32,351.71 L513.84,351.39 L514.36,351.06 L514.88,350.73 L515.4,350.39 L515.92,350.05 L516.44,349.7 L516.96,349.35 L517.48,349 L518,348.64 L518.52,348.27 L519.04,347.9 L519.56,347.52 L520.08,347.14 L520.6,346.75 L521.12,346.36 L521.64,345.96 L522.16,345.56 L522.68,345.15 L523.2,344.73 L523.72,344.31 L524.24,343.88 L524.76,343.45 L525.29,343.01 L525.81,342.56 L526.33,342.11 L526.85,341.65 L527.37,341.19 L527.89,340.71 L528.41,340.23 L528.93,339.75 L529.45,339.26 L529.97,338.76 L530.49,338.25 L531.01,337.74 L531.53,337.22 L532.05,336.69 L532.57,336.16 L533.09,335.61 L533.61,335.06 L534.13,334.5 L534.65,333.94 L535.17,333.36 L535.69,332.78 L536.21,332.19 L536.73,331.59 L537.25,330.98 L537.77,330.37 L538.29,329.74 L538.81,329.11 L539.33,328.46 L539.85,327.81 L540.37,327.15 L540.89,326.48 L541.42,325.8 L541.94,325.11 L542.46,324.41 L542.98,323.7 L543.5,322.98 L544.02,322.25 L544.54,321.51 L545.06,320.76 L545.58,320 L546.1,319.23 L546.62,318.45 L547.14,317.65 L547.66,316.85 L548.18,316.03 L548.7,315.2 L549.22,314.36 L549.74,313.51 L550.26,312.65 L550.78,311.77 L551.3,310.88 L551.82,309.98 L552.34,309.07 L552.86,308.14 L553.38,307.2 L553.9,306.25 L554.42,305.28 L554.94,304.3 L555.46,303.31 L555.98,302.3 L556.5,301.28 L557.02,300.24 L557.02,374.5 Z" fill="rgba(60,184,120,0.070)"/>
<path d="M473.77,374.5 L473.77,366.67 L474.29,366.56 L474.81,366.45 L475.33,366.34 L475.86,366.22 L476.38,366.1 L476.9,365.98 L477.42,365.86 L477.94,365.74 L478.46,365.62 L478.98,365.49 L479.5,365.36 L480.02,365.23 L480.54,365.1 L481.06,364.97 L481.58,364.83 L482.1,364.7 L482.62,364.56 L483.14,364.42 L483.66,364.28 L484.18,364.13 L484.7,363.98 L485.22,363.83 L485.74,363.68 L486.26,363.53 L486.78,363.38 L487.3,363.22 L487.82,363.06 L488.34,362.9 L488.86,362.73 L489.38,362.56 L489.9,362.4 L490.42,362.22 L490.94,362.05 L491.46,361.87 L491.98,361.7 L492.51,361.51 L493.03,361.33 L493.55,361.14 L494.07,360.95 L494.59,360.76 L495.11,360.57 L495.63,360.37 L496.15,360.17 L496.67,359.97 L497.19,359.76 L497.71,359.55 L498.23,359.34 L498.75,359.13 L499.27,358.91 L499.79,358.69 L500.31,358.46 L500.83,358.24 L501.35,358.01 L501.87,357.77 L502.39,357.54 L502.91,357.3 L503.43,357.05 L503.95,356.81 L504.47,356.56 L504.99,356.3 L505.51,356.04 L506.03,355.78 L506.55,355.52 L507.07,355.25 L507.59,354.98 L508.11,354.7 L508.64,354.42 L509.16,354.13 L509.68,353.85 L510.2,353.55 L510.72,353.26 L511.24,352.96 L511.76,352.65 L512.28,352.34 L512.8,352.03 L513.32,351.71 L513.84,351.39 L514.36,351.06 L514.88,350.73 L515.4,350.39 L515.92,350.05 L516.44,349.7 L516.96,349.35 L517.48,349 L518,348.64 L518.52,348.27 L519.04,347.9 L519.56,347.52 L520.08,347.14 L520.6,346.75 L521.12,346.36 L521.64,345.96 L522.16,345.56 L522.68,345.15 L523.2,344.73 L523.72,344.31 L524.24,343.88 L524.76,343.45 L525.29,343.01 L525.81,342.56 L526.33,342.11 L526.85,341.65 L527.37,341.19 L527.89,340.71 L528.41,340.23 L528.93,339.75 L529.45,339.26 L529.97,338.76 L530.49,338.25 L531.01,337.74 L531.53,337.22 L532.05,336.69 L532.57,336.16 L533.09,335.61 L533.61,335.06 L534.13,334.5 L534.65,333.94 L535.17,333.36 L535.69,332.78 L536.21,332.19 L536.73,331.59 L537.25,330.98 L537.77,330.37 L538.29,329.74 L538.81,329.11 L539.33,328.46 L539.85,327.81 L540.37,327.15 L540.89,326.48 L541.42,325.8 L541.94,325.11 L542.46,324.41 L542.98,323.7 L543.5,322.98 L544.02,322.25 L544.54,321.51 L545.06,320.76 L545.58,320 L546.1,319.23 L546.62,318.45 L547.14,317.65 L547.66,316.85 L548.18,316.03 L548.7,315.2 L549.22,314.36 L549.74,313.51 L550.26,312.65 L550.78,311.77 L551.3,310.88 L551.82,309.98 L552.34,309.07 L552.86,308.14 L553.38,307.2 L553.9,306.25 L554.42,305.28 L554.94,304.3 L555.46,303.31 L555.98,302.3 L556.5,301.28 L557.02,300.24 L557.02,374.5" fill="none" stroke="rgba(60,184,120,0.300)" stroke-width="1.6" stroke-linejoin="round" stroke-dasharray="9.7 2.5 1.2 2.4" stroke-dashoffset="1.0"/>
<path d="M473.77,374.5 L473.77,344.97 L474.29,344.97 L474.81,344.97 L475.33,344.97 L475.86,344.97 L476.38,344.97 L476.9,344.97 L477.42,344.97 L477.94,344.97 L478.46,344.97 L478.98,344.97 L479.5,344.97 L480.02,344.97 L480.54,344.97 L481.06,344.97 L481.58,344.97 L482.1,344.97 L482.62,344.97 L483.14,344.97 L483.66,344.97 L484.18,344.97 L484.7,344.97 L485.22,344.97 L485.74,344.97 L486.26,344.97 L486.78,344.97 L487.3,344.97 L487.82,344.97 L488.34,344.97 L488.86,344.97 L489.38,344.97 L489.9,344.97 L490.42,344.97 L490.94,344.97 L491.46,344.97 L491.98,344.97 L492.51,344.97 L493.03,344.97 L493.55,344.97 L494.07,344.97 L494.59,344.97 L495.11,344.97 L495.63,344.97 L496.15,344.97 L496.67,344.97 L497.19,344.97 L497.71,344.97 L498.23,344.97 L498.75,344.97 L499.27,344.97 L499.79,344.97 L500.31,344.97 L500.83,344.97 L501.35,344.97 L501.87,344.97 L502.39,344.97 L502.91,344.97 L503.43,344.97 L503.95,344.97 L504.47,344.97 L504.99,344.97 L505.51,344.97 L506.03,344.97 L506.55,344.97 L507.07,344.97 L507.59,344.97 L508.11,344.97 L508.64,344.97 L509.16,344.97 L509.68,344.97 L510.2,344.97 L510.72,344.97 L511.24,344.97 L511.76,344.97 L512.28,344.97 L512.8,344.97 L513.32,344.97 L513.84,344.97 L514.36,344.97 L514.88,344.97 L515.4,344.97 L515.92,344.97 L516.44,344.97 L516.96,344.97 L517.48,344.97 L518,344.97 L518.52,344.97 L519.04,344.97 L519.56,344.97 L520.08,344.97 L520.6,344.97 L521.12,344.97 L521.64,344.97 L522.16,344.97 L522.68,344.97 L523.2,344.97 L523.72,344.97 L524.24,344.97 L524.76,344.97 L525.29,344.97 L525.81,344.97 L526.33,344.97 L526.85,344.97 L527.37,344.97 L527.89,344.97 L528.41,344.97 L528.93,344.97 L529.45,344.97 L529.97,344.97 L530.49,344.97 L531.01,344.97 L531.53,344.97 L532.05,344.97 L532.57,344.97 L533.09,344.97 L533.61,344.97 L534.13,344.97 L534.65,344.97 L535.17,344.97 L535.69,344.97 L536.21,344.97 L536.73,344.97 L537.25,344.97 L537.77,344.97 L538.29,344.97 L538.81,344.97 L539.33,344.97 L539.85,344.97 L540.37,344.97 L540.89,344.97 L541.42,344.97 L541.94,344.97 L542.46,344.97 L542.98,344.97 L543.5,344.97 L544.02,344.97 L544.54,344.97 L545.06,344.97 L545.58,344.97 L546.1,344.97 L546.62,344.97 L547.14,344.97 L547.66,344.97 L548.18,344.97 L548.7,344.97 L549.22,344.97 L549.74,344.97 L550.26,344.97 L550.78,344.97 L551.3,344.97 L551.82,344.97 L552.34,344.97 L552.86,344.97 L553.38,344.97 L553.9,344.97 L554.42,344.97 L554.94,344.97 L555.46,344.97 L555.98,344.97 L556.5,344.97 L557.02,344.97 L557.02,374.5 Z" fill="rgba(42,150,146,0.300)"/>
<path d="M473.77,374.5 L473.77,344.97 L474.29,344.97 L474.81,344.97 L475.33,344.97 L475.86,344.97 L476.38,344.97 L476.9,344.97 L477.42,344.97 L477.94,344.97 L478.46,344.97 L478.98,344.97 L479.5,344.97 L480.02,344.97 L480.54,344.97 L481.06,344.97 L481.58,344.97 L482.1,344.97 L482.62,344.97 L483.14,344.97 L483.66,344.97 L484.18,344.97 L484.7,344.97 L485.22,344.97 L485.74,344.97 L486.26,344.97 L486.78,344.97 L487.3,344.97 L487.82,344.97 L488.34,344.97 L488.86,344.97 L489.38,344.97 L489.9,344.97 L490.42,344.97 L490.94,344.97 L491.46,344.97 L491.98,344.97 L492.51,344.97 L493.03,344.97 L493.55,344.97 L494.07,344.97 L494.59,344.97 L495.11,344.97 L495.63,344.97 L496.15,344.97 L496.67,344.97 L497.19,344.97 L497.71,344.97 L498.23,344.97 L498.75,344.97 L499.27,344.97 L499.79,344.97 L500.31,344.97 L500.83,344.97 L501.35,344.97 L501.87,344.97 L502.39,344.97 L502.91,344.97 L503.43,344.97 L503.95,344.97 L504.47,344.97 L504.99,344.97 L505.51,344.97 L506.03,344.97 L506.55,344.97 L507.07,344.97 L507.59,344.97 L508.11,344.97 L508.64,344.97 L509.16,344.97 L509.68,344.97 L510.2,344.97 L510.72,344.97 L511.24,344.97 L511.76,344.97 L512.28,344.97 L512.8,344.97 L513.32,344.97 L513.84,344.97 L514.36,344.97 L514.88,344.97 L515.4,344.97 L515.92,344.97 L516.44,344.97 L516.96,344.97 L517.48,344.97 L518,344.97 L518.52,344.97 L519.04,344.97 L519.56,344.97 L520.08,344.97 L520.6,344.97 L521.12,344.97 L521.64,344.97 L522.16,344.97 L522.68,344.97 L523.2,344.97 L523.72,344.97 L524.24,344.97 L524.76,344.97 L525.29,344.97 L525.81,344.97 L526.33,344.97 L526.85,344.97 L527.37,344.97 L527.89,344.97 L528.41,344.97 L528.93,344.97 L529.45,344.97 L529.97,344.97 L530.49,344.97 L531.01,344.97 L531.53,344.97 L532.05,344.97 L532.57,344.97 L533.09,344.97 L533.61,344.97 L534.13,344.97 L534.65,344.97 L535.17,344.97 L535.69,344.97 L536.21,344.97 L536.73,344.97 L537.25,344.97 L537.77,344.97 L538.29,344.97 L538.81,344.97 L539.33,344.97 L539.85,344.97 L540.37,344.97 L540.89,344.97 L541.42,344.97 L541.94,344.97 L542.46,344.97 L542.98,344.97 L543.5,344.97 L544.02,344.97 L544.54,344.97 L545.06,344.97 L545.58,344.97 L546.1,344.97 L546.62,344.97 L547.14,344.97 L547.66,344.97 L548.18,344.97 L548.7,344.97 L549.22,344.97 L549.74,344.97 L550.26,344.97 L550.78,344.97 L551.3,344.97 L551.82,344.97 L552.34,344.97 L552.86,344.97 L553.38,344.97 L553.9,344.97 L554.42,344.97 L554.94,344.97 L555.46,344.97 L555.98,344.97 L556.5,344.97 L557.02,344.97 L557.02,374.5" fill="none" stroke="rgba(42,150,146,1.000)" stroke-width="1.65" stroke-linejoin="round"/>
</g>
<rect x="174.2" y="9.3" width="77.6" height="15.4" fill="rgb(186,212,233)" stroke="#a5a5a5" stroke-width="0.9"/>
<text x="184" y="19.75" fill="#222"><tspan font-style="italic" font-size="10.6">σ</tspan></text>
<text x="189.7" y="22.35" font-size="7.3" fill="#222">GS</text>
<text x="203.12" y="19.65" font-size="9.2" fill="#222" textLength="4.89" lengthAdjust="spacingAndGlyphs">=</text>
<text x="209.72" y="19.75" font-size="9.0" fill="#222" textLength="33.24" lengthAdjust="spacingAndGlyphs">250 mK</text>
<rect x="327.4" y="9.3" width="72.2" height="15.4" fill="rgb(251,211,178)" stroke="#a5a5a5" stroke-width="0.9"/>
<text x="336.3" y="19.75" fill="#222"><tspan font-style="italic" font-size="10.6">σ</tspan></text>
<text x="342.4" y="22.35" font-size="7.3" fill="#222">GS</text>
<text x="355.12" y="19.65" font-size="9.2" fill="#222" textLength="4.89" lengthAdjust="spacingAndGlyphs">=</text>
<text x="362.03" y="19.75" font-size="9.0" fill="#222" textLength="27.32" lengthAdjust="spacingAndGlyphs">25 mK</text>
<rect x="480.7" y="9.3" width="66.1" height="15.4" fill="rgb(245,208,232)" stroke="#a5a5a5" stroke-width="0.9"/>
<text x="489.7" y="19.75" fill="#222"><tspan font-style="italic" font-size="10.6">σ</tspan></text>
<text x="495.4" y="22.35" font-size="7.3" fill="#222">GS</text>
<text x="508.72" y="19.65" font-size="9.2" fill="#222" textLength="4.89" lengthAdjust="spacingAndGlyphs">=</text>
<text x="515.43" y="19.75" font-size="9.0" fill="#222" textLength="21.86" lengthAdjust="spacingAndGlyphs">5 mK</text>
<rect x="179.9" y="196.6" width="66.2" height="15.4" fill="rgb(186,212,233)" stroke="#a5a5a5" stroke-width="0.9"/>
<text x="187.9" y="207.05" fill="#222"><tspan font-style="italic" font-size="10">t</tspan></text>
<text x="190.3" y="209.65" font-size="7.3" fill="#222">obs</text>
<text x="202.12" y="206.95" font-size="9.2" fill="#222" textLength="4.89" lengthAdjust="spacingAndGlyphs">=</text>
<text x="209.23" y="207.05" font-size="9.0" fill="#222" textLength="26.12" lengthAdjust="spacingAndGlyphs">300 h</text>
<rect x="327.4" y="196.6" width="72.2" height="15.4" fill="rgb(251,211,178)" stroke="#a5a5a5" stroke-width="0.9"/>
<text x="333.6" y="207.05" fill="#222"><tspan font-style="italic" font-size="10">t</tspan></text>
<text x="336.6" y="209.65" font-size="7.3" fill="#222">obs</text>
<text x="350.92" y="206.95" font-size="9.2" fill="#222" textLength="4.89" lengthAdjust="spacingAndGlyphs">=</text>
<text x="356.83" y="207.05" font-size="9.0" fill="#222" textLength="34.09" lengthAdjust="spacingAndGlyphs">1,000 h</text>
<rect x="477.9" y="196.6" width="71.7" height="15.4" fill="rgb(245,208,232)" stroke="#a5a5a5" stroke-width="0.9"/>
<text x="482.6" y="207.05" fill="#222"><tspan font-style="italic" font-size="10">t</tspan></text>
<text x="485.3" y="209.65" font-size="7.3" fill="#222">obs</text>
<text x="499.62" y="206.95" font-size="9.2" fill="#222" textLength="4.89" lengthAdjust="spacingAndGlyphs">=</text>
<text x="506.24" y="207.05" font-size="9.0" fill="#222" textLength="34.19" lengthAdjust="spacingAndGlyphs">3,000 h</text>
<path d="M138.03,187.5 V184.3 M143.35,187.5 V184.3 M147.48,187.5 V184.3 M150.85,187.5 V184.3 M153.7,187.5 V184.3 M156.17,187.5 V184.3 M158.35,187.5 V184.3 M160.3,187.5 V182.3 M173.12,187.5 V184.3 M180.63,187.5 V184.3 M185.95,187.5 V184.3 M190.08,187.5 V184.3 M193.45,187.5 V184.3 M196.3,187.5 V184.3 M198.77,187.5 V184.3 M200.95,187.5 V184.3 M202.9,187.5 V182.3 M215.72,187.5 V184.3 M223.23,187.5 V184.3 M228.55,187.5 V184.3 M232.68,187.5 V184.3 M236.05,187.5 V184.3 M238.9,187.5 V184.3 M241.37,187.5 V184.3 M243.55,187.5 V184.3 M245.5,187.5 V182.3 M258.32,187.5 V184.3 M265.83,187.5 V184.3 M271.15,187.5 V184.3 M275.28,187.5 V184.3 M278.65,187.5 V184.3 M281.5,187.5 V184.3 M283.97,187.5 V184.3 M286.15,187.5 V184.3 M288.1,187.5 V182.3" stroke="#4a4a4a" stroke-width="1" fill="none"/>
<path d="M137.5,187.5 H142.7 M137.5,158.65 H142.7 M137.5,129.8 H142.7 M137.5,100.95 H142.7 M137.5,72.1 H142.7 M137.5,43.25 H142.7 M137.5,14.4 H142.7" stroke="#6a6a6a" stroke-width="1" fill="none"/>
<path d="M293.45,187.5 V184.3 M297.58,187.5 V184.3 M300.95,187.5 V184.3 M303.8,187.5 V184.3 M306.27,187.5 V184.3 M308.45,187.5 V184.3 M310.4,187.5 V182.3 M323.22,187.5 V184.3 M330.73,187.5 V184.3 M336.05,187.5 V184.3 M340.18,187.5 V184.3 M343.55,187.5 V184.3 M346.4,187.5 V184.3 M348.87,187.5 V184.3 M351.05,187.5 V184.3 M353,187.5 V182.3 M365.82,187.5 V184.3 M373.33,187.5 V184.3 M378.65,187.5 V184.3 M382.78,187.5 V184.3 M386.15,187.5 V184.3 M389,187.5 V184.3 M391.47,187.5 V184.3 M393.65,187.5 V184.3 M395.6,187.5 V182.3 M408.42,187.5 V184.3 M415.93,187.5 V184.3 M421.25,187.5 V184.3 M425.38,187.5 V184.3 M428.75,187.5 V184.3 M431.6,187.5 V184.3 M434.07,187.5 V184.3 M436.25,187.5 V184.3 M438.2,187.5 V182.3" stroke="#4a4a4a" stroke-width="1" fill="none"/>
<path d="M288.5,187.5 H293.7 M288.5,158.65 H293.7 M288.5,129.8 H293.7 M288.5,100.95 H293.7 M288.5,72.1 H293.7 M288.5,43.25 H293.7 M288.5,14.4 H293.7" stroke="#6a6a6a" stroke-width="1" fill="none"/>
<path d="M444,187.5 V184.3 M448.13,187.5 V184.3 M451.5,187.5 V184.3 M454.35,187.5 V184.3 M456.82,187.5 V184.3 M459,187.5 V184.3 M460.95,187.5 V182.3 M473.77,187.5 V184.3 M481.28,187.5 V184.3 M486.6,187.5 V184.3 M490.73,187.5 V184.3 M494.1,187.5 V184.3 M496.95,187.5 V184.3 M499.42,187.5 V184.3 M501.6,187.5 V184.3 M503.55,187.5 V182.3 M516.37,187.5 V184.3 M523.88,187.5 V184.3 M529.2,187.5 V184.3 M533.33,187.5 V184.3 M536.7,187.5 V184.3 M539.55,187.5 V184.3 M542.02,187.5 V184.3 M544.2,187.5 V184.3 M546.15,187.5 V182.3 M558.97,187.5 V184.3 M566.48,187.5 V184.3 M571.8,187.5 V184.3 M575.93,187.5 V184.3 M579.3,187.5 V184.3 M582.15,187.5 V184.3 M584.62,187.5 V184.3 M586.8,187.5 V184.3 M588.75,187.5 V182.3" stroke="#4a4a4a" stroke-width="1" fill="none"/>
<path d="M438.5,187.5 H443.7 M438.5,158.65 H443.7 M438.5,129.8 H443.7 M438.5,100.95 H443.7 M438.5,72.1 H443.7 M438.5,43.25 H443.7 M438.5,14.4 H443.7" stroke="#6a6a6a" stroke-width="1" fill="none"/>
<path d="M138.03,374.5 V371.3 M143.35,374.5 V371.3 M147.48,374.5 V371.3 M150.85,374.5 V371.3 M153.7,374.5 V371.3 M156.17,374.5 V371.3 M158.35,374.5 V371.3 M160.3,374.5 V369.3 M173.12,374.5 V371.3 M180.63,374.5 V371.3 M185.95,374.5 V371.3 M190.08,374.5 V371.3 M193.45,374.5 V371.3 M196.3,374.5 V371.3 M198.77,374.5 V371.3 M200.95,374.5 V371.3 M202.9,374.5 V369.3 M215.72,374.5 V371.3 M223.23,374.5 V371.3 M228.55,374.5 V371.3 M232.68,374.5 V371.3 M236.05,374.5 V371.3 M238.9,374.5 V371.3 M241.37,374.5 V371.3 M243.55,374.5 V371.3 M245.5,374.5 V369.3 M258.32,374.5 V371.3 M265.83,374.5 V371.3 M271.15,374.5 V371.3 M275.28,374.5 V371.3 M278.65,374.5 V371.3 M281.5,374.5 V371.3 M283.97,374.5 V371.3 M286.15,374.5 V371.3 M288.1,374.5 V369.3" stroke="#4a4a4a" stroke-width="1" fill="none"/>
<path d="M137.5,374.5 H142.7 M137.5,345.65 H142.7 M137.5,316.8 H142.7 M137.5,287.95 H142.7 M137.5,259.1 H142.7 M137.5,230.25 H142.7 M137.5,201.4 H142.7" stroke="#6a6a6a" stroke-width="1" fill="none"/>
<path d="M293.45,374.5 V371.3 M297.58,374.5 V371.3 M300.95,374.5 V371.3 M303.8,374.5 V371.3 M306.27,374.5 V371.3 M308.45,374.5 V371.3 M310.4,374.5 V369.3 M323.22,374.5 V371.3 M330.73,374.5 V371.3 M336.05,374.5 V371.3 M340.18,374.5 V371.3 M343.55,374.5 V371.3 M346.4,374.5 V371.3 M348.87,374.5 V371.3 M351.05,374.5 V371.3 M353,374.5 V369.3 M365.82,374.5 V371.3 M373.33,374.5 V371.3 M378.65,374.5 V371.3 M382.78,374.5 V371.3 M386.15,374.5 V371.3 M389,374.5 V371.3 M391.47,374.5 V371.3 M393.65,374.5 V371.3 M395.6,374.5 V369.3 M408.42,374.5 V371.3 M415.93,374.5 V371.3 M421.25,374.5 V371.3 M425.38,374.5 V371.3 M428.75,374.5 V371.3 M431.6,374.5 V371.3 M434.07,374.5 V371.3 M436.25,374.5 V371.3 M438.2,374.5 V369.3" stroke="#4a4a4a" stroke-width="1" fill="none"/>
<path d="M288.5,374.5 H293.7 M288.5,345.65 H293.7 M288.5,316.8 H293.7 M288.5,287.95 H293.7 M288.5,259.1 H293.7 M288.5,230.25 H293.7 M288.5,201.4 H293.7" stroke="#6a6a6a" stroke-width="1" fill="none"/>
<path d="M444,374.5 V371.3 M448.13,374.5 V371.3 M451.5,374.5 V371.3 M454.35,374.5 V371.3 M456.82,374.5 V371.3 M459,374.5 V371.3 M460.95,374.5 V369.3 M473.77,374.5 V371.3 M481.28,374.5 V371.3 M486.6,374.5 V371.3 M490.73,374.5 V371.3 M494.1,374.5 V371.3 M496.95,374.5 V371.3 M499.42,374.5 V371.3 M501.6,374.5 V371.3 M503.55,374.5 V369.3 M516.37,374.5 V371.3 M523.88,374.5 V371.3 M529.2,374.5 V371.3 M533.33,374.5 V371.3 M536.7,374.5 V371.3 M539.55,374.5 V371.3 M542.02,374.5 V371.3 M544.2,374.5 V371.3 M546.15,374.5 V369.3 M558.97,374.5 V371.3 M566.48,374.5 V371.3 M571.8,374.5 V371.3 M575.93,374.5 V371.3 M579.3,374.5 V371.3 M582.15,374.5 V371.3 M584.62,374.5 V371.3 M586.8,374.5 V371.3 M588.75,374.5 V369.3" stroke="#4a4a4a" stroke-width="1" fill="none"/>
<path d="M438.5,374.5 H443.7 M438.5,345.65 H443.7 M438.5,316.8 H443.7 M438.5,287.95 H443.7 M438.5,259.1 H443.7 M438.5,230.25 H443.7 M438.5,201.4 H443.7" stroke="#6a6a6a" stroke-width="1" fill="none"/>
<path d="M137.5,0.5 H589 V374.5" stroke="#b8b8b8" stroke-width="1.2" fill="none"/>
<path d="M137.5,0 V375.1" stroke="#808080" stroke-width="1.25"/>
<path d="M288.5,0 V375.1" stroke="#808080" stroke-width="1.25"/>
<path d="M438.5,0 V375.1" stroke="#808080" stroke-width="1.25"/>
<path d="M136.9,187.5 H589" stroke="#808080" stroke-width="1.25"/>
<path d="M136.9,374.5 H589" stroke="#808080" stroke-width="1.25"/>
<text x="126.78" y="190.85" font-size="10.0" fill="#333" textLength="6.65" lengthAdjust="spacingAndGlyphs">0</text>
<text x="114.55" y="162.00" font-size="10.0" fill="#333" textLength="18.89" lengthAdjust="spacingAndGlyphs">500</text>
<text x="107.32" y="133.15" font-size="10.0" fill="#333" textLength="26.07" lengthAdjust="spacingAndGlyphs">1,000</text>
<text x="108.04" y="104.30" font-size="10.0" fill="#333" textLength="25.34" lengthAdjust="spacingAndGlyphs">1,500</text>
<text x="106.87" y="75.45" font-size="10.0" fill="#333" textLength="26.53" lengthAdjust="spacingAndGlyphs">2,000</text>
<text x="106.97" y="46.60" font-size="10.0" fill="#333" textLength="26.42" lengthAdjust="spacingAndGlyphs">2,500</text>
<text x="106.32" y="17.75" font-size="10.0" fill="#333" textLength="27.08" lengthAdjust="spacingAndGlyphs">3,000</text>
<text x="126.78" y="377.85" font-size="10.0" fill="#333" textLength="6.65" lengthAdjust="spacingAndGlyphs">0</text>
<text x="114.55" y="349.00" font-size="10.0" fill="#333" textLength="18.89" lengthAdjust="spacingAndGlyphs">500</text>
<text x="107.32" y="320.15" font-size="10.0" fill="#333" textLength="26.07" lengthAdjust="spacingAndGlyphs">1,000</text>
<text x="108.04" y="291.30" font-size="10.0" fill="#333" textLength="25.34" lengthAdjust="spacingAndGlyphs">1,500</text>
<text x="106.87" y="262.45" font-size="10.0" fill="#333" textLength="26.53" lengthAdjust="spacingAndGlyphs">2,000</text>
<text x="106.97" y="233.60" font-size="10.0" fill="#333" textLength="26.42" lengthAdjust="spacingAndGlyphs">2,500</text>
<text x="106.32" y="204.75" font-size="10.0" fill="#333" textLength="27.08" lengthAdjust="spacingAndGlyphs">3,000</text>
<g transform="rotate(-90)">
<text x="-156.27" y="92.60" font-size="10.8" fill="#222" textLength="77.08" lengthAdjust="spacingAndGlyphs">Normalized IMF</text>
<text x="-63.31" y="86.00" font-size="9.3" fill="#222" textLength="13.22" lengthAdjust="spacingAndGlyphs">d<tspan font-style="italic">N</tspan></text>
<text x="-71.69" y="98.40" font-size="9.4" fill="#222" textLength="35.65" lengthAdjust="spacingAndGlyphs">dlog (<tspan font-style="italic">M</tspan>)</text>
</g>
<path d="M89.0,35.3 V73.5" stroke="#333" stroke-width="0.75"/>
<g transform="rotate(-90)">
<text x="-343.27" y="92.60" font-size="10.8" fill="#222" textLength="77.08" lengthAdjust="spacingAndGlyphs">Normalized IMF</text>
<text x="-250.31" y="86.00" font-size="9.3" fill="#222" textLength="13.22" lengthAdjust="spacingAndGlyphs">d<tspan font-style="italic">N</tspan></text>
<text x="-258.69" y="98.40" font-size="9.4" fill="#222" textLength="35.65" lengthAdjust="spacingAndGlyphs">dlog (<tspan font-style="italic">M</tspan>)</text>
</g>
<path d="M89.0,222.3 V260.5" stroke="#333" stroke-width="0.75"/>
<text x="151.54" y="388.20" font-size="9.9" fill="#222" textLength="9.79" lengthAdjust="spacingAndGlyphs">10</text>
<text x="162.16" y="384.4" font-size="6.9" fill="#222">0</text>
<text x="194.44" y="388.20" font-size="9.9" fill="#222" textLength="9.79" lengthAdjust="spacingAndGlyphs">10</text>
<text x="205.06" y="384.4" font-size="6.9" fill="#222">1</text>
<text x="236.44" y="388.20" font-size="9.9" fill="#222" textLength="9.79" lengthAdjust="spacingAndGlyphs">10</text>
<text x="247.06" y="384.4" font-size="6.9" fill="#222">2</text>
<text x="161.40" y="407.00" font-size="10.8" fill="#222" textLength="61.61" lengthAdjust="spacingAndGlyphs">Stellar mass</text>
<text x="225.87" y="407.00" font-size="10.8" fill="#222" textLength="9.21" lengthAdjust="spacingAndGlyphs" font-style="italic">M</text>
<path d="M236.1,406.7 L238.7,406.7 L237.4,404.1 Z" fill="#333"/>
<text x="241.52" y="407.00" font-size="10.8" fill="#222" textLength="13.25" lengthAdjust="spacingAndGlyphs">(M</text>
<circle cx="257.2" cy="406.55" r="1.95" fill="none" stroke="#333" stroke-width="0.8"/><circle cx="257.2" cy="406.55" r="0.55" fill="#333"/>
<text x="260.75" y="407.00" font-size="10.8" fill="#222" textLength="3.21" lengthAdjust="spacingAndGlyphs">)</text>
<text x="303.44" y="388.20" font-size="9.9" fill="#222" textLength="9.79" lengthAdjust="spacingAndGlyphs">10</text>
<text x="314.06" y="384.4" font-size="6.9" fill="#222">0</text>
<text x="346.34" y="388.20" font-size="9.9" fill="#222" textLength="9.79" lengthAdjust="spacingAndGlyphs">10</text>
<text x="356.96" y="384.4" font-size="6.9" fill="#222">1</text>
<text x="388.44" y="388.20" font-size="9.9" fill="#222" textLength="9.79" lengthAdjust="spacingAndGlyphs">10</text>
<text x="399.06" y="384.4" font-size="6.9" fill="#222">2</text>
<text x="312.10" y="405.60" font-size="10.8" fill="#222" textLength="61.61" lengthAdjust="spacingAndGlyphs">Stellar mass</text>
<text x="376.57" y="405.60" font-size="10.8" fill="#222" textLength="9.21" lengthAdjust="spacingAndGlyphs" font-style="italic">M</text>
<path d="M386.8,405.3 L389.4,405.3 L388.1,402.7 Z" fill="#333"/>
<text x="392.22" y="405.60" font-size="10.8" fill="#222" textLength="13.25" lengthAdjust="spacingAndGlyphs">(M</text>
<circle cx="407.9" cy="405.15" r="1.95" fill="none" stroke="#333" stroke-width="0.8"/><circle cx="407.9" cy="405.15" r="0.55" fill="#333"/>
<text x="411.45" y="405.60" font-size="10.8" fill="#222" textLength="3.21" lengthAdjust="spacingAndGlyphs">)</text>
<text x="453.44" y="388.20" font-size="9.9" fill="#222" textLength="9.79" lengthAdjust="spacingAndGlyphs">10</text>
<text x="464.06" y="384.4" font-size="6.9" fill="#222">0</text>
<text x="495.44" y="388.20" font-size="9.9" fill="#222" textLength="9.79" lengthAdjust="spacingAndGlyphs">10</text>
<text x="506.06" y="384.4" font-size="6.9" fill="#222">1</text>
<text x="538.44" y="388.20" font-size="9.9" fill="#222" textLength="9.79" lengthAdjust="spacingAndGlyphs">10</text>
<text x="549.06" y="384.4" font-size="6.9" fill="#222">2</text>
<text x="462.60" y="404.20" font-size="10.8" fill="#222" textLength="61.61" lengthAdjust="spacingAndGlyphs">Stellar mass</text>
<text x="527.07" y="404.20" font-size="10.8" fill="#222" textLength="9.21" lengthAdjust="spacingAndGlyphs" font-style="italic">M</text>
<path d="M537.3,403.9 L539.9,403.9 L538.6,401.3 Z" fill="#333"/>
<text x="542.72" y="404.20" font-size="10.8" fill="#222" textLength="13.25" lengthAdjust="spacingAndGlyphs">(M</text>
<circle cx="558.4" cy="403.75" r="1.95" fill="none" stroke="#333" stroke-width="0.8"/><circle cx="558.4" cy="403.75" r="0.55" fill="#333"/>
<text x="561.95" y="404.20" font-size="10.8" fill="#222" textLength="3.21" lengthAdjust="spacingAndGlyphs">)</text>
<text x="17.41" y="285.80" font-size="10.8" fill="#222" textLength="45.38" lengthAdjust="spacingAndGlyphs">SKA-Low</text>
<text x="28.92" y="297.30" font-size="10.8" fill="#222" textLength="23.26" lengthAdjust="spacingAndGlyphs">core</text>
<text x="625.83" y="58.60" font-size="10.8" fill="#222" textLength="53.62" lengthAdjust="spacingAndGlyphs">Consistent</text>
<text x="626.66" y="68.70" font-size="10.8" fill="#222" textLength="45.71" lengthAdjust="spacingAndGlyphs">with data</text>
<text x="625.75" y="80.10" font-size="10.8" fill="#222" textLength="24.85" lengthAdjust="spacingAndGlyphs">(&lt;2<tspan font-style="italic">σ</tspan>)</text>
<text x="625.53" y="96.50" font-size="10.8" fill="#222" textLength="30.88" lengthAdjust="spacingAndGlyphs">Mildly</text>
<text x="626.03" y="106.80" font-size="10.8" fill="#222" textLength="60.27" lengthAdjust="spacingAndGlyphs">disfavoured</text>
<text x="625.76" y="118.40" font-size="10.8" fill="#222" textLength="24.64" lengthAdjust="spacingAndGlyphs">(≥2<tspan font-style="italic">σ</tspan>)</text>
<text x="625.97" y="136.30" font-size="10.8" fill="#222" textLength="43.01" lengthAdjust="spacingAndGlyphs">Strongly</text>
<text x="626.03" y="146.60" font-size="10.8" fill="#222" textLength="60.27" lengthAdjust="spacingAndGlyphs">disfavoured</text>
<text x="625.76" y="158.20" font-size="10.8" fill="#222" textLength="24.43" lengthAdjust="spacingAndGlyphs">(≥3<tspan font-style="italic">σ</tspan>)</text>
<text x="625.59" y="176.50" font-size="10.8" fill="#222" textLength="48.62" lengthAdjust="spacingAndGlyphs">Ruled out</text>
<text x="625.85" y="187.70" font-size="10.8" fill="#222" textLength="43.20" lengthAdjust="spacingAndGlyphs">(≥5<tspan font-style="italic">σ</tspan>) <tspan font-style="italic">not</tspan></text>
<text x="626.21" y="198.20" font-size="10.8" fill="#222" textLength="32.98" lengthAdjust="spacingAndGlyphs">shown</text>
<path d="M596.5,67.3 H618.8" stroke="#111" stroke-width="1.6"/>
<path d="M596.8,105.3 H618.4" stroke="#777" stroke-width="1.3" stroke-dasharray="5.8 2"/>
<path d="M597,145.1 H618" stroke="#c8c8c8" stroke-width="1.3" stroke-dasharray="9.1 3 1.4 2.2"/>
<g fill="#9c9c9c"><rect x="597.43" y="180.43" width="1.35" height="1.35"/><rect x="597.43" y="187.43" width="1.35" height="1.35"/><rect x="601.33" y="180.43" width="1.35" height="1.35"/><rect x="601.33" y="187.43" width="1.35" height="1.35"/><rect x="605.23" y="180.43" width="1.35" height="1.35"/><rect x="605.23" y="187.43" width="1.35" height="1.35"/><rect x="609.03" y="180.43" width="1.35" height="1.35"/><rect x="609.03" y="187.43" width="1.35" height="1.35"/><rect x="612.83" y="180.43" width="1.35" height="1.35"/><rect x="612.83" y="187.43" width="1.35" height="1.35"/><rect x="616.93" y="180.43" width="1.35" height="1.35"/><rect x="616.93" y="187.43" width="1.35" height="1.35"/><rect x="596.63" y="183.53" width="1.35" height="1.35"/><rect x="617.03" y="184.03" width="1.35" height="1.35"/></g>
<path d="M596.8,237.6 H618.2" stroke="rgb(70,59,139)" stroke-width="1.7"/>
<text x="626.23" y="240.50" font-size="10.8" fill="#222" textLength="35.83" lengthAdjust="spacingAndGlyphs">Sal IMF</text>
<path d="M596.8,251.82 H618.2" stroke="rgb(50,104,154)" stroke-width="1.7"/>
<text x="625.71" y="254.72" font-size="10.8" fill="#222" textLength="43.98" lengthAdjust="spacingAndGlyphs">Int-2 IMF</text>
<path d="M596.8,266.04 H618.2" stroke="rgb(42,150,146)" stroke-width="1.7"/>
<text x="625.75" y="268.94" font-size="10.8" fill="#222" textLength="42.02" lengthAdjust="spacingAndGlyphs">Int-1 IMF</text>
<path d="M596.8,280.26 H618.2" stroke="rgb(60,184,120)" stroke-width="1.7"/>
<text x="625.68" y="283.16" font-size="10.8" fill="#222" textLength="54.91" lengthAdjust="spacingAndGlyphs">Int-0.5 IMF</text>
<path d="M596.8,294.48 H618.2" stroke="rgb(140,212,73)" stroke-width="1.7"/>
<text x="625.69" y="297.38" font-size="10.8" fill="#222" textLength="45.01" lengthAdjust="spacingAndGlyphs">Int-0 IMF</text>
<path d="M596.8,308.7 H618.2" stroke="rgb(253,231,53)" stroke-width="1.7"/>
<text x="626.48" y="311.60" font-size="10.8" fill="#222" textLength="39.42" lengthAdjust="spacingAndGlyphs">Top IMF</text>
<circle cx="32.85" cy="63" r="23.4" fill="none" stroke="#df8a30" stroke-width="1.5"/>
<circle cx="32.85" cy="62.9" r="9" fill="#df8a30"/>
<circle cx="33" cy="40.3" r="4.4" fill="#df8a30"/>
<path fill="#3a3a3a" fill-rule="evenodd" d="M1,95.9 H8.6 Q12.4,95.9 12.4,100 V104.6 Q12.4,108.2 10.1,109.2 L12.7,118.8 H9.1 L6.8,109.6 H4.45 V118.8 H1 Z M4.45,99.1 H7.9 Q8.7,99.1 8.7,100.1 V105.7 Q8.7,106.6 7.9,106.6 H4.45 Z"/>
<path fill="#3a3a3a" d="M15.3,95.9 H23.9 V99.1 H18.8 V105.8 H22.9 V108.4 H18.8 V115.9 H23.9 V118.8 H15.3 Z"/>
<path fill="#3a3a3a" fill-rule="evenodd" d="M28.9,95.9 H34.0 L37.9,118.8 H34.4 L33.7,114.3 H29.3 L28.6,118.8 H25.1 Z M31.5,99.8 L29.7,111.5 H33.3 Z"/>
<path fill="none" stroke="#3a3a3a" stroke-width="3.5" d="M48.7,103 V100.5 Q48.7,97.4 45.2,97.4 Q41.7,97.4 41.7,100.5 V114.2 Q41.7,117.3 45.2,117.3 Q48.7,117.3 48.7,114.2 V112"/>
<path fill="#3a3a3a" d="M52.9,95.9 H56.4 V105.8 H61.2 V95.9 H64.7 V118.8 H61.2 V108.6 H56.4 V118.8 H52.9 Z"/>
<path d="M0.8,128.5 L1.2,128.08 L1.59,127.67 L1.99,127.26 L2.39,126.86 L2.78,126.47 L3.18,126.09 L3.57,125.73 L3.97,125.38 L4.37,125.06 L4.76,124.75 L5.16,124.47 L5.56,124.21 L5.95,123.98 L6.35,123.78 L6.74,123.6 L7.14,123.46 L7.54,123.35 L7.93,123.27 L8.33,123.22 L8.72,123.2 L9.12,123.22 L9.52,123.27 L9.91,123.35 L10.31,123.46 L10.71,123.6 L11.1,123.78 L11.5,123.98 L11.9,124.21 L12.29,124.47 L12.69,124.75 L13.08,125.06 L13.48,125.38 L13.88,125.73 L14.27,126.09 L14.67,126.47 L15.07,126.86 L15.46,127.26 L15.86,127.67 L16.25,128.08 L16.65,128.5 L17.05,128.92 L17.44,129.33 L17.84,129.74 L18.24,130.14 L18.63,130.53 L19.03,130.91 L19.42,131.27 L19.82,131.62 L20.22,131.94 L20.61,132.25 L21.01,132.53 L21.41,132.79 L21.8,133.02 L22.2,133.22 L22.59,133.4 L22.99,133.54 L23.39,133.65 L23.78,133.73 L24.18,133.78 L24.58,133.8 L24.97,133.78 L25.37,133.73 L25.76,133.65 L26.16,133.54 L26.56,133.4 L26.95,133.22 L27.35,133.02 L27.75,132.79 L28.14,132.53 L28.54,132.25 L28.93,131.94 L29.33,131.62 L29.73,131.27 L30.12,130.91 L30.52,130.53 L30.92,130.14 L31.31,129.74 L31.71,129.33 L32.1,128.92 L32.5,128.5 L32.9,128.08 L33.29,127.67 L33.69,127.26 L34.09,126.86 L34.48,126.47 L34.88,126.09 L35.27,125.73 L35.67,125.38 L36.07,125.06 L36.46,124.75 L36.86,124.47 L37.25,124.21 L37.65,123.98 L38.05,123.78 L38.44,123.6 L38.84,123.46 L39.24,123.35 L39.63,123.27 L40.03,123.22 L40.43,123.2 L40.82,123.22 L41.22,123.27 L41.61,123.35 L42.01,123.46 L42.41,123.6 L42.8,123.78 L43.2,123.98 L43.59,124.21 L43.99,124.47 L44.39,124.75 L44.78,125.06 L45.18,125.38 L45.58,125.73 L45.97,126.09 L46.37,126.47 L46.77,126.86 L47.16,127.26 L47.56,127.67 L47.95,128.08 L48.35,128.5 L48.75,128.92 L49.14,129.33 L49.54,129.74 L49.94,130.14 L50.33,130.53 L50.73,130.91 L51.12,131.27 L51.52,131.62 L51.92,131.94 L52.31,132.25 L52.71,132.53 L53.11,132.79 L53.5,133.02 L53.9,133.22 L54.29,133.4 L54.69,133.54 L55.09,133.65 L55.48,133.73 L55.88,133.78 L56.27,133.8 L56.67,133.78 L57.07,133.73 L57.46,133.65 L57.86,133.54 L58.26,133.4 L58.65,133.22 L59.05,133.02 L59.45,132.79 L59.84,132.53 L60.24,132.25 L60.63,131.94 L61.03,131.62 L61.43,131.27 L61.82,130.91 L62.22,130.53 L62.62,130.14 L63.01,129.74 L63.41,129.33 L63.8,128.92 L64.2,128.5 L0.8,128.5 Z" fill="url(#wg)" stroke="none"/>
<path d="M0.8,128.5 L1.2,128.08 L1.59,127.67 L1.99,127.26 L2.39,126.86 L2.78,126.47 L3.18,126.09 L3.57,125.73 L3.97,125.38 L4.37,125.06 L4.76,124.75 L5.16,124.47 L5.56,124.21 L5.95,123.98 L6.35,123.78 L6.74,123.6 L7.14,123.46 L7.54,123.35 L7.93,123.27 L8.33,123.22 L8.72,123.2 L9.12,123.22 L9.52,123.27 L9.91,123.35 L10.31,123.46 L10.71,123.6 L11.1,123.78 L11.5,123.98 L11.9,124.21 L12.29,124.47 L12.69,124.75 L13.08,125.06 L13.48,125.38 L13.88,125.73 L14.27,126.09 L14.67,126.47 L15.07,126.86 L15.46,127.26 L15.86,127.67 L16.25,128.08 L16.65,128.5 L17.05,128.92 L17.44,129.33 L17.84,129.74 L18.24,130.14 L18.63,130.53 L19.03,130.91 L19.42,131.27 L19.82,131.62 L20.22,131.94 L20.61,132.25 L21.01,132.53 L21.41,132.79 L21.8,133.02 L22.2,133.22 L22.59,133.4 L22.99,133.54 L23.39,133.65 L23.78,133.73 L24.18,133.78 L24.58,133.8 L24.97,133.78 L25.37,133.73 L25.76,133.65 L26.16,133.54 L26.56,133.4 L26.95,133.22 L27.35,133.02 L27.75,132.79 L28.14,132.53 L28.54,132.25 L28.93,131.94 L29.33,131.62 L29.73,131.27 L30.12,130.91 L30.52,130.53 L30.92,130.14 L31.31,129.74 L31.71,129.33 L32.1,128.92 L32.5,128.5 L32.9,128.08 L33.29,127.67 L33.69,127.26 L34.09,126.86 L34.48,126.47 L34.88,126.09 L35.27,125.73 L35.67,125.38 L36.07,125.06 L36.46,124.75 L36.86,124.47 L37.25,124.21 L37.65,123.98 L38.05,123.78 L38.44,123.6 L38.84,123.46 L39.24,123.35 L39.63,123.27 L40.03,123.22 L40.43,123.2 L40.82,123.22 L41.22,123.27 L41.61,123.35 L42.01,123.46 L42.41,123.6 L42.8,123.78 L43.2,123.98 L43.59,124.21 L43.99,124.47 L44.39,124.75 L44.78,125.06 L45.18,125.38 L45.58,125.73 L45.97,126.09 L46.37,126.47 L46.77,126.86 L47.16,127.26 L47.56,127.67 L47.95,128.08 L48.35,128.5 L48.75,128.92 L49.14,129.33 L49.54,129.74 L49.94,130.14 L50.33,130.53 L50.73,130.91 L51.12,131.27 L51.52,131.62 L51.92,131.94 L52.31,132.25 L52.71,132.53 L53.11,132.79 L53.5,133.02 L53.9,133.22 L54.29,133.4 L54.69,133.54 L55.09,133.65 L55.48,133.73 L55.88,133.78 L56.27,133.8 L56.67,133.78 L57.07,133.73 L57.46,133.65 L57.86,133.54 L58.26,133.4 L58.65,133.22 L59.05,133.02 L59.45,132.79 L59.84,132.53 L60.24,132.25 L60.63,131.94 L61.03,131.62 L61.43,131.27 L61.82,130.91 L62.22,130.53 L62.62,130.14 L63.01,129.74 L63.41,129.33 L63.8,128.92 L64.2,128.5" fill="none" stroke="#111" stroke-width="1.4"/>
</svg></body></html>
